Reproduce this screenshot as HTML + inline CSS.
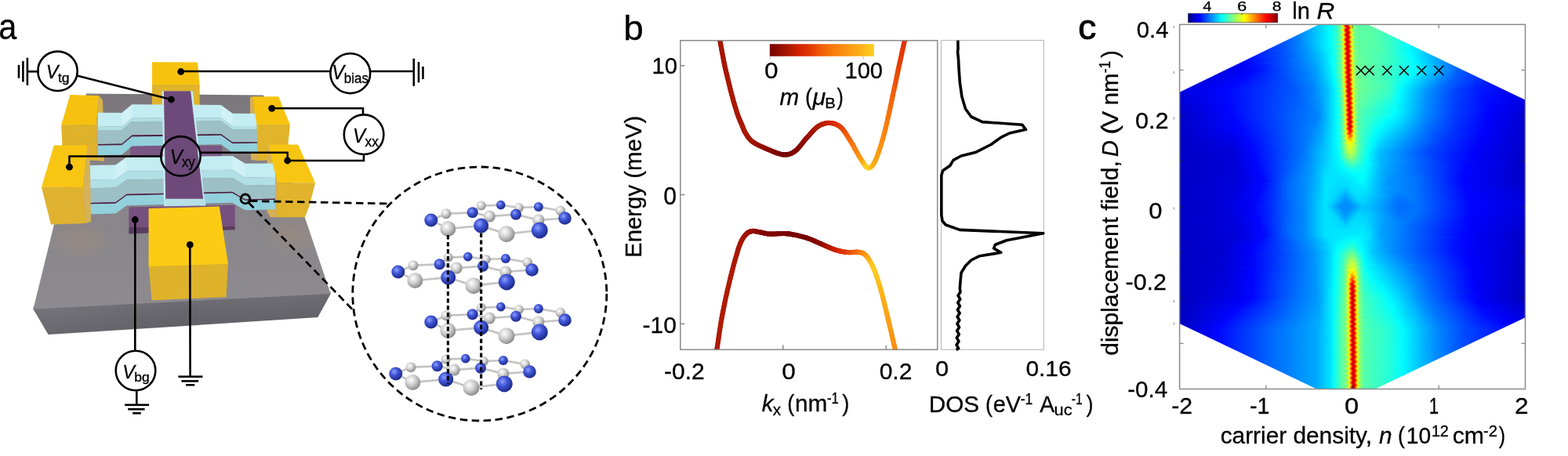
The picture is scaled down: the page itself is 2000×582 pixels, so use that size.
<!DOCTYPE html>
<html><head><meta charset="utf-8"><title>Figure</title>
<style>html,body{margin:0;padding:0;background:#fff;} svg{display:block;} text{stroke:#000;stroke-width:0.3px;}</style></head>
<body><svg width="2000" height="582" viewBox="0 0 2000 582">
<defs><linearGradient id="subTop" x1="0" y1="0" x2="0" y2="1">
<stop offset="0" stop-color="#7b767b"/><stop offset="0.45" stop-color="#87848a"/><stop offset="1" stop-color="#8d8b8f"/></linearGradient><linearGradient id="subFront" x1="0" y1="0" x2="0" y2="1">
<stop offset="0" stop-color="#717076"/><stop offset="1" stop-color="#5d5c62"/></linearGradient><linearGradient id="subFrontH" x1="0" y1="0" x2="1" y2="0">
<stop offset="0" stop-color="#ffffff" stop-opacity="0.08"/><stop offset="0.5" stop-color="#ffffff" stop-opacity="0"/><stop offset="1" stop-color="#000000" stop-opacity="0.03"/></linearGradient><filter id="tex" x="0" y="0" width="1" height="1"><feTurbulence type="fractalNoise" baseFrequency="0.9 1.1" numOctaves="2" seed="3" result="n"/>
<feColorMatrix in="n" type="matrix" values="0 0 0 0 0.66  0 0 0 0 0.47  0 0 0 0 0.05  0 0 0 4.2 -1.9" result="c"/>
<feComposite in="c" in2="SourceGraphic" operator="in" result="d"/>
<feMerge><feMergeNode in="SourceGraphic"/><feMergeNode in="d"/></feMerge></filter><radialGradient id="glowY" cx="0.5" cy="0.5" r="0.5"><stop offset="0" stop-color="#b09070" stop-opacity="0.35"/><stop offset="1" stop-color="#b09070" stop-opacity="0"/></radialGradient><clipPath id="clipSub"><polygon points="110.0,119.5 336.0,121.5 421.8,374.9 42.4,394.6"/></clipPath><radialGradient id="gB" cx="0.38" cy="0.35" r="0.65"><stop offset="0" stop-color="#8fa0ff"/><stop offset="0.45" stop-color="#3f55d6"/><stop offset="1" stop-color="#1f2a8a"/></radialGradient>
<radialGradient id="gG" cx="0.38" cy="0.35" r="0.65"><stop offset="0" stop-color="#ffffff"/><stop offset="0.5" stop-color="#cfcfcf"/><stop offset="1" stop-color="#8c8c8c"/></radialGradient><clipPath id="clipB"><rect x="867.8" y="51.7" width="327.9" height="394.5"/></clipPath><linearGradient id="cbB" x1="0" x2="1" y1="0" y2="0"><stop offset="0" stop-color="#780000"/><stop offset="0.1" stop-color="#940e00"/><stop offset="0.2" stop-color="#b21c02"/><stop offset="0.27" stop-color="#d02000"/><stop offset="0.4" stop-color="#e43c05"/><stop offset="0.5" stop-color="#f06008"/><stop offset="0.6" stop-color="#f87a0c"/><stop offset="0.72" stop-color="#fa9212"/><stop offset="0.85" stop-color="#fbac18"/><stop offset="1.0" stop-color="#fdd020"/></linearGradient><clipPath id="clipC"><polygon points="1505.0,117.5 1682.5,31.3 1745.0,31.3 1946.0,127.8 1946.0,405.0 1754.0,496.5 1679.3,496.5 1505.0,413.2"/></clipPath><linearGradient id="r0" x1="1504.6" x2="1945.5" y1="0" y2="0" gradientUnits="userSpaceOnUse"><stop offset="0.00%" stop-color="#0029ff"/><stop offset="25.86%" stop-color="#0034ff"/><stop offset="34.02%" stop-color="#007cff"/><stop offset="42.19%" stop-color="#00e9ff"/><stop offset="43.55%" stop-color="#01fffe"/><stop offset="45.29%" stop-color="#2effd1"/><stop offset="46.27%" stop-color="#6aff95"/><stop offset="46.65%" stop-color="#91ff6e"/><stop offset="46.95%" stop-color="#c1ff3e"/><stop offset="47.11%" stop-color="#e5ff1a"/><stop offset="47.33%" stop-color="#ffd700"/><stop offset="47.79%" stop-color="#ff3800"/><stop offset="48.02%" stop-color="#f30000"/><stop offset="48.31%" stop-color="#c80000"/><stop offset="48.47%" stop-color="#cc0000"/><stop offset="48.70%" stop-color="#f50000"/><stop offset="48.99%" stop-color="#ff5200"/><stop offset="49.38%" stop-color="#ffd700"/><stop offset="49.60%" stop-color="#e9ff16"/><stop offset="49.83%" stop-color="#bbff44"/><stop offset="50.28%" stop-color="#87ff78"/><stop offset="51.03%" stop-color="#64ff9b"/><stop offset="52.39%" stop-color="#58ffa7"/><stop offset="55.11%" stop-color="#5cffa3"/><stop offset="60.56%" stop-color="#3dffc2"/><stop offset="66.00%" stop-color="#00ffff"/><stop offset="74.17%" stop-color="#009aff"/><stop offset="85.73%" stop-color="#002bff"/><stop offset="97.30%" stop-color="#0000f9"/><stop offset="99.34%" stop-color="#0000f0"/></linearGradient><linearGradient id="r1" x1="1504.6" x2="1945.5" y1="0" y2="0" gradientUnits="userSpaceOnUse"><stop offset="0.00%" stop-color="#001eff"/><stop offset="25.18%" stop-color="#002fff"/><stop offset="33.34%" stop-color="#0074ff"/><stop offset="42.19%" stop-color="#00e9ff"/><stop offset="43.55%" stop-color="#01fffe"/><stop offset="45.59%" stop-color="#33ffcc"/><stop offset="46.68%" stop-color="#77ff88"/><stop offset="47.13%" stop-color="#b2ff4d"/><stop offset="47.36%" stop-color="#e2ff1d"/><stop offset="47.63%" stop-color="#ffce00"/><stop offset="48.04%" stop-color="#ff3e00"/><stop offset="48.26%" stop-color="#f70000"/><stop offset="48.49%" stop-color="#cd0000"/><stop offset="48.72%" stop-color="#cb0000"/><stop offset="48.99%" stop-color="#fc0000"/><stop offset="49.17%" stop-color="#ff3500"/><stop offset="49.67%" stop-color="#ffe000"/><stop offset="49.85%" stop-color="#edff12"/><stop offset="50.08%" stop-color="#bfff40"/><stop offset="50.53%" stop-color="#89ff76"/><stop offset="51.21%" stop-color="#67ff98"/><stop offset="52.39%" stop-color="#59ffa6"/><stop offset="55.79%" stop-color="#5affa5"/><stop offset="61.24%" stop-color="#37ffc8"/><stop offset="66.00%" stop-color="#00ffff"/><stop offset="74.17%" stop-color="#009aff"/><stop offset="85.73%" stop-color="#002bff"/><stop offset="97.30%" stop-color="#0000f9"/><stop offset="99.34%" stop-color="#0000f0"/></linearGradient><linearGradient id="r2" x1="1504.6" x2="1945.5" y1="0" y2="0" gradientUnits="userSpaceOnUse"><stop offset="0.00%" stop-color="#0012ff"/><stop offset="25.18%" stop-color="#002fff"/><stop offset="33.34%" stop-color="#0074ff"/><stop offset="42.19%" stop-color="#00e9ff"/><stop offset="43.55%" stop-color="#01fffe"/><stop offset="45.34%" stop-color="#2fffd0"/><stop offset="46.27%" stop-color="#67ff98"/><stop offset="46.70%" stop-color="#93ff6c"/><stop offset="46.95%" stop-color="#bbff44"/><stop offset="47.15%" stop-color="#e9ff16"/><stop offset="47.38%" stop-color="#ffd300"/><stop offset="47.83%" stop-color="#ff3400"/><stop offset="48.06%" stop-color="#f00000"/><stop offset="48.31%" stop-color="#c90000"/><stop offset="48.51%" stop-color="#ce0000"/><stop offset="48.74%" stop-color="#f80000"/><stop offset="48.99%" stop-color="#ff4700"/><stop offset="49.42%" stop-color="#ffdb00"/><stop offset="49.67%" stop-color="#e0ff1f"/><stop offset="49.88%" stop-color="#b9ff46"/><stop offset="50.35%" stop-color="#84ff7b"/><stop offset="51.24%" stop-color="#60ff9f"/><stop offset="53.07%" stop-color="#5bffa4"/><stop offset="56.48%" stop-color="#57ffa8"/><stop offset="61.24%" stop-color="#37ffc8"/><stop offset="66.00%" stop-color="#00ffff"/><stop offset="74.17%" stop-color="#009aff"/><stop offset="85.73%" stop-color="#002bff"/><stop offset="97.30%" stop-color="#0000f9"/><stop offset="99.34%" stop-color="#0000f0"/></linearGradient><linearGradient id="r3" x1="1504.6" x2="1945.5" y1="0" y2="0" gradientUnits="userSpaceOnUse"><stop offset="0.00%" stop-color="#0007ff"/><stop offset="23.81%" stop-color="#002bff"/><stop offset="32.66%" stop-color="#006cff"/><stop offset="40.83%" stop-color="#00d5ff"/><stop offset="43.55%" stop-color="#01fffe"/><stop offset="45.34%" stop-color="#29ffd6"/><stop offset="46.47%" stop-color="#64ff9b"/><stop offset="46.95%" stop-color="#92ff6d"/><stop offset="47.38%" stop-color="#e0ff1f"/><stop offset="47.63%" stop-color="#ffd800"/><stop offset="48.06%" stop-color="#ff4100"/><stop offset="48.31%" stop-color="#f40000"/><stop offset="48.51%" stop-color="#ce0000"/><stop offset="48.74%" stop-color="#ca0000"/><stop offset="48.99%" stop-color="#f40000"/><stop offset="49.19%" stop-color="#ff3200"/><stop offset="49.67%" stop-color="#ffd600"/><stop offset="49.88%" stop-color="#efff10"/><stop offset="50.10%" stop-color="#c0ff3f"/><stop offset="50.56%" stop-color="#8aff75"/><stop offset="51.24%" stop-color="#68ff97"/><stop offset="52.39%" stop-color="#5affa5"/><stop offset="55.79%" stop-color="#5affa5"/><stop offset="61.24%" stop-color="#37ffc8"/><stop offset="66.00%" stop-color="#00ffff"/><stop offset="74.17%" stop-color="#009aff"/><stop offset="85.73%" stop-color="#002bff"/><stop offset="97.30%" stop-color="#0000f9"/><stop offset="99.34%" stop-color="#0000f0"/></linearGradient><linearGradient id="r4" x1="1504.6" x2="1945.5" y1="0" y2="0" gradientUnits="userSpaceOnUse"><stop offset="0.00%" stop-color="#0000fa"/><stop offset="19.05%" stop-color="#001dff"/><stop offset="25.86%" stop-color="#0034ff"/><stop offset="34.02%" stop-color="#007cff"/><stop offset="42.19%" stop-color="#00e9ff"/><stop offset="43.55%" stop-color="#01fffe"/><stop offset="45.36%" stop-color="#2fffd0"/><stop offset="46.27%" stop-color="#65ff9a"/><stop offset="46.72%" stop-color="#92ff6d"/><stop offset="46.95%" stop-color="#b5ff4a"/><stop offset="47.18%" stop-color="#e6ff19"/><stop offset="47.40%" stop-color="#ffd600"/><stop offset="47.86%" stop-color="#ff3700"/><stop offset="48.08%" stop-color="#f20000"/><stop offset="48.31%" stop-color="#cc0000"/><stop offset="48.54%" stop-color="#cd0000"/><stop offset="48.76%" stop-color="#f50000"/><stop offset="48.99%" stop-color="#ff3b00"/><stop offset="49.44%" stop-color="#ffd800"/><stop offset="49.67%" stop-color="#e8ff17"/><stop offset="49.90%" stop-color="#bbff44"/><stop offset="50.35%" stop-color="#87ff78"/><stop offset="51.03%" stop-color="#66ff99"/><stop offset="52.39%" stop-color="#58ffa7"/><stop offset="55.11%" stop-color="#5cffa3"/><stop offset="60.56%" stop-color="#3dffc2"/><stop offset="66.00%" stop-color="#00ffff"/><stop offset="74.17%" stop-color="#009aff"/><stop offset="85.73%" stop-color="#002bff"/><stop offset="97.30%" stop-color="#0000f9"/><stop offset="99.34%" stop-color="#0000f0"/></linearGradient><linearGradient id="r5" x1="1504.6" x2="1945.5" y1="0" y2="0" gradientUnits="userSpaceOnUse"><stop offset="0.00%" stop-color="#0000ef"/><stop offset="14.97%" stop-color="#000aff"/><stop offset="26.54%" stop-color="#003aff"/><stop offset="34.02%" stop-color="#007cff"/><stop offset="42.19%" stop-color="#00e9ff"/><stop offset="43.55%" stop-color="#01fffe"/><stop offset="45.61%" stop-color="#33ffcc"/><stop offset="46.52%" stop-color="#65ff9a"/><stop offset="46.97%" stop-color="#91ff6e"/><stop offset="47.20%" stop-color="#b3ff4c"/><stop offset="47.43%" stop-color="#e3ff1c"/><stop offset="47.65%" stop-color="#ffdb00"/><stop offset="48.11%" stop-color="#ff3d00"/><stop offset="48.31%" stop-color="#fc0000"/><stop offset="48.56%" stop-color="#cd0000"/><stop offset="48.79%" stop-color="#cb0000"/><stop offset="49.01%" stop-color="#f10000"/><stop offset="49.24%" stop-color="#ff3600"/><stop offset="49.69%" stop-color="#ffd300"/><stop offset="49.92%" stop-color="#ecff13"/><stop offset="50.15%" stop-color="#beff41"/><stop offset="50.60%" stop-color="#89ff76"/><stop offset="51.28%" stop-color="#68ff97"/><stop offset="52.39%" stop-color="#5affa5"/><stop offset="55.79%" stop-color="#5affa5"/><stop offset="61.24%" stop-color="#37ffc8"/><stop offset="66.00%" stop-color="#00ffff"/><stop offset="74.17%" stop-color="#009aff"/><stop offset="85.73%" stop-color="#002bff"/><stop offset="97.30%" stop-color="#0000f9"/><stop offset="99.34%" stop-color="#0000f0"/></linearGradient><linearGradient id="r6" x1="1504.6" x2="1945.5" y1="0" y2="0" gradientUnits="userSpaceOnUse"><stop offset="0.00%" stop-color="#0000e3"/><stop offset="15.65%" stop-color="#0007ff"/><stop offset="26.54%" stop-color="#003aff"/><stop offset="34.02%" stop-color="#007cff"/><stop offset="42.19%" stop-color="#00e9ff"/><stop offset="43.55%" stop-color="#01fffe"/><stop offset="45.41%" stop-color="#30ffcf"/><stop offset="46.31%" stop-color="#66ff99"/><stop offset="46.77%" stop-color="#94ff6b"/><stop offset="46.99%" stop-color="#b8ff47"/><stop offset="47.22%" stop-color="#eaff15"/><stop offset="47.45%" stop-color="#ffd200"/><stop offset="47.90%" stop-color="#ff3300"/><stop offset="48.13%" stop-color="#ef0000"/><stop offset="48.36%" stop-color="#ca0000"/><stop offset="48.58%" stop-color="#ce0000"/><stop offset="48.81%" stop-color="#f90000"/><stop offset="49.04%" stop-color="#ff4000"/><stop offset="49.49%" stop-color="#ffdc00"/><stop offset="49.67%" stop-color="#f0ff0f"/><stop offset="49.94%" stop-color="#b9ff46"/><stop offset="50.40%" stop-color="#86ff79"/><stop offset="51.30%" stop-color="#60ff9f"/><stop offset="53.07%" stop-color="#5bffa4"/><stop offset="56.48%" stop-color="#57ffa8"/><stop offset="61.24%" stop-color="#37ffc8"/><stop offset="66.00%" stop-color="#00ffff"/><stop offset="74.17%" stop-color="#009aff"/><stop offset="85.73%" stop-color="#002bff"/><stop offset="97.30%" stop-color="#0000f9"/><stop offset="99.34%" stop-color="#0000f0"/></linearGradient><linearGradient id="r7" x1="1504.6" x2="1945.5" y1="0" y2="0" gradientUnits="userSpaceOnUse"><stop offset="0.00%" stop-color="#0000d8"/><stop offset="16.33%" stop-color="#0004ff"/><stop offset="27.90%" stop-color="#0044ff"/><stop offset="34.70%" stop-color="#0083ff"/><stop offset="43.55%" stop-color="#01fffe"/><stop offset="45.63%" stop-color="#33ffcc"/><stop offset="46.54%" stop-color="#64ff9b"/><stop offset="46.99%" stop-color="#8fff70"/><stop offset="47.22%" stop-color="#b1ff4e"/><stop offset="47.45%" stop-color="#e1ff1e"/><stop offset="47.63%" stop-color="#ffec00"/><stop offset="48.31%" stop-color="#ff0600"/><stop offset="48.58%" stop-color="#ce0000"/><stop offset="48.81%" stop-color="#cb0000"/><stop offset="49.04%" stop-color="#ef0000"/><stop offset="49.26%" stop-color="#ff3300"/><stop offset="49.72%" stop-color="#ffd000"/><stop offset="49.94%" stop-color="#efff10"/><stop offset="50.35%" stop-color="#a5ff5a"/><stop offset="50.85%" stop-color="#7bff84"/><stop offset="51.76%" stop-color="#5effa1"/><stop offset="57.16%" stop-color="#54ffab"/><stop offset="61.92%" stop-color="#30ffcf"/><stop offset="66.00%" stop-color="#00ffff"/><stop offset="74.17%" stop-color="#009aff"/><stop offset="85.73%" stop-color="#002bff"/><stop offset="97.30%" stop-color="#0000f9"/><stop offset="99.34%" stop-color="#0000f0"/></linearGradient><linearGradient id="r8" x1="1504.6" x2="1945.5" y1="0" y2="0" gradientUnits="userSpaceOnUse"><stop offset="0.00%" stop-color="#0000d3"/><stop offset="17.01%" stop-color="#0004ff"/><stop offset="28.58%" stop-color="#0049ff"/><stop offset="34.70%" stop-color="#0082ff"/><stop offset="42.87%" stop-color="#00f3ff"/><stop offset="43.55%" stop-color="#00ffff"/><stop offset="45.43%" stop-color="#30ffcf"/><stop offset="46.34%" stop-color="#65ff9a"/><stop offset="46.95%" stop-color="#aaff55"/><stop offset="47.24%" stop-color="#e8ff17"/><stop offset="47.47%" stop-color="#ffd500"/><stop offset="47.92%" stop-color="#ff3600"/><stop offset="48.15%" stop-color="#f10000"/><stop offset="48.38%" stop-color="#cb0000"/><stop offset="48.61%" stop-color="#cd0000"/><stop offset="48.83%" stop-color="#f60000"/><stop offset="49.06%" stop-color="#ff3d00"/><stop offset="49.51%" stop-color="#ffd900"/><stop offset="49.67%" stop-color="#f8ff07"/><stop offset="49.97%" stop-color="#bbff44"/><stop offset="50.42%" stop-color="#87ff78"/><stop offset="51.33%" stop-color="#61ff9e"/><stop offset="53.07%" stop-color="#5cffa3"/><stop offset="57.16%" stop-color="#54ffab"/><stop offset="62.60%" stop-color="#2affd5"/><stop offset="66.00%" stop-color="#01fffe"/><stop offset="78.25%" stop-color="#006fff"/><stop offset="86.41%" stop-color="#0029ff"/><stop offset="97.30%" stop-color="#0000f8"/><stop offset="99.34%" stop-color="#0000ef"/></linearGradient><linearGradient id="r9" x1="1504.6" x2="1945.5" y1="0" y2="0" gradientUnits="userSpaceOnUse"><stop offset="0.00%" stop-color="#0000d1"/><stop offset="17.69%" stop-color="#0006ff"/><stop offset="29.26%" stop-color="#004dff"/><stop offset="36.06%" stop-color="#0090ff"/><stop offset="43.55%" stop-color="#00fdff"/><stop offset="45.59%" stop-color="#2fffd0"/><stop offset="46.59%" stop-color="#66ff99"/><stop offset="47.04%" stop-color="#92ff6d"/><stop offset="47.27%" stop-color="#b5ff4a"/><stop offset="47.49%" stop-color="#e5ff1a"/><stop offset="47.63%" stop-color="#fff500"/><stop offset="48.31%" stop-color="#ff0f00"/><stop offset="48.40%" stop-color="#f50000"/><stop offset="48.63%" stop-color="#cd0000"/><stop offset="48.85%" stop-color="#cc0000"/><stop offset="49.08%" stop-color="#f20000"/><stop offset="49.31%" stop-color="#ff3700"/><stop offset="49.76%" stop-color="#ffd300"/><stop offset="49.99%" stop-color="#ecff13"/><stop offset="50.35%" stop-color="#aaff55"/><stop offset="50.90%" stop-color="#7cff83"/><stop offset="51.80%" stop-color="#60ff9f"/><stop offset="59.20%" stop-color="#4affb5"/><stop offset="66.00%" stop-color="#02fffd"/><stop offset="80.29%" stop-color="#005cff"/><stop offset="86.41%" stop-color="#002aff"/><stop offset="96.62%" stop-color="#0000fa"/><stop offset="99.34%" stop-color="#0000ee"/></linearGradient><linearGradient id="r10" x1="1504.6" x2="1945.5" y1="0" y2="0" gradientUnits="userSpaceOnUse"><stop offset="0.00%" stop-color="#0000cf"/><stop offset="17.69%" stop-color="#0005ff"/><stop offset="29.26%" stop-color="#004cff"/><stop offset="36.74%" stop-color="#0096ff"/><stop offset="43.55%" stop-color="#00fbff"/><stop offset="44.91%" stop-color="#1bffe4"/><stop offset="45.91%" stop-color="#46ffb9"/><stop offset="46.59%" stop-color="#79ff86"/><stop offset="47.04%" stop-color="#b6ff49"/><stop offset="47.27%" stop-color="#e6ff19"/><stop offset="47.49%" stop-color="#ffd700"/><stop offset="47.95%" stop-color="#ff3900"/><stop offset="48.17%" stop-color="#f40000"/><stop offset="48.40%" stop-color="#cc0000"/><stop offset="48.63%" stop-color="#cc0000"/><stop offset="48.85%" stop-color="#f40000"/><stop offset="48.99%" stop-color="#ff1b00"/><stop offset="49.67%" stop-color="#fffd00"/><stop offset="49.99%" stop-color="#beff41"/><stop offset="50.44%" stop-color="#8aff75"/><stop offset="51.35%" stop-color="#63ff9c"/><stop offset="53.07%" stop-color="#5cffa3"/><stop offset="58.52%" stop-color="#4effb1"/><stop offset="66.68%" stop-color="#00faff"/><stop offset="80.97%" stop-color="#0056ff"/><stop offset="87.78%" stop-color="#0024ff"/><stop offset="96.62%" stop-color="#0000fa"/><stop offset="99.34%" stop-color="#0000ed"/></linearGradient><linearGradient id="r11" x1="1504.6" x2="1945.5" y1="0" y2="0" gradientUnits="userSpaceOnUse"><stop offset="0.00%" stop-color="#0000ce"/><stop offset="18.37%" stop-color="#0006ff"/><stop offset="29.94%" stop-color="#0051ff"/><stop offset="38.78%" stop-color="#00adff"/><stop offset="43.55%" stop-color="#00faff"/><stop offset="44.91%" stop-color="#18ffe7"/><stop offset="46.16%" stop-color="#49ffb6"/><stop offset="46.95%" stop-color="#85ff7a"/><stop offset="47.29%" stop-color="#b5ff4a"/><stop offset="47.63%" stop-color="#fffd00"/><stop offset="48.31%" stop-color="#ff1900"/><stop offset="48.42%" stop-color="#f80000"/><stop offset="48.65%" stop-color="#ce0000"/><stop offset="48.88%" stop-color="#cb0000"/><stop offset="49.10%" stop-color="#f00000"/><stop offset="49.33%" stop-color="#ff3400"/><stop offset="49.78%" stop-color="#ffd000"/><stop offset="50.01%" stop-color="#efff10"/><stop offset="50.35%" stop-color="#b0ff4f"/><stop offset="50.92%" stop-color="#7eff81"/><stop offset="51.83%" stop-color="#62ff9d"/><stop offset="59.20%" stop-color="#49ffb6"/><stop offset="66.68%" stop-color="#00fcff"/><stop offset="80.97%" stop-color="#0057ff"/><stop offset="88.46%" stop-color="#0021ff"/><stop offset="96.62%" stop-color="#0000f9"/><stop offset="99.34%" stop-color="#0000ec"/></linearGradient><linearGradient id="r12" x1="1504.6" x2="1945.5" y1="0" y2="0" gradientUnits="userSpaceOnUse"><stop offset="0.00%" stop-color="#0000cc"/><stop offset="18.37%" stop-color="#0005ff"/><stop offset="28.58%" stop-color="#0046ff"/><stop offset="36.74%" stop-color="#0092ff"/><stop offset="41.51%" stop-color="#00d3ff"/><stop offset="44.23%" stop-color="#07fff8"/><stop offset="45.72%" stop-color="#3affc5"/><stop offset="46.63%" stop-color="#7bff84"/><stop offset="47.09%" stop-color="#b9ff46"/><stop offset="47.31%" stop-color="#ebff14"/><stop offset="47.54%" stop-color="#ffd200"/><stop offset="47.99%" stop-color="#ff3400"/><stop offset="48.22%" stop-color="#f00000"/><stop offset="48.45%" stop-color="#cb0000"/><stop offset="48.67%" stop-color="#cd0000"/><stop offset="48.90%" stop-color="#f70000"/><stop offset="48.99%" stop-color="#ff1200"/><stop offset="49.67%" stop-color="#fff300"/><stop offset="49.81%" stop-color="#e9ff16"/><stop offset="50.03%" stop-color="#bdff42"/><stop offset="50.49%" stop-color="#8bff74"/><stop offset="51.39%" stop-color="#65ff9a"/><stop offset="59.88%" stop-color="#42ffbd"/><stop offset="66.68%" stop-color="#00feff"/><stop offset="80.97%" stop-color="#0058ff"/><stop offset="89.14%" stop-color="#001eff"/><stop offset="96.62%" stop-color="#0000f8"/><stop offset="99.34%" stop-color="#0000eb"/></linearGradient><linearGradient id="r13" x1="1504.6" x2="1945.5" y1="0" y2="0" gradientUnits="userSpaceOnUse"><stop offset="0.00%" stop-color="#0000ca"/><stop offset="19.05%" stop-color="#0006ff"/><stop offset="31.98%" stop-color="#005fff"/><stop offset="40.15%" stop-color="#00b9ff"/><stop offset="44.23%" stop-color="#04fffb"/><stop offset="45.97%" stop-color="#3effc1"/><stop offset="46.88%" stop-color="#7cff83"/><stop offset="47.33%" stop-color="#b8ff47"/><stop offset="47.63%" stop-color="#f9ff06"/><stop offset="47.79%" stop-color="#ffd700"/><stop offset="48.31%" stop-color="#ff2300"/><stop offset="48.47%" stop-color="#f40000"/><stop offset="48.70%" stop-color="#cc0000"/><stop offset="48.92%" stop-color="#cc0000"/><stop offset="49.15%" stop-color="#f30000"/><stop offset="49.38%" stop-color="#ff3800"/><stop offset="49.83%" stop-color="#ffd300"/><stop offset="50.06%" stop-color="#edff12"/><stop offset="50.35%" stop-color="#b6ff49"/><stop offset="50.74%" stop-color="#8dff72"/><stop offset="51.71%" stop-color="#66ff99"/><stop offset="59.88%" stop-color="#42ffbd"/><stop offset="66.68%" stop-color="#01fffe"/><stop offset="81.65%" stop-color="#0053ff"/><stop offset="91.86%" stop-color="#0010ff"/><stop offset="97.30%" stop-color="#0000f4"/><stop offset="99.34%" stop-color="#0000ea"/></linearGradient><linearGradient id="r14" x1="1504.6" x2="1945.5" y1="0" y2="0" gradientUnits="userSpaceOnUse"><stop offset="0.00%" stop-color="#0000c9"/><stop offset="19.05%" stop-color="#0005ff"/><stop offset="28.58%" stop-color="#0044ff"/><stop offset="38.10%" stop-color="#009cff"/><stop offset="42.19%" stop-color="#00dbff"/><stop offset="44.23%" stop-color="#04fffb"/><stop offset="45.75%" stop-color="#39ffc6"/><stop offset="46.65%" stop-color="#7bff84"/><stop offset="47.11%" stop-color="#b9ff46"/><stop offset="47.33%" stop-color="#e9ff16"/><stop offset="47.56%" stop-color="#ffd500"/><stop offset="48.02%" stop-color="#ff3800"/><stop offset="48.24%" stop-color="#f30000"/><stop offset="48.47%" stop-color="#cc0000"/><stop offset="48.70%" stop-color="#cd0000"/><stop offset="48.92%" stop-color="#f50000"/><stop offset="48.99%" stop-color="#ff0800"/><stop offset="49.67%" stop-color="#ffe900"/><stop offset="49.83%" stop-color="#ecff13"/><stop offset="50.06%" stop-color="#bfff40"/><stop offset="50.51%" stop-color="#8dff72"/><stop offset="51.42%" stop-color="#67ff98"/><stop offset="59.88%" stop-color="#42ffbd"/><stop offset="67.36%" stop-color="#00fbff"/><stop offset="80.97%" stop-color="#005aff"/><stop offset="91.18%" stop-color="#0013ff"/><stop offset="96.62%" stop-color="#0000f7"/><stop offset="99.34%" stop-color="#0000e9"/></linearGradient><linearGradient id="r15" x1="1504.6" x2="1945.5" y1="0" y2="0" gradientUnits="userSpaceOnUse"><stop offset="0.00%" stop-color="#0000c7"/><stop offset="17.69%" stop-color="#0000fc"/><stop offset="23.81%" stop-color="#001fff"/><stop offset="36.06%" stop-color="#0085ff"/><stop offset="40.83%" stop-color="#00bfff"/><stop offset="44.23%" stop-color="#01fffe"/><stop offset="46.00%" stop-color="#3dffc2"/><stop offset="46.95%" stop-color="#81ff7e"/><stop offset="47.36%" stop-color="#b8ff47"/><stop offset="47.63%" stop-color="#f2ff0d"/><stop offset="47.81%" stop-color="#ffd900"/><stop offset="48.31%" stop-color="#ff2e00"/><stop offset="48.49%" stop-color="#f70000"/><stop offset="48.72%" stop-color="#cd0000"/><stop offset="48.99%" stop-color="#d00000"/><stop offset="49.17%" stop-color="#f10000"/><stop offset="49.40%" stop-color="#ff3500"/><stop offset="49.85%" stop-color="#ffd000"/><stop offset="50.08%" stop-color="#f0ff0f"/><stop offset="50.35%" stop-color="#bcff43"/><stop offset="50.76%" stop-color="#90ff6f"/><stop offset="51.67%" stop-color="#6aff95"/><stop offset="60.56%" stop-color="#3cffc3"/><stop offset="67.36%" stop-color="#00fdff"/><stop offset="81.65%" stop-color="#0055ff"/><stop offset="93.90%" stop-color="#0005ff"/><stop offset="99.34%" stop-color="#0000e8"/></linearGradient><linearGradient id="r16" x1="1504.6" x2="1945.5" y1="0" y2="0" gradientUnits="userSpaceOnUse"><stop offset="0.00%" stop-color="#0000c6"/><stop offset="19.73%" stop-color="#0004ff"/><stop offset="34.70%" stop-color="#0075ff"/><stop offset="40.15%" stop-color="#00b0ff"/><stop offset="44.23%" stop-color="#00ffff"/><stop offset="45.79%" stop-color="#3affc5"/><stop offset="46.70%" stop-color="#7dff82"/><stop offset="47.15%" stop-color="#bcff43"/><stop offset="47.38%" stop-color="#eeff11"/><stop offset="47.63%" stop-color="#ffc900"/><stop offset="48.06%" stop-color="#ff3300"/><stop offset="48.31%" stop-color="#ea0000"/><stop offset="48.51%" stop-color="#cb0000"/><stop offset="48.74%" stop-color="#ce0000"/><stop offset="48.99%" stop-color="#fe0000"/><stop offset="49.67%" stop-color="#ffe000"/><stop offset="49.88%" stop-color="#eaff15"/><stop offset="50.10%" stop-color="#bfff40"/><stop offset="50.56%" stop-color="#8eff71"/><stop offset="51.46%" stop-color="#69ff96"/><stop offset="60.56%" stop-color="#3cffc3"/><stop offset="68.04%" stop-color="#00f9ff"/><stop offset="80.97%" stop-color="#005bff"/><stop offset="93.22%" stop-color="#0008ff"/><stop offset="99.34%" stop-color="#0000e7"/></linearGradient><linearGradient id="r17" x1="1504.6" x2="1945.5" y1="0" y2="0" gradientUnits="userSpaceOnUse"><stop offset="0.00%" stop-color="#0000c4"/><stop offset="17.69%" stop-color="#0000f9"/><stop offset="23.13%" stop-color="#0017ff"/><stop offset="37.42%" stop-color="#008eff"/><stop offset="40.15%" stop-color="#00adff"/><stop offset="44.23%" stop-color="#00fdff"/><stop offset="45.79%" stop-color="#32ffcd"/><stop offset="46.70%" stop-color="#6aff95"/><stop offset="47.15%" stop-color="#97ff68"/><stop offset="47.38%" stop-color="#b8ff47"/><stop offset="47.63%" stop-color="#ebff14"/><stop offset="47.83%" stop-color="#ffdb00"/><stop offset="48.31%" stop-color="#ff3900"/><stop offset="48.51%" stop-color="#f90000"/><stop offset="48.74%" stop-color="#ce0000"/><stop offset="48.99%" stop-color="#cc0000"/><stop offset="49.19%" stop-color="#ee0000"/><stop offset="49.42%" stop-color="#ff3100"/><stop offset="49.88%" stop-color="#ffcd00"/><stop offset="50.10%" stop-color="#f3ff0c"/><stop offset="50.35%" stop-color="#c2ff3d"/><stop offset="50.78%" stop-color="#92ff6d"/><stop offset="51.69%" stop-color="#6cff93"/><stop offset="56.48%" stop-color="#53ffac"/><stop offset="64.64%" stop-color="#1bffe4"/><stop offset="68.04%" stop-color="#00fbff"/><stop offset="80.97%" stop-color="#005cff"/><stop offset="93.90%" stop-color="#0004ff"/><stop offset="99.34%" stop-color="#0000e6"/></linearGradient><linearGradient id="r18" x1="1504.6" x2="1945.5" y1="0" y2="0" gradientUnits="userSpaceOnUse"><stop offset="0.00%" stop-color="#0000c3"/><stop offset="17.69%" stop-color="#0000f7"/><stop offset="22.45%" stop-color="#0010ff"/><stop offset="38.78%" stop-color="#0098ff"/><stop offset="42.87%" stop-color="#00e0ff"/><stop offset="44.23%" stop-color="#00fcff"/><stop offset="45.59%" stop-color="#2effd1"/><stop offset="46.50%" stop-color="#69ff96"/><stop offset="46.95%" stop-color="#98ff67"/><stop offset="47.18%" stop-color="#bcff43"/><stop offset="47.40%" stop-color="#edff12"/><stop offset="47.63%" stop-color="#ffd200"/><stop offset="48.08%" stop-color="#ff3600"/><stop offset="48.31%" stop-color="#f20000"/><stop offset="48.54%" stop-color="#cb0000"/><stop offset="48.76%" stop-color="#cd0000"/><stop offset="48.99%" stop-color="#f60000"/><stop offset="49.22%" stop-color="#ff3b00"/><stop offset="49.67%" stop-color="#ffd500"/><stop offset="49.90%" stop-color="#edff12"/><stop offset="50.12%" stop-color="#c1ff3e"/><stop offset="50.58%" stop-color="#90ff6f"/><stop offset="51.49%" stop-color="#6bff94"/><stop offset="60.56%" stop-color="#3bffc4"/><stop offset="68.04%" stop-color="#00feff"/><stop offset="80.29%" stop-color="#0063ff"/><stop offset="93.22%" stop-color="#0008ff"/><stop offset="98.66%" stop-color="#0000e9"/><stop offset="99.34%" stop-color="#0000e5"/></linearGradient><linearGradient id="r19" x1="1504.6" x2="1945.5" y1="0" y2="0" gradientUnits="userSpaceOnUse"><stop offset="0.00%" stop-color="#0000c2"/><stop offset="17.69%" stop-color="#0000f6"/><stop offset="22.45%" stop-color="#000eff"/><stop offset="39.46%" stop-color="#009cff"/><stop offset="44.23%" stop-color="#00faff"/><stop offset="45.61%" stop-color="#28ffd7"/><stop offset="46.75%" stop-color="#6cff93"/><stop offset="47.20%" stop-color="#9aff65"/><stop offset="47.65%" stop-color="#eaff15"/><stop offset="47.88%" stop-color="#ffd700"/><stop offset="48.33%" stop-color="#ff3c00"/><stop offset="48.56%" stop-color="#f60000"/><stop offset="48.79%" stop-color="#cd0000"/><stop offset="49.01%" stop-color="#cb0000"/><stop offset="49.24%" stop-color="#f20000"/><stop offset="49.47%" stop-color="#ff3600"/><stop offset="49.92%" stop-color="#ffd000"/><stop offset="50.15%" stop-color="#f1ff0e"/><stop offset="50.37%" stop-color="#c5ff3a"/><stop offset="50.83%" stop-color="#93ff6c"/><stop offset="51.74%" stop-color="#6eff91"/><stop offset="55.79%" stop-color="#55ffaa"/><stop offset="62.60%" stop-color="#2cffd3"/><stop offset="68.04%" stop-color="#01fffe"/><stop offset="80.97%" stop-color="#005dff"/><stop offset="93.22%" stop-color="#0007ff"/><stop offset="99.34%" stop-color="#0000e4"/></linearGradient><linearGradient id="r20" x1="1504.6" x2="1945.5" y1="0" y2="0" gradientUnits="userSpaceOnUse"><stop offset="0.00%" stop-color="#0000c5"/><stop offset="18.37%" stop-color="#0000fc"/><stop offset="23.13%" stop-color="#0017ff"/><stop offset="38.78%" stop-color="#0093ff"/><stop offset="42.87%" stop-color="#00daff"/><stop offset="44.23%" stop-color="#00f8ff"/><stop offset="44.91%" stop-color="#0dfff2"/><stop offset="46.09%" stop-color="#46ffb9"/><stop offset="46.77%" stop-color="#7eff81"/><stop offset="47.22%" stop-color="#beff41"/><stop offset="47.45%" stop-color="#efff10"/><stop offset="47.68%" stop-color="#ffcf00"/><stop offset="48.13%" stop-color="#ff3300"/><stop offset="48.31%" stop-color="#fb0000"/><stop offset="48.58%" stop-color="#cb0000"/><stop offset="48.81%" stop-color="#ce0000"/><stop offset="49.04%" stop-color="#f80000"/><stop offset="49.26%" stop-color="#ff3f00"/><stop offset="49.72%" stop-color="#ffd800"/><stop offset="49.94%" stop-color="#ebff14"/><stop offset="50.35%" stop-color="#a8ff57"/><stop offset="51.03%" stop-color="#7bff84"/><stop offset="51.98%" stop-color="#66ff99"/><stop offset="60.56%" stop-color="#3bffc4"/><stop offset="68.04%" stop-color="#00f8ff"/><stop offset="80.29%" stop-color="#005fff"/><stop offset="93.90%" stop-color="#0003ff"/><stop offset="99.34%" stop-color="#0000e5"/></linearGradient><linearGradient id="r21" x1="1504.6" x2="1945.5" y1="0" y2="0" gradientUnits="userSpaceOnUse"><stop offset="0.00%" stop-color="#0000c8"/><stop offset="19.73%" stop-color="#0006ff"/><stop offset="36.74%" stop-color="#007eff"/><stop offset="40.15%" stop-color="#00a3ff"/><stop offset="44.23%" stop-color="#00f4ff"/><stop offset="44.91%" stop-color="#08fff7"/><stop offset="46.27%" stop-color="#43ffbc"/><stop offset="47.02%" stop-color="#7eff81"/><stop offset="47.47%" stop-color="#bcff43"/><stop offset="47.70%" stop-color="#ebff14"/><stop offset="47.92%" stop-color="#ffd500"/><stop offset="48.38%" stop-color="#ff3900"/><stop offset="48.61%" stop-color="#f40000"/><stop offset="48.83%" stop-color="#cc0000"/><stop offset="49.06%" stop-color="#cc0000"/><stop offset="49.29%" stop-color="#f30000"/><stop offset="49.51%" stop-color="#ff3800"/><stop offset="49.97%" stop-color="#ffd200"/><stop offset="50.19%" stop-color="#efff10"/><stop offset="50.42%" stop-color="#c4ff3b"/><stop offset="50.87%" stop-color="#92ff6d"/><stop offset="51.78%" stop-color="#6eff91"/><stop offset="56.48%" stop-color="#54ffab"/><stop offset="61.92%" stop-color="#2dffd2"/><stop offset="66.68%" stop-color="#00feff"/><stop offset="80.97%" stop-color="#0055ff"/><stop offset="93.90%" stop-color="#0003ff"/><stop offset="99.34%" stop-color="#0000e7"/></linearGradient><linearGradient id="r22" x1="1504.6" x2="1945.5" y1="0" y2="0" gradientUnits="userSpaceOnUse"><stop offset="0.00%" stop-color="#0000cc"/><stop offset="18.37%" stop-color="#0004ff"/><stop offset="29.26%" stop-color="#0044ff"/><stop offset="39.46%" stop-color="#0097ff"/><stop offset="44.91%" stop-color="#06fff9"/><stop offset="46.11%" stop-color="#40ffbf"/><stop offset="46.79%" stop-color="#79ff86"/><stop offset="47.24%" stop-color="#b9ff46"/><stop offset="47.47%" stop-color="#eaff15"/><stop offset="47.63%" stop-color="#ffe900"/><stop offset="48.31%" stop-color="#ff0600"/><stop offset="48.61%" stop-color="#cc0000"/><stop offset="48.83%" stop-color="#cc0000"/><stop offset="49.06%" stop-color="#f40000"/><stop offset="49.29%" stop-color="#ff3900"/><stop offset="49.74%" stop-color="#ffd400"/><stop offset="49.97%" stop-color="#eeff11"/><stop offset="50.35%" stop-color="#adff52"/><stop offset="50.87%" stop-color="#84ff7b"/><stop offset="52.01%" stop-color="#67ff98"/><stop offset="60.56%" stop-color="#3bffc4"/><stop offset="66.00%" stop-color="#00feff"/><stop offset="80.29%" stop-color="#0057ff"/><stop offset="93.22%" stop-color="#0006ff"/><stop offset="99.34%" stop-color="#0000e8"/></linearGradient><linearGradient id="r23" x1="1504.6" x2="1945.5" y1="0" y2="0" gradientUnits="userSpaceOnUse"><stop offset="0.00%" stop-color="#0000d0"/><stop offset="17.69%" stop-color="#0005ff"/><stop offset="31.30%" stop-color="#0051ff"/><stop offset="39.46%" stop-color="#0095ff"/><stop offset="44.23%" stop-color="#00eeff"/><stop offset="44.91%" stop-color="#01fffe"/><stop offset="46.27%" stop-color="#3cffc3"/><stop offset="47.04%" stop-color="#7aff85"/><stop offset="47.49%" stop-color="#b7ff48"/><stop offset="47.72%" stop-color="#e6ff19"/><stop offset="47.95%" stop-color="#ffda00"/><stop offset="48.40%" stop-color="#ff3f00"/><stop offset="48.63%" stop-color="#f80000"/><stop offset="48.85%" stop-color="#ce0000"/><stop offset="49.08%" stop-color="#cb0000"/><stop offset="49.31%" stop-color="#ef0000"/><stop offset="49.54%" stop-color="#ff3300"/><stop offset="49.99%" stop-color="#ffce00"/><stop offset="50.22%" stop-color="#f3ff0c"/><stop offset="50.44%" stop-color="#c6ff39"/><stop offset="50.90%" stop-color="#94ff6b"/><stop offset="51.80%" stop-color="#6fff90"/><stop offset="54.43%" stop-color="#5dffa2"/><stop offset="60.56%" stop-color="#3cffc3"/><stop offset="65.32%" stop-color="#01fffe"/><stop offset="78.93%" stop-color="#005fff"/><stop offset="91.86%" stop-color="#000bff"/><stop offset="97.30%" stop-color="#0000f2"/><stop offset="99.34%" stop-color="#0000e9"/></linearGradient><linearGradient id="r24" x1="1504.6" x2="1945.5" y1="0" y2="0" gradientUnits="userSpaceOnUse"><stop offset="0.00%" stop-color="#0000d3"/><stop offset="17.01%" stop-color="#0006ff"/><stop offset="31.30%" stop-color="#0050ff"/><stop offset="38.78%" stop-color="#008cff"/><stop offset="42.87%" stop-color="#00cdff"/><stop offset="44.91%" stop-color="#00feff"/><stop offset="46.16%" stop-color="#3cffc3"/><stop offset="46.95%" stop-color="#84ff7b"/><stop offset="47.29%" stop-color="#b8ff47"/><stop offset="47.52%" stop-color="#eaff15"/><stop offset="47.63%" stop-color="#fff500"/><stop offset="48.31%" stop-color="#ff1200"/><stop offset="48.42%" stop-color="#f10000"/><stop offset="48.65%" stop-color="#cb0000"/><stop offset="48.88%" stop-color="#cd0000"/><stop offset="49.10%" stop-color="#f60000"/><stop offset="49.33%" stop-color="#ff3c00"/><stop offset="49.78%" stop-color="#ffd600"/><stop offset="50.01%" stop-color="#ecff13"/><stop offset="50.35%" stop-color="#b1ff4e"/><stop offset="50.92%" stop-color="#84ff7b"/><stop offset="52.05%" stop-color="#67ff98"/><stop offset="60.56%" stop-color="#3cffc3"/><stop offset="65.32%" stop-color="#00faff"/><stop offset="78.25%" stop-color="#0060ff"/><stop offset="89.82%" stop-color="#0013ff"/><stop offset="96.62%" stop-color="#0000f6"/><stop offset="99.34%" stop-color="#0000eb"/></linearGradient><linearGradient id="r25" x1="1504.6" x2="1945.5" y1="0" y2="0" gradientUnits="userSpaceOnUse"><stop offset="0.00%" stop-color="#0000d7"/><stop offset="15.65%" stop-color="#0005ff"/><stop offset="31.30%" stop-color="#004fff"/><stop offset="38.10%" stop-color="#0081ff"/><stop offset="42.87%" stop-color="#00c9ff"/><stop offset="44.91%" stop-color="#00f9ff"/><stop offset="45.95%" stop-color="#23ffdc"/><stop offset="46.95%" stop-color="#6aff95"/><stop offset="47.54%" stop-color="#b6ff49"/><stop offset="47.77%" stop-color="#e6ff19"/><stop offset="47.99%" stop-color="#ffd900"/><stop offset="48.45%" stop-color="#ff3c00"/><stop offset="48.67%" stop-color="#f60000"/><stop offset="48.90%" stop-color="#cd0000"/><stop offset="49.13%" stop-color="#cb0000"/><stop offset="49.35%" stop-color="#f10000"/><stop offset="49.58%" stop-color="#ff3500"/><stop offset="50.03%" stop-color="#ffd000"/><stop offset="50.26%" stop-color="#f1ff0e"/><stop offset="50.49%" stop-color="#c5ff3a"/><stop offset="50.94%" stop-color="#94ff6b"/><stop offset="51.85%" stop-color="#70ff8f"/><stop offset="54.43%" stop-color="#5fffa0"/><stop offset="60.56%" stop-color="#3cffc3"/><stop offset="64.64%" stop-color="#00fdff"/><stop offset="76.21%" stop-color="#0070ff"/><stop offset="85.73%" stop-color="#0025ff"/><stop offset="95.94%" stop-color="#0000f9"/><stop offset="99.34%" stop-color="#0000ec"/></linearGradient><linearGradient id="r26" x1="1504.6" x2="1945.5" y1="0" y2="0" gradientUnits="userSpaceOnUse"><stop offset="0.00%" stop-color="#0000db"/><stop offset="14.97%" stop-color="#0006ff"/><stop offset="32.66%" stop-color="#0057ff"/><stop offset="38.10%" stop-color="#007fff"/><stop offset="42.87%" stop-color="#00c6ff"/><stop offset="44.91%" stop-color="#00f7ff"/><stop offset="45.75%" stop-color="#1cffe3"/><stop offset="46.65%" stop-color="#5dffa2"/><stop offset="47.11%" stop-color="#92ff6d"/><stop offset="47.33%" stop-color="#b8ff47"/><stop offset="47.63%" stop-color="#fdff02"/><stop offset="48.02%" stop-color="#ff8400"/><stop offset="48.31%" stop-color="#ff1d00"/><stop offset="48.47%" stop-color="#f00000"/><stop offset="48.70%" stop-color="#cb0000"/><stop offset="48.99%" stop-color="#d60000"/><stop offset="49.15%" stop-color="#f80000"/><stop offset="49.38%" stop-color="#ff3e00"/><stop offset="49.83%" stop-color="#ffd800"/><stop offset="50.06%" stop-color="#ebff14"/><stop offset="50.35%" stop-color="#b6ff49"/><stop offset="50.96%" stop-color="#84ff7b"/><stop offset="52.10%" stop-color="#68ff97"/><stop offset="59.88%" stop-color="#44ffbb"/><stop offset="63.96%" stop-color="#03fffc"/><stop offset="75.53%" stop-color="#0070ff"/><stop offset="85.73%" stop-color="#0021ff"/><stop offset="95.94%" stop-color="#0000f9"/><stop offset="99.34%" stop-color="#0000ed"/></linearGradient><linearGradient id="r27" x1="1504.6" x2="1945.5" y1="0" y2="0" gradientUnits="userSpaceOnUse"><stop offset="0.00%" stop-color="#0000df"/><stop offset="14.29%" stop-color="#0007ff"/><stop offset="32.66%" stop-color="#0056ff"/><stop offset="38.10%" stop-color="#007dff"/><stop offset="42.87%" stop-color="#00c2ff"/><stop offset="44.91%" stop-color="#00f2ff"/><stop offset="45.77%" stop-color="#14ffeb"/><stop offset="46.90%" stop-color="#5fffa0"/><stop offset="47.36%" stop-color="#91ff6e"/><stop offset="47.63%" stop-color="#beff41"/><stop offset="47.81%" stop-color="#e7ff18"/><stop offset="48.04%" stop-color="#ffd700"/><stop offset="48.49%" stop-color="#ff3a00"/><stop offset="48.72%" stop-color="#f50000"/><stop offset="48.99%" stop-color="#c90000"/><stop offset="49.17%" stop-color="#cc0000"/><stop offset="49.40%" stop-color="#f30000"/><stop offset="49.67%" stop-color="#ff4700"/><stop offset="50.08%" stop-color="#ffd200"/><stop offset="50.31%" stop-color="#f0ff0f"/><stop offset="50.53%" stop-color="#c4ff3b"/><stop offset="51.03%" stop-color="#91ff6e"/><stop offset="52.12%" stop-color="#6cff93"/><stop offset="60.56%" stop-color="#3cffc3"/><stop offset="63.96%" stop-color="#00feff"/><stop offset="72.13%" stop-color="#008eff"/><stop offset="80.29%" stop-color="#0042ff"/><stop offset="87.78%" stop-color="#0015ff"/><stop offset="96.62%" stop-color="#0000f7"/><stop offset="99.34%" stop-color="#0000ef"/></linearGradient><linearGradient id="r28" x1="1504.6" x2="1945.5" y1="0" y2="0" gradientUnits="userSpaceOnUse"><stop offset="0.00%" stop-color="#0000df"/><stop offset="13.61%" stop-color="#0007ff"/><stop offset="32.66%" stop-color="#0055ff"/><stop offset="38.10%" stop-color="#007bff"/><stop offset="42.87%" stop-color="#00c1ff"/><stop offset="44.91%" stop-color="#00f2ff"/><stop offset="45.79%" stop-color="#19ffe6"/><stop offset="46.70%" stop-color="#5bffa4"/><stop offset="47.15%" stop-color="#91ff6e"/><stop offset="47.38%" stop-color="#b7ff48"/><stop offset="47.63%" stop-color="#f1ff0e"/><stop offset="47.83%" stop-color="#ffd000"/><stop offset="48.31%" stop-color="#ff2a00"/><stop offset="48.51%" stop-color="#ee0000"/><stop offset="48.74%" stop-color="#ca0000"/><stop offset="48.99%" stop-color="#d10000"/><stop offset="49.19%" stop-color="#f90000"/><stop offset="49.42%" stop-color="#ff4100"/><stop offset="49.88%" stop-color="#ffda00"/><stop offset="50.10%" stop-color="#e9ff16"/><stop offset="50.35%" stop-color="#bbff44"/><stop offset="50.78%" stop-color="#90ff6f"/><stop offset="51.71%" stop-color="#6eff91"/><stop offset="53.75%" stop-color="#60ff9f"/><stop offset="60.56%" stop-color="#3affc5"/><stop offset="63.96%" stop-color="#00fbff"/><stop offset="70.76%" stop-color="#009aff"/><stop offset="79.61%" stop-color="#0043ff"/><stop offset="87.78%" stop-color="#0013ff"/><stop offset="96.62%" stop-color="#0000f7"/><stop offset="99.34%" stop-color="#0000ee"/></linearGradient><linearGradient id="r29" x1="1504.6" x2="1945.5" y1="0" y2="0" gradientUnits="userSpaceOnUse"><stop offset="0.00%" stop-color="#0000dd"/><stop offset="13.61%" stop-color="#0006ff"/><stop offset="33.34%" stop-color="#005aff"/><stop offset="38.78%" stop-color="#0083ff"/><stop offset="42.87%" stop-color="#00c1ff"/><stop offset="44.91%" stop-color="#00f0ff"/><stop offset="45.79%" stop-color="#12ffed"/><stop offset="46.70%" stop-color="#48ffb7"/><stop offset="47.38%" stop-color="#8eff71"/><stop offset="47.63%" stop-color="#b6ff49"/><stop offset="47.83%" stop-color="#e2ff1d"/><stop offset="48.06%" stop-color="#ffdd00"/><stop offset="48.51%" stop-color="#ff4000"/><stop offset="48.74%" stop-color="#f90000"/><stop offset="48.99%" stop-color="#cc0000"/><stop offset="49.19%" stop-color="#ca0000"/><stop offset="49.42%" stop-color="#ef0000"/><stop offset="49.67%" stop-color="#ff3a00"/><stop offset="50.10%" stop-color="#ffce00"/><stop offset="50.35%" stop-color="#edff12"/><stop offset="50.56%" stop-color="#c5ff3a"/><stop offset="51.03%" stop-color="#90ff6f"/><stop offset="52.14%" stop-color="#67ff98"/><stop offset="60.56%" stop-color="#35ffca"/><stop offset="63.96%" stop-color="#00f9ff"/><stop offset="70.76%" stop-color="#0099ff"/><stop offset="79.61%" stop-color="#0043ff"/><stop offset="87.78%" stop-color="#0012ff"/><stop offset="95.94%" stop-color="#0000f7"/><stop offset="99.34%" stop-color="#0000ec"/></linearGradient><linearGradient id="r30" x1="1504.6" x2="1945.5" y1="0" y2="0" gradientUnits="userSpaceOnUse"><stop offset="0.00%" stop-color="#0000db"/><stop offset="13.61%" stop-color="#0005ff"/><stop offset="33.34%" stop-color="#005aff"/><stop offset="38.78%" stop-color="#0082ff"/><stop offset="42.87%" stop-color="#00c1ff"/><stop offset="44.91%" stop-color="#00f2ff"/><stop offset="45.82%" stop-color="#18ffe7"/><stop offset="46.72%" stop-color="#59ffa6"/><stop offset="47.18%" stop-color="#8dff72"/><stop offset="47.63%" stop-color="#e7ff18"/><stop offset="47.86%" stop-color="#ffd600"/><stop offset="48.31%" stop-color="#ff3700"/><stop offset="48.54%" stop-color="#f20000"/><stop offset="48.76%" stop-color="#cc0000"/><stop offset="48.99%" stop-color="#cd0000"/><stop offset="49.22%" stop-color="#f50000"/><stop offset="49.44%" stop-color="#ff3b00"/><stop offset="49.90%" stop-color="#ffd700"/><stop offset="50.12%" stop-color="#ebff14"/><stop offset="50.35%" stop-color="#bfff40"/><stop offset="50.81%" stop-color="#8dff72"/><stop offset="51.71%" stop-color="#68ff97"/><stop offset="54.43%" stop-color="#58ffa7"/><stop offset="60.56%" stop-color="#30ffcf"/><stop offset="63.28%" stop-color="#03fffc"/><stop offset="72.13%" stop-color="#0088ff"/><stop offset="79.61%" stop-color="#0042ff"/><stop offset="88.46%" stop-color="#000eff"/><stop offset="95.94%" stop-color="#0000f5"/><stop offset="99.34%" stop-color="#0000e9"/></linearGradient><linearGradient id="r31" x1="1504.6" x2="1945.5" y1="0" y2="0" gradientUnits="userSpaceOnUse"><stop offset="0.00%" stop-color="#0000d8"/><stop offset="14.29%" stop-color="#0007ff"/><stop offset="34.70%" stop-color="#0062ff"/><stop offset="40.15%" stop-color="#0090ff"/><stop offset="44.23%" stop-color="#00dfff"/><stop offset="45.59%" stop-color="#07fff8"/><stop offset="46.75%" stop-color="#48ffb7"/><stop offset="47.43%" stop-color="#8dff72"/><stop offset="47.88%" stop-color="#e3ff1c"/><stop offset="48.11%" stop-color="#ffdb00"/><stop offset="48.56%" stop-color="#ff3e00"/><stop offset="48.79%" stop-color="#f70000"/><stop offset="49.01%" stop-color="#cd0000"/><stop offset="49.24%" stop-color="#cb0000"/><stop offset="49.47%" stop-color="#f10000"/><stop offset="49.69%" stop-color="#ff3500"/><stop offset="50.15%" stop-color="#ffd100"/><stop offset="50.37%" stop-color="#efff10"/><stop offset="50.60%" stop-color="#c1ff3e"/><stop offset="51.05%" stop-color="#8eff71"/><stop offset="51.96%" stop-color="#66ff99"/><stop offset="60.56%" stop-color="#2cffd3"/><stop offset="63.28%" stop-color="#01fffe"/><stop offset="71.44%" stop-color="#008fff"/><stop offset="79.61%" stop-color="#0041ff"/><stop offset="88.46%" stop-color="#000dff"/><stop offset="95.94%" stop-color="#0000f3"/><stop offset="99.34%" stop-color="#0000e7"/></linearGradient><linearGradient id="r32" x1="1504.6" x2="1945.5" y1="0" y2="0" gradientUnits="userSpaceOnUse"><stop offset="0.00%" stop-color="#0000d6"/><stop offset="14.29%" stop-color="#0006ff"/><stop offset="36.06%" stop-color="#006aff"/><stop offset="40.83%" stop-color="#009aff"/><stop offset="44.91%" stop-color="#00f1ff"/><stop offset="45.59%" stop-color="#0bfff4"/><stop offset="46.54%" stop-color="#45ffba"/><stop offset="47.22%" stop-color="#8dff72"/><stop offset="47.63%" stop-color="#dcff23"/><stop offset="47.68%" stop-color="#e8ff17"/><stop offset="47.90%" stop-color="#ffd400"/><stop offset="48.36%" stop-color="#ff3500"/><stop offset="48.58%" stop-color="#f00000"/><stop offset="48.81%" stop-color="#cb0000"/><stop offset="49.04%" stop-color="#cd0000"/><stop offset="49.26%" stop-color="#f70000"/><stop offset="49.49%" stop-color="#ff3e00"/><stop offset="49.94%" stop-color="#ffda00"/><stop offset="50.17%" stop-color="#e8ff17"/><stop offset="50.40%" stop-color="#bbff44"/><stop offset="50.85%" stop-color="#89ff76"/><stop offset="51.76%" stop-color="#62ff9d"/><stop offset="54.43%" stop-color="#51ffae"/><stop offset="61.24%" stop-color="#1dffe2"/><stop offset="63.28%" stop-color="#00feff"/><stop offset="70.76%" stop-color="#0096ff"/><stop offset="79.61%" stop-color="#0040ff"/><stop offset="88.46%" stop-color="#000cff"/><stop offset="95.26%" stop-color="#0000f3"/><stop offset="99.34%" stop-color="#0000e5"/></linearGradient><linearGradient id="r33" x1="1504.6" x2="1945.5" y1="0" y2="0" gradientUnits="userSpaceOnUse"><stop offset="0.00%" stop-color="#0000d4"/><stop offset="14.29%" stop-color="#0006ff"/><stop offset="36.06%" stop-color="#006aff"/><stop offset="40.15%" stop-color="#008dff"/><stop offset="45.59%" stop-color="#06fff9"/><stop offset="46.56%" stop-color="#37ffc8"/><stop offset="47.24%" stop-color="#71ff8e"/><stop offset="47.70%" stop-color="#b2ff4d"/><stop offset="47.92%" stop-color="#e4ff1b"/><stop offset="48.15%" stop-color="#ffda00"/><stop offset="48.61%" stop-color="#ff3b00"/><stop offset="48.83%" stop-color="#f50000"/><stop offset="49.06%" stop-color="#cd0000"/><stop offset="49.29%" stop-color="#cc0000"/><stop offset="49.51%" stop-color="#f20000"/><stop offset="49.74%" stop-color="#ff3700"/><stop offset="50.19%" stop-color="#ffd400"/><stop offset="50.35%" stop-color="#fdff02"/><stop offset="50.65%" stop-color="#beff41"/><stop offset="51.10%" stop-color="#89ff76"/><stop offset="52.01%" stop-color="#60ff9f"/><stop offset="61.24%" stop-color="#19ffe6"/><stop offset="63.28%" stop-color="#00fbff"/><stop offset="71.44%" stop-color="#008dff"/><stop offset="79.61%" stop-color="#003fff"/><stop offset="89.82%" stop-color="#0006ff"/><stop offset="99.34%" stop-color="#0000e3"/></linearGradient><linearGradient id="r34" x1="1504.6" x2="1945.5" y1="0" y2="0" gradientUnits="userSpaceOnUse"><stop offset="0.00%" stop-color="#0000d1"/><stop offset="14.29%" stop-color="#0005ff"/><stop offset="36.74%" stop-color="#006eff"/><stop offset="40.83%" stop-color="#0098ff"/><stop offset="44.91%" stop-color="#00f1ff"/><stop offset="45.59%" stop-color="#0afff5"/><stop offset="46.59%" stop-color="#45ffba"/><stop offset="47.27%" stop-color="#8dff72"/><stop offset="47.63%" stop-color="#d2ff2d"/><stop offset="47.72%" stop-color="#e9ff16"/><stop offset="47.95%" stop-color="#ffd200"/><stop offset="48.40%" stop-color="#ff3200"/><stop offset="48.63%" stop-color="#ef0000"/><stop offset="48.85%" stop-color="#ca0000"/><stop offset="49.08%" stop-color="#ce0000"/><stop offset="49.31%" stop-color="#f90000"/><stop offset="49.54%" stop-color="#ff4000"/><stop offset="49.99%" stop-color="#ffdd00"/><stop offset="50.22%" stop-color="#e4ff1b"/><stop offset="50.44%" stop-color="#b8ff47"/><stop offset="50.90%" stop-color="#84ff7b"/><stop offset="51.80%" stop-color="#5cffa3"/><stop offset="54.43%" stop-color="#4affb5"/><stop offset="61.92%" stop-color="#0dfff2"/><stop offset="63.96%" stop-color="#00efff"/><stop offset="72.13%" stop-color="#0084ff"/><stop offset="79.61%" stop-color="#003eff"/><stop offset="89.82%" stop-color="#0004ff"/><stop offset="99.34%" stop-color="#0000e0"/></linearGradient><linearGradient id="r35" x1="1504.6" x2="1945.5" y1="0" y2="0" gradientUnits="userSpaceOnUse"><stop offset="0.00%" stop-color="#0000cf"/><stop offset="14.29%" stop-color="#0005ff"/><stop offset="37.42%" stop-color="#0073ff"/><stop offset="40.15%" stop-color="#0089ff"/><stop offset="45.59%" stop-color="#05fffa"/><stop offset="46.59%" stop-color="#35ffca"/><stop offset="47.27%" stop-color="#6eff91"/><stop offset="47.72%" stop-color="#aeff51"/><stop offset="47.95%" stop-color="#dfff20"/><stop offset="48.17%" stop-color="#ffdf00"/><stop offset="48.63%" stop-color="#ff4100"/><stop offset="48.85%" stop-color="#f90000"/><stop offset="49.08%" stop-color="#ce0000"/><stop offset="49.31%" stop-color="#ca0000"/><stop offset="49.54%" stop-color="#ee0000"/><stop offset="49.67%" stop-color="#ff1500"/><stop offset="50.35%" stop-color="#fff800"/><stop offset="50.67%" stop-color="#beff41"/><stop offset="51.12%" stop-color="#87ff78"/><stop offset="52.03%" stop-color="#5bffa4"/><stop offset="62.60%" stop-color="#02fffd"/><stop offset="71.44%" stop-color="#008bff"/><stop offset="79.61%" stop-color="#003eff"/><stop offset="90.50%" stop-color="#0000ff"/><stop offset="99.34%" stop-color="#0000de"/></linearGradient><linearGradient id="r36" x1="1504.6" x2="1945.5" y1="0" y2="0" gradientUnits="userSpaceOnUse"><stop offset="0.00%" stop-color="#0000cd"/><stop offset="14.29%" stop-color="#0004ff"/><stop offset="38.78%" stop-color="#007cff"/><stop offset="40.83%" stop-color="#0095ff"/><stop offset="44.91%" stop-color="#00f1ff"/><stop offset="45.59%" stop-color="#08fff7"/><stop offset="46.61%" stop-color="#42ffbd"/><stop offset="47.29%" stop-color="#8aff75"/><stop offset="47.63%" stop-color="#c8ff37"/><stop offset="47.74%" stop-color="#e4ff1b"/><stop offset="47.97%" stop-color="#ffd800"/><stop offset="48.42%" stop-color="#ff3800"/><stop offset="48.65%" stop-color="#f30000"/><stop offset="48.88%" stop-color="#cc0000"/><stop offset="49.10%" stop-color="#cd0000"/><stop offset="49.33%" stop-color="#f50000"/><stop offset="49.56%" stop-color="#ff3b00"/><stop offset="50.01%" stop-color="#ffd900"/><stop offset="50.24%" stop-color="#e6ff19"/><stop offset="50.46%" stop-color="#b8ff47"/><stop offset="50.92%" stop-color="#82ff7d"/><stop offset="51.71%" stop-color="#5affa5"/><stop offset="53.07%" stop-color="#4affb5"/><stop offset="62.60%" stop-color="#00ffff"/><stop offset="71.44%" stop-color="#008aff"/><stop offset="79.61%" stop-color="#003dff"/><stop offset="89.82%" stop-color="#0002ff"/><stop offset="99.34%" stop-color="#0000dc"/></linearGradient><linearGradient id="r37" x1="1504.6" x2="1945.5" y1="0" y2="0" gradientUnits="userSpaceOnUse"><stop offset="0.00%" stop-color="#0000ca"/><stop offset="14.97%" stop-color="#0006ff"/><stop offset="39.46%" stop-color="#007fff"/><stop offset="42.19%" stop-color="#00b1ff"/><stop offset="45.59%" stop-color="#04fffb"/><stop offset="46.63%" stop-color="#35ffca"/><stop offset="47.31%" stop-color="#6eff91"/><stop offset="47.77%" stop-color="#aeff51"/><stop offset="47.99%" stop-color="#e0ff1f"/><stop offset="48.22%" stop-color="#ffde00"/><stop offset="48.67%" stop-color="#ff3f00"/><stop offset="48.90%" stop-color="#f80000"/><stop offset="49.13%" stop-color="#ce0000"/><stop offset="49.35%" stop-color="#cb0000"/><stop offset="49.58%" stop-color="#f00000"/><stop offset="49.67%" stop-color="#ff0900"/><stop offset="50.35%" stop-color="#ffef00"/><stop offset="50.49%" stop-color="#ebff14"/><stop offset="50.71%" stop-color="#bbff44"/><stop offset="51.17%" stop-color="#82ff7d"/><stop offset="51.85%" stop-color="#5cffa3"/><stop offset="53.07%" stop-color="#48ffb7"/><stop offset="62.60%" stop-color="#00fcff"/><stop offset="71.44%" stop-color="#0089ff"/><stop offset="79.61%" stop-color="#003cff"/><stop offset="89.82%" stop-color="#0000ff"/><stop offset="99.34%" stop-color="#0000d9"/></linearGradient><linearGradient id="r38" x1="1504.6" x2="1945.5" y1="0" y2="0" gradientUnits="userSpaceOnUse"><stop offset="0.00%" stop-color="#0000c8"/><stop offset="14.97%" stop-color="#0006ff"/><stop offset="40.15%" stop-color="#0084ff"/><stop offset="44.91%" stop-color="#00f1ff"/><stop offset="45.59%" stop-color="#07fff8"/><stop offset="46.65%" stop-color="#42ffbd"/><stop offset="47.33%" stop-color="#8aff75"/><stop offset="47.63%" stop-color="#bfff40"/><stop offset="47.79%" stop-color="#e5ff1a"/><stop offset="48.02%" stop-color="#ffd600"/><stop offset="48.47%" stop-color="#ff3600"/><stop offset="48.70%" stop-color="#f10000"/><stop offset="48.99%" stop-color="#c70000"/><stop offset="49.15%" stop-color="#cd0000"/><stop offset="49.38%" stop-color="#f70000"/><stop offset="49.67%" stop-color="#ff5500"/><stop offset="50.06%" stop-color="#ffdc00"/><stop offset="50.28%" stop-color="#e3ff1c"/><stop offset="50.51%" stop-color="#b4ff4b"/><stop offset="51.03%" stop-color="#78ff87"/><stop offset="51.87%" stop-color="#51ffae"/><stop offset="61.92%" stop-color="#00ffff"/><stop offset="72.13%" stop-color="#0081ff"/><stop offset="79.61%" stop-color="#003bff"/><stop offset="89.82%" stop-color="#0000fe"/><stop offset="99.34%" stop-color="#0000d7"/></linearGradient><linearGradient id="r39" x1="1504.6" x2="1945.5" y1="0" y2="0" gradientUnits="userSpaceOnUse"><stop offset="0.00%" stop-color="#0000c7"/><stop offset="14.97%" stop-color="#0004ff"/><stop offset="40.15%" stop-color="#0085ff"/><stop offset="45.59%" stop-color="#03fffc"/><stop offset="46.68%" stop-color="#34ffcb"/><stop offset="47.36%" stop-color="#6dff92"/><stop offset="47.81%" stop-color="#afff50"/><stop offset="48.04%" stop-color="#e1ff1e"/><stop offset="48.26%" stop-color="#ffdc00"/><stop offset="48.72%" stop-color="#ff3c00"/><stop offset="48.95%" stop-color="#f60000"/><stop offset="49.17%" stop-color="#cd0000"/><stop offset="49.40%" stop-color="#cb0000"/><stop offset="49.67%" stop-color="#fd0000"/><stop offset="50.08%" stop-color="#ff8800"/><stop offset="50.35%" stop-color="#ffe400"/><stop offset="50.53%" stop-color="#e8ff17"/><stop offset="50.76%" stop-color="#b8ff47"/><stop offset="51.21%" stop-color="#7fff80"/><stop offset="51.89%" stop-color="#58ffa7"/><stop offset="53.07%" stop-color="#43ffbc"/><stop offset="61.24%" stop-color="#00ffff"/><stop offset="72.81%" stop-color="#0077ff"/><stop offset="79.61%" stop-color="#003aff"/><stop offset="89.82%" stop-color="#0000fc"/><stop offset="99.34%" stop-color="#0000d6"/></linearGradient><linearGradient id="r40" x1="1504.6" x2="1945.5" y1="0" y2="0" gradientUnits="userSpaceOnUse"><stop offset="0.00%" stop-color="#0000c7"/><stop offset="15.65%" stop-color="#0004ff"/><stop offset="40.15%" stop-color="#0087ff"/><stop offset="45.59%" stop-color="#06fff9"/><stop offset="46.68%" stop-color="#41ffbe"/><stop offset="47.36%" stop-color="#88ff77"/><stop offset="47.63%" stop-color="#b7ff48"/><stop offset="47.81%" stop-color="#e2ff1d"/><stop offset="48.04%" stop-color="#ffda00"/><stop offset="48.49%" stop-color="#ff3a00"/><stop offset="48.72%" stop-color="#f40000"/><stop offset="48.99%" stop-color="#c90000"/><stop offset="49.17%" stop-color="#cc0000"/><stop offset="49.40%" stop-color="#f40000"/><stop offset="49.67%" stop-color="#ff4900"/><stop offset="50.08%" stop-color="#ffd800"/><stop offset="50.31%" stop-color="#e6ff19"/><stop offset="50.53%" stop-color="#b7ff48"/><stop offset="50.99%" stop-color="#7eff81"/><stop offset="51.71%" stop-color="#55ffaa"/><stop offset="53.07%" stop-color="#40ffbf"/><stop offset="59.88%" stop-color="#03fffc"/><stop offset="63.28%" stop-color="#00e5ff"/><stop offset="71.44%" stop-color="#0081ff"/><stop offset="79.61%" stop-color="#0038ff"/><stop offset="89.14%" stop-color="#0000fe"/><stop offset="99.34%" stop-color="#0000d5"/></linearGradient><linearGradient id="r41" x1="1504.6" x2="1945.5" y1="0" y2="0" gradientUnits="userSpaceOnUse"><stop offset="0.00%" stop-color="#0000c7"/><stop offset="16.33%" stop-color="#0005ff"/><stop offset="39.46%" stop-color="#0083ff"/><stop offset="42.87%" stop-color="#00c3ff"/><stop offset="45.59%" stop-color="#02fffd"/><stop offset="46.70%" stop-color="#33ffcc"/><stop offset="47.38%" stop-color="#6cff93"/><stop offset="47.83%" stop-color="#aeff51"/><stop offset="48.06%" stop-color="#dfff20"/><stop offset="48.31%" stop-color="#ffd700"/><stop offset="48.74%" stop-color="#ff3e00"/><stop offset="48.99%" stop-color="#f20000"/><stop offset="49.19%" stop-color="#cd0000"/><stop offset="49.42%" stop-color="#cb0000"/><stop offset="49.67%" stop-color="#f60000"/><stop offset="49.88%" stop-color="#ff3500"/><stop offset="50.35%" stop-color="#ffdb00"/><stop offset="50.56%" stop-color="#eaff15"/><stop offset="50.78%" stop-color="#b9ff46"/><stop offset="51.24%" stop-color="#7fff80"/><stop offset="52.14%" stop-color="#4fffb0"/><stop offset="59.20%" stop-color="#01fffe"/><stop offset="63.28%" stop-color="#00dfff"/><stop offset="72.13%" stop-color="#0077ff"/><stop offset="79.61%" stop-color="#0036ff"/><stop offset="89.14%" stop-color="#0000fd"/><stop offset="99.34%" stop-color="#0000d4"/></linearGradient><linearGradient id="r42" x1="1504.6" x2="1945.5" y1="0" y2="0" gradientUnits="userSpaceOnUse"><stop offset="0.00%" stop-color="#0000c7"/><stop offset="17.01%" stop-color="#0005ff"/><stop offset="39.46%" stop-color="#0085ff"/><stop offset="43.55%" stop-color="#00d2ff"/><stop offset="45.59%" stop-color="#05fffa"/><stop offset="46.50%" stop-color="#31ffce"/><stop offset="47.18%" stop-color="#6cff93"/><stop offset="47.63%" stop-color="#b1ff4e"/><stop offset="47.86%" stop-color="#e6ff19"/><stop offset="48.08%" stop-color="#ffd400"/><stop offset="48.54%" stop-color="#ff3300"/><stop offset="48.76%" stop-color="#ef0000"/><stop offset="48.99%" stop-color="#cb0000"/><stop offset="49.22%" stop-color="#ce0000"/><stop offset="49.44%" stop-color="#f80000"/><stop offset="49.67%" stop-color="#ff4000"/><stop offset="50.12%" stop-color="#ffdd00"/><stop offset="50.35%" stop-color="#e2ff1d"/><stop offset="50.58%" stop-color="#b4ff4b"/><stop offset="51.03%" stop-color="#7dff82"/><stop offset="51.71%" stop-color="#56ffa9"/><stop offset="53.07%" stop-color="#3cffc3"/><stop offset="58.52%" stop-color="#00ffff"/><stop offset="63.28%" stop-color="#00d9ff"/><stop offset="71.44%" stop-color="#0079ff"/><stop offset="79.61%" stop-color="#0034ff"/><stop offset="89.14%" stop-color="#0000fc"/><stop offset="99.34%" stop-color="#0000d3"/></linearGradient><linearGradient id="r43" x1="1504.6" x2="1945.5" y1="0" y2="0" gradientUnits="userSpaceOnUse"><stop offset="0.00%" stop-color="#0000c7"/><stop offset="17.69%" stop-color="#0006ff"/><stop offset="39.46%" stop-color="#0088ff"/><stop offset="44.91%" stop-color="#00efff"/><stop offset="45.59%" stop-color="#01fffe"/><stop offset="46.72%" stop-color="#33ffcc"/><stop offset="47.40%" stop-color="#6bff94"/><stop offset="47.86%" stop-color="#acff53"/><stop offset="48.08%" stop-color="#deff21"/><stop offset="48.31%" stop-color="#ffe000"/><stop offset="48.76%" stop-color="#ff4100"/><stop offset="48.99%" stop-color="#fa0000"/><stop offset="49.22%" stop-color="#cf0000"/><stop offset="49.44%" stop-color="#cc0000"/><stop offset="49.67%" stop-color="#f10000"/><stop offset="49.90%" stop-color="#ff3400"/><stop offset="50.35%" stop-color="#ffd200"/><stop offset="50.58%" stop-color="#ebff14"/><stop offset="50.81%" stop-color="#bbff44"/><stop offset="51.26%" stop-color="#80ff7f"/><stop offset="52.17%" stop-color="#4effb1"/><stop offset="57.84%" stop-color="#00ffff"/><stop offset="63.96%" stop-color="#00cbff"/><stop offset="72.13%" stop-color="#006fff"/><stop offset="80.29%" stop-color="#002fff"/><stop offset="88.46%" stop-color="#0000fd"/><stop offset="99.34%" stop-color="#0000d3"/></linearGradient><linearGradient id="r44" x1="1504.6" x2="1945.5" y1="0" y2="0" gradientUnits="userSpaceOnUse"><stop offset="0.00%" stop-color="#0000c7"/><stop offset="17.69%" stop-color="#0004ff"/><stop offset="38.10%" stop-color="#0080ff"/><stop offset="40.83%" stop-color="#009eff"/><stop offset="45.59%" stop-color="#04fffb"/><stop offset="46.52%" stop-color="#31ffce"/><stop offset="47.20%" stop-color="#6bff94"/><stop offset="47.65%" stop-color="#aeff51"/><stop offset="47.88%" stop-color="#e1ff1e"/><stop offset="48.11%" stop-color="#ffdc00"/><stop offset="48.56%" stop-color="#ff4300"/><stop offset="48.79%" stop-color="#ff0300"/><stop offset="49.01%" stop-color="#de0000"/><stop offset="49.24%" stop-color="#e10000"/><stop offset="49.47%" stop-color="#ff0900"/><stop offset="50.15%" stop-color="#ffe100"/><stop offset="50.37%" stop-color="#e1ff1e"/><stop offset="50.60%" stop-color="#b4ff4b"/><stop offset="51.05%" stop-color="#7dff82"/><stop offset="51.96%" stop-color="#4dffb2"/><stop offset="57.16%" stop-color="#02fffd"/><stop offset="63.96%" stop-color="#00c5ff"/><stop offset="72.13%" stop-color="#006bff"/><stop offset="80.29%" stop-color="#002dff"/><stop offset="88.46%" stop-color="#0000fc"/><stop offset="99.34%" stop-color="#0000d2"/></linearGradient><linearGradient id="r45" x1="1504.6" x2="1945.5" y1="0" y2="0" gradientUnits="userSpaceOnUse"><stop offset="0.00%" stop-color="#0000c7"/><stop offset="17.01%" stop-color="#0000fc"/><stop offset="37.42%" stop-color="#007cff"/><stop offset="40.83%" stop-color="#00a0ff"/><stop offset="45.59%" stop-color="#00ffff"/><stop offset="46.77%" stop-color="#33ffcc"/><stop offset="47.45%" stop-color="#6cff93"/><stop offset="47.90%" stop-color="#abff54"/><stop offset="48.31%" stop-color="#fff800"/><stop offset="48.99%" stop-color="#ff2f00"/><stop offset="49.26%" stop-color="#ff0300"/><stop offset="49.49%" stop-color="#ff0300"/><stop offset="49.72%" stop-color="#ff2500"/><stop offset="50.17%" stop-color="#ffa500"/><stop offset="50.40%" stop-color="#ffe800"/><stop offset="50.62%" stop-color="#deff21"/><stop offset="51.08%" stop-color="#94ff6b"/><stop offset="51.76%" stop-color="#60ff9f"/><stop offset="52.44%" stop-color="#46ffb9"/><stop offset="57.16%" stop-color="#00fcff"/><stop offset="64.64%" stop-color="#00b7ff"/><stop offset="73.49%" stop-color="#005cff"/><stop offset="83.01%" stop-color="#001aff"/><stop offset="88.46%" stop-color="#0000fb"/><stop offset="99.34%" stop-color="#0000d1"/></linearGradient><linearGradient id="r46" x1="1504.6" x2="1945.5" y1="0" y2="0" gradientUnits="userSpaceOnUse"><stop offset="0.00%" stop-color="#0000c7"/><stop offset="16.33%" stop-color="#0000f5"/><stop offset="20.41%" stop-color="#0010ff"/><stop offset="37.42%" stop-color="#007dff"/><stop offset="40.83%" stop-color="#00a2ff"/><stop offset="45.59%" stop-color="#03fffc"/><stop offset="46.54%" stop-color="#30ffcf"/><stop offset="47.22%" stop-color="#69ff96"/><stop offset="47.68%" stop-color="#a6ff59"/><stop offset="48.13%" stop-color="#fff800"/><stop offset="48.58%" stop-color="#ff7e00"/><stop offset="48.81%" stop-color="#ff4c00"/><stop offset="49.04%" stop-color="#ff3000"/><stop offset="49.26%" stop-color="#ff3100"/><stop offset="49.49%" stop-color="#ff4f00"/><stop offset="50.17%" stop-color="#fff900"/><stop offset="50.62%" stop-color="#afff50"/><stop offset="51.08%" stop-color="#7dff82"/><stop offset="51.98%" stop-color="#4cffb3"/><stop offset="56.48%" stop-color="#02fffd"/><stop offset="65.32%" stop-color="#00a9ff"/><stop offset="74.17%" stop-color="#0052ff"/><stop offset="87.09%" stop-color="#0001ff"/><stop offset="99.34%" stop-color="#0000d0"/></linearGradient><linearGradient id="r47" x1="1504.6" x2="1945.5" y1="0" y2="0" gradientUnits="userSpaceOnUse"><stop offset="0.00%" stop-color="#0000c7"/><stop offset="16.33%" stop-color="#0000f3"/><stop offset="19.73%" stop-color="#0009ff"/><stop offset="36.74%" stop-color="#0079ff"/><stop offset="40.83%" stop-color="#00a5ff"/><stop offset="45.59%" stop-color="#00feff"/><stop offset="46.79%" stop-color="#32ffcd"/><stop offset="47.63%" stop-color="#7bff84"/><stop offset="48.15%" stop-color="#c6ff39"/><stop offset="48.38%" stop-color="#f2ff0d"/><stop offset="48.61%" stop-color="#ffd900"/><stop offset="49.06%" stop-color="#ff7c00"/><stop offset="49.29%" stop-color="#ff6400"/><stop offset="49.51%" stop-color="#ff6400"/><stop offset="49.74%" stop-color="#ff7b00"/><stop offset="50.35%" stop-color="#fff800"/><stop offset="50.65%" stop-color="#ceff31"/><stop offset="51.10%" stop-color="#91ff6e"/><stop offset="51.78%" stop-color="#5fffa0"/><stop offset="53.07%" stop-color="#35ffca"/><stop offset="56.48%" stop-color="#00fcff"/><stop offset="59.20%" stop-color="#00dcff"/><stop offset="65.32%" stop-color="#00a3ff"/><stop offset="74.85%" stop-color="#0049ff"/><stop offset="87.78%" stop-color="#0000fb"/><stop offset="99.34%" stop-color="#0000cf"/></linearGradient><linearGradient id="r48" x1="1504.6" x2="1945.5" y1="0" y2="0" gradientUnits="userSpaceOnUse"><stop offset="0.00%" stop-color="#0000c7"/><stop offset="16.33%" stop-color="#0000f0"/><stop offset="20.41%" stop-color="#000bff"/><stop offset="36.74%" stop-color="#007aff"/><stop offset="40.83%" stop-color="#00a7ff"/><stop offset="45.59%" stop-color="#02fffd"/><stop offset="46.56%" stop-color="#2fffd0"/><stop offset="47.47%" stop-color="#7fff80"/><stop offset="48.15%" stop-color="#e2ff1d"/><stop offset="48.31%" stop-color="#ffff00"/><stop offset="48.83%" stop-color="#ffab00"/><stop offset="49.06%" stop-color="#ff9900"/><stop offset="49.29%" stop-color="#ff9900"/><stop offset="49.67%" stop-color="#ffc100"/><stop offset="49.97%" stop-color="#fff200"/><stop offset="50.35%" stop-color="#cdff32"/><stop offset="51.03%" stop-color="#82ff7d"/><stop offset="52.01%" stop-color="#4bffb4"/><stop offset="55.11%" stop-color="#10ffef"/><stop offset="56.48%" stop-color="#00f7ff"/><stop offset="59.20%" stop-color="#00d6ff"/><stop offset="66.00%" stop-color="#0096ff"/><stop offset="76.89%" stop-color="#0038ff"/><stop offset="87.78%" stop-color="#0000fa"/><stop offset="99.34%" stop-color="#0000ce"/></linearGradient><linearGradient id="r49" x1="1504.6" x2="1945.5" y1="0" y2="0" gradientUnits="userSpaceOnUse"><stop offset="0.00%" stop-color="#0000c7"/><stop offset="15.65%" stop-color="#0000e8"/><stop offset="19.73%" stop-color="#0005ff"/><stop offset="36.06%" stop-color="#0075ff"/><stop offset="40.83%" stop-color="#00a9ff"/><stop offset="45.59%" stop-color="#00fdff"/><stop offset="46.59%" stop-color="#24ffdb"/><stop offset="47.63%" stop-color="#74ff8b"/><stop offset="48.63%" stop-color="#f0ff0f"/><stop offset="48.99%" stop-color="#ffe100"/><stop offset="49.31%" stop-color="#ffcb00"/><stop offset="49.76%" stop-color="#ffd700"/><stop offset="50.22%" stop-color="#f5ff0a"/><stop offset="51.12%" stop-color="#8eff71"/><stop offset="52.03%" stop-color="#53ffac"/><stop offset="53.75%" stop-color="#24ffdb"/><stop offset="55.79%" stop-color="#00ffff"/><stop offset="58.52%" stop-color="#00d6ff"/><stop offset="66.00%" stop-color="#0091ff"/><stop offset="76.21%" stop-color="#003aff"/><stop offset="87.09%" stop-color="#0000fc"/><stop offset="99.34%" stop-color="#0000ce"/></linearGradient><linearGradient id="r50" x1="1504.6" x2="1945.5" y1="0" y2="0" gradientUnits="userSpaceOnUse"><stop offset="0.00%" stop-color="#0000c7"/><stop offset="15.65%" stop-color="#0000e5"/><stop offset="20.41%" stop-color="#0007ff"/><stop offset="36.06%" stop-color="#0075ff"/><stop offset="41.51%" stop-color="#00b6ff"/><stop offset="45.59%" stop-color="#01fffe"/><stop offset="46.59%" stop-color="#2effd1"/><stop offset="47.72%" stop-color="#92ff6d"/><stop offset="48.63%" stop-color="#f1ff0e"/><stop offset="48.99%" stop-color="#fff600"/><stop offset="49.54%" stop-color="#fffc00"/><stop offset="51.35%" stop-color="#6cff93"/><stop offset="52.48%" stop-color="#3cffc3"/><stop offset="55.79%" stop-color="#00faff"/><stop offset="58.52%" stop-color="#00d0ff"/><stop offset="66.68%" stop-color="#0084ff"/><stop offset="78.25%" stop-color="#002bff"/><stop offset="87.09%" stop-color="#0000fb"/><stop offset="99.34%" stop-color="#0000cd"/></linearGradient><linearGradient id="r51" x1="1504.6" x2="1945.5" y1="0" y2="0" gradientUnits="userSpaceOnUse"><stop offset="0.00%" stop-color="#0000c7"/><stop offset="15.65%" stop-color="#0000e2"/><stop offset="20.41%" stop-color="#0005ff"/><stop offset="36.06%" stop-color="#0076ff"/><stop offset="41.51%" stop-color="#00b7ff"/><stop offset="45.59%" stop-color="#00fdff"/><stop offset="46.61%" stop-color="#23ffdc"/><stop offset="47.63%" stop-color="#6eff91"/><stop offset="48.88%" stop-color="#daff25"/><stop offset="49.56%" stop-color="#ecff13"/><stop offset="50.35%" stop-color="#c8ff37"/><stop offset="51.83%" stop-color="#5dffa2"/><stop offset="53.07%" stop-color="#2effd1"/><stop offset="55.11%" stop-color="#04fffb"/><stop offset="58.52%" stop-color="#00caff"/><stop offset="73.49%" stop-color="#0047ff"/><stop offset="86.41%" stop-color="#0000fc"/><stop offset="99.34%" stop-color="#0000cc"/></linearGradient><linearGradient id="r52" x1="1504.6" x2="1945.5" y1="0" y2="0" gradientUnits="userSpaceOnUse"><stop offset="0.00%" stop-color="#0000c7"/><stop offset="15.65%" stop-color="#0000df"/><stop offset="21.09%" stop-color="#0008ff"/><stop offset="36.06%" stop-color="#0077ff"/><stop offset="42.87%" stop-color="#00cdff"/><stop offset="45.59%" stop-color="#00feff"/><stop offset="46.63%" stop-color="#2cffd3"/><stop offset="48.45%" stop-color="#bfff40"/><stop offset="49.13%" stop-color="#d9ff26"/><stop offset="49.81%" stop-color="#ceff31"/><stop offset="51.85%" stop-color="#50ffaf"/><stop offset="53.75%" stop-color="#1bffe4"/><stop offset="55.11%" stop-color="#01fffe"/><stop offset="57.84%" stop-color="#00c9ff"/><stop offset="73.49%" stop-color="#0043ff"/><stop offset="86.41%" stop-color="#0000fb"/><stop offset="99.34%" stop-color="#0000cb"/></linearGradient><linearGradient id="r53" x1="1504.6" x2="1945.5" y1="0" y2="0" gradientUnits="userSpaceOnUse"><stop offset="0.00%" stop-color="#0000c7"/><stop offset="15.65%" stop-color="#0000dc"/><stop offset="21.09%" stop-color="#0006ff"/><stop offset="36.06%" stop-color="#0078ff"/><stop offset="44.23%" stop-color="#00e2ff"/><stop offset="45.59%" stop-color="#00fbff"/><stop offset="46.63%" stop-color="#1fffe0"/><stop offset="47.77%" stop-color="#6cff93"/><stop offset="48.90%" stop-color="#bfff40"/><stop offset="49.67%" stop-color="#cdff32"/><stop offset="50.49%" stop-color="#aeff51"/><stop offset="52.08%" stop-color="#4dffb2"/><stop offset="53.75%" stop-color="#19ffe6"/><stop offset="55.11%" stop-color="#00fcff"/><stop offset="57.84%" stop-color="#00c3ff"/><stop offset="72.13%" stop-color="#004aff"/><stop offset="85.73%" stop-color="#0000fc"/><stop offset="99.34%" stop-color="#0000ca"/></linearGradient><linearGradient id="r54" x1="1504.6" x2="1945.5" y1="0" y2="0" gradientUnits="userSpaceOnUse"><stop offset="0.00%" stop-color="#0000c7"/><stop offset="15.65%" stop-color="#0000da"/><stop offset="21.09%" stop-color="#0004ff"/><stop offset="35.38%" stop-color="#0071ff"/><stop offset="44.91%" stop-color="#00eeff"/><stop offset="45.59%" stop-color="#00fcff"/><stop offset="46.65%" stop-color="#25ffda"/><stop offset="48.70%" stop-color="#b0ff4f"/><stop offset="49.38%" stop-color="#bdff42"/><stop offset="50.06%" stop-color="#aeff51"/><stop offset="52.10%" stop-color="#42ffbd"/><stop offset="54.43%" stop-color="#07fff8"/><stop offset="57.16%" stop-color="#00cbff"/><stop offset="59.20%" stop-color="#00b2ff"/><stop offset="71.44%" stop-color="#004aff"/><stop offset="85.05%" stop-color="#0000fe"/><stop offset="99.34%" stop-color="#0000c9"/></linearGradient><linearGradient id="r55" x1="1504.6" x2="1945.5" y1="0" y2="0" gradientUnits="userSpaceOnUse"><stop offset="0.00%" stop-color="#0000c7"/><stop offset="15.65%" stop-color="#0000d9"/><stop offset="21.09%" stop-color="#0003ff"/><stop offset="36.06%" stop-color="#007aff"/><stop offset="45.59%" stop-color="#00f8ff"/><stop offset="46.68%" stop-color="#18ffe7"/><stop offset="48.04%" stop-color="#68ff97"/><stop offset="48.99%" stop-color="#9fff60"/><stop offset="49.85%" stop-color="#aaff55"/><stop offset="51.03%" stop-color="#77ff88"/><stop offset="52.39%" stop-color="#39ffc6"/><stop offset="54.43%" stop-color="#05fffa"/><stop offset="57.84%" stop-color="#00bbff"/><stop offset="72.81%" stop-color="#0041ff"/><stop offset="85.05%" stop-color="#0000fd"/><stop offset="99.34%" stop-color="#0000c9"/></linearGradient><linearGradient id="r56" x1="1504.6" x2="1945.5" y1="0" y2="0" gradientUnits="userSpaceOnUse"><stop offset="0.00%" stop-color="#0000c7"/><stop offset="15.65%" stop-color="#0000d9"/><stop offset="21.77%" stop-color="#0006ff"/><stop offset="36.06%" stop-color="#007bff"/><stop offset="45.59%" stop-color="#00f7ff"/><stop offset="46.68%" stop-color="#17ffe8"/><stop offset="48.72%" stop-color="#85ff7a"/><stop offset="49.67%" stop-color="#91ff6e"/><stop offset="50.53%" stop-color="#75ff8a"/><stop offset="52.12%" stop-color="#35ffca"/><stop offset="54.43%" stop-color="#02fffd"/><stop offset="57.84%" stop-color="#00bbff"/><stop offset="74.85%" stop-color="#0034ff"/><stop offset="85.05%" stop-color="#0000fc"/><stop offset="99.34%" stop-color="#0000c9"/></linearGradient><linearGradient id="r57" x1="1504.6" x2="1945.5" y1="0" y2="0" gradientUnits="userSpaceOnUse"><stop offset="0.00%" stop-color="#0000c7"/><stop offset="15.65%" stop-color="#0000d8"/><stop offset="21.77%" stop-color="#0005ff"/><stop offset="36.06%" stop-color="#007dff"/><stop offset="46.47%" stop-color="#05fffa"/><stop offset="48.06%" stop-color="#45ffba"/><stop offset="49.19%" stop-color="#75ff8a"/><stop offset="50.10%" stop-color="#78ff87"/><stop offset="52.60%" stop-color="#27ffd8"/><stop offset="54.43%" stop-color="#00ffff"/><stop offset="57.84%" stop-color="#00baff"/><stop offset="76.21%" stop-color="#002dff"/><stop offset="85.05%" stop-color="#0000fc"/><stop offset="99.34%" stop-color="#0000c9"/></linearGradient><linearGradient id="r58" x1="1504.6" x2="1945.5" y1="0" y2="0" gradientUnits="userSpaceOnUse"><stop offset="0.00%" stop-color="#0000c7"/><stop offset="15.65%" stop-color="#0000d8"/><stop offset="21.77%" stop-color="#0004ff"/><stop offset="36.74%" stop-color="#0086ff"/><stop offset="43.55%" stop-color="#00dbff"/><stop offset="46.47%" stop-color="#02fffd"/><stop offset="49.19%" stop-color="#5cffa3"/><stop offset="50.10%" stop-color="#5cffa3"/><stop offset="52.39%" stop-color="#22ffdd"/><stop offset="54.43%" stop-color="#00fdff"/><stop offset="57.84%" stop-color="#00b9ff"/><stop offset="80.97%" stop-color="#000fff"/><stop offset="86.41%" stop-color="#0000f5"/><stop offset="99.34%" stop-color="#0000c9"/></linearGradient><linearGradient id="r59" x1="1504.6" x2="1945.5" y1="0" y2="0" gradientUnits="userSpaceOnUse"><stop offset="0.00%" stop-color="#0000c7"/><stop offset="15.65%" stop-color="#0000d8"/><stop offset="22.45%" stop-color="#0007ff"/><stop offset="36.74%" stop-color="#0087ff"/><stop offset="42.87%" stop-color="#00d7ff"/><stop offset="46.95%" stop-color="#03fffc"/><stop offset="49.44%" stop-color="#45ffba"/><stop offset="50.35%" stop-color="#44ffbb"/><stop offset="54.43%" stop-color="#00faff"/><stop offset="58.52%" stop-color="#00b2ff"/><stop offset="81.65%" stop-color="#000bff"/><stop offset="87.09%" stop-color="#0000f2"/><stop offset="99.34%" stop-color="#0000c9"/></linearGradient><linearGradient id="r60" x1="1504.6" x2="1945.5" y1="0" y2="0" gradientUnits="userSpaceOnUse"><stop offset="0.00%" stop-color="#0000c7"/><stop offset="15.65%" stop-color="#0000d8"/><stop offset="22.45%" stop-color="#0005ff"/><stop offset="28.58%" stop-color="#0041ff"/><stop offset="36.74%" stop-color="#0089ff"/><stop offset="40.83%" stop-color="#00bfff"/><stop offset="42.87%" stop-color="#00d9ff"/><stop offset="46.72%" stop-color="#00f9ff"/><stop offset="48.08%" stop-color="#14ffeb"/><stop offset="49.90%" stop-color="#30ffcf"/><stop offset="54.43%" stop-color="#00f8ff"/><stop offset="58.52%" stop-color="#00b1ff"/><stop offset="64.64%" stop-color="#0084ff"/><stop offset="83.01%" stop-color="#0004ff"/><stop offset="99.34%" stop-color="#0000c9"/></linearGradient><linearGradient id="r61" x1="1504.6" x2="1945.5" y1="0" y2="0" gradientUnits="userSpaceOnUse"><stop offset="0.00%" stop-color="#0000c7"/><stop offset="15.65%" stop-color="#0000d8"/><stop offset="22.45%" stop-color="#0004ff"/><stop offset="25.86%" stop-color="#0023ff"/><stop offset="32.66%" stop-color="#0065ff"/><stop offset="38.10%" stop-color="#009aff"/><stop offset="42.19%" stop-color="#00d8ff"/><stop offset="47.20%" stop-color="#00f7ff"/><stop offset="49.24%" stop-color="#15ffea"/><stop offset="50.83%" stop-color="#18ffe7"/><stop offset="53.75%" stop-color="#04fffb"/><stop offset="58.52%" stop-color="#00b0ff"/><stop offset="63.96%" stop-color="#0088ff"/><stop offset="83.01%" stop-color="#0003ff"/><stop offset="99.34%" stop-color="#0000c9"/></linearGradient><linearGradient id="r62" x1="1504.6" x2="1945.5" y1="0" y2="0" gradientUnits="userSpaceOnUse"><stop offset="0.00%" stop-color="#0000c7"/><stop offset="15.65%" stop-color="#0000d8"/><stop offset="23.13%" stop-color="#0007ff"/><stop offset="25.86%" stop-color="#0022ff"/><stop offset="31.98%" stop-color="#0062ff"/><stop offset="37.42%" stop-color="#0093ff"/><stop offset="40.83%" stop-color="#00c2ff"/><stop offset="42.19%" stop-color="#00dbff"/><stop offset="47.22%" stop-color="#00f1ff"/><stop offset="49.72%" stop-color="#0afff5"/><stop offset="53.07%" stop-color="#0afff5"/><stop offset="54.43%" stop-color="#00f3ff"/><stop offset="58.52%" stop-color="#00aeff"/><stop offset="62.60%" stop-color="#008fff"/><stop offset="70.76%" stop-color="#005aff"/><stop offset="82.33%" stop-color="#0005ff"/><stop offset="99.34%" stop-color="#0000c9"/></linearGradient><linearGradient id="r63" x1="1504.6" x2="1945.5" y1="0" y2="0" gradientUnits="userSpaceOnUse"><stop offset="0.00%" stop-color="#0000c7"/><stop offset="15.65%" stop-color="#0000d8"/><stop offset="23.13%" stop-color="#0005ff"/><stop offset="25.86%" stop-color="#0021ff"/><stop offset="31.98%" stop-color="#0064ff"/><stop offset="37.42%" stop-color="#0094ff"/><stop offset="40.83%" stop-color="#00c4ff"/><stop offset="42.19%" stop-color="#00ddff"/><stop offset="47.68%" stop-color="#00efff"/><stop offset="50.85%" stop-color="#04fffb"/><stop offset="53.07%" stop-color="#07fff8"/><stop offset="54.43%" stop-color="#00f1ff"/><stop offset="58.52%" stop-color="#00adff"/><stop offset="62.60%" stop-color="#008fff"/><stop offset="69.40%" stop-color="#0066ff"/><stop offset="82.33%" stop-color="#0004ff"/><stop offset="99.34%" stop-color="#0000c9"/></linearGradient><linearGradient id="r64" x1="1504.6" x2="1945.5" y1="0" y2="0" gradientUnits="userSpaceOnUse"><stop offset="0.00%" stop-color="#0000c7"/><stop offset="16.33%" stop-color="#0000db"/><stop offset="23.13%" stop-color="#0003ff"/><stop offset="25.18%" stop-color="#0016ff"/><stop offset="31.98%" stop-color="#0066ff"/><stop offset="37.42%" stop-color="#0096ff"/><stop offset="40.83%" stop-color="#00c6ff"/><stop offset="42.19%" stop-color="#00e0ff"/><stop offset="47.02%" stop-color="#00e7ff"/><stop offset="52.46%" stop-color="#02fffd"/><stop offset="53.75%" stop-color="#00fcff"/><stop offset="57.84%" stop-color="#00b5ff"/><stop offset="61.24%" stop-color="#0093ff"/><stop offset="68.72%" stop-color="#006dff"/><stop offset="82.33%" stop-color="#0003ff"/><stop offset="99.34%" stop-color="#0000c9"/></linearGradient><linearGradient id="r65" x1="1504.6" x2="1945.5" y1="0" y2="0" gradientUnits="userSpaceOnUse"><stop offset="0.00%" stop-color="#0000c7"/><stop offset="16.33%" stop-color="#0000db"/><stop offset="23.81%" stop-color="#0006ff"/><stop offset="31.30%" stop-color="#0063ff"/><stop offset="37.42%" stop-color="#0097ff"/><stop offset="40.15%" stop-color="#00b9ff"/><stop offset="42.19%" stop-color="#00e3ff"/><stop offset="47.27%" stop-color="#00e3ff"/><stop offset="53.07%" stop-color="#01fffe"/><stop offset="55.11%" stop-color="#00deff"/><stop offset="60.56%" stop-color="#0094ff"/><stop offset="68.04%" stop-color="#0075ff"/><stop offset="82.33%" stop-color="#0002ff"/><stop offset="99.34%" stop-color="#0000c9"/></linearGradient><linearGradient id="r66" x1="1504.6" x2="1945.5" y1="0" y2="0" gradientUnits="userSpaceOnUse"><stop offset="0.00%" stop-color="#0000c7"/><stop offset="16.33%" stop-color="#0000db"/><stop offset="24.50%" stop-color="#0008ff"/><stop offset="31.30%" stop-color="#0065ff"/><stop offset="37.42%" stop-color="#0098ff"/><stop offset="40.15%" stop-color="#00bbff"/><stop offset="42.19%" stop-color="#00e5ff"/><stop offset="47.27%" stop-color="#00dfff"/><stop offset="53.07%" stop-color="#00fcff"/><stop offset="55.11%" stop-color="#00dcff"/><stop offset="60.56%" stop-color="#0093ff"/><stop offset="68.04%" stop-color="#0077ff"/><stop offset="81.65%" stop-color="#0004ff"/><stop offset="99.34%" stop-color="#0000c9"/></linearGradient><linearGradient id="r67" x1="1504.6" x2="1945.5" y1="0" y2="0" gradientUnits="userSpaceOnUse"><stop offset="0.00%" stop-color="#0000c7"/><stop offset="16.33%" stop-color="#0000dc"/><stop offset="23.81%" stop-color="#0006ff"/><stop offset="31.30%" stop-color="#0065ff"/><stop offset="36.74%" stop-color="#0091ff"/><stop offset="40.15%" stop-color="#00bbff"/><stop offset="42.19%" stop-color="#00e5ff"/><stop offset="47.63%" stop-color="#00dfff"/><stop offset="53.07%" stop-color="#00f8ff"/><stop offset="59.88%" stop-color="#0098ff"/><stop offset="68.72%" stop-color="#0071ff"/><stop offset="82.33%" stop-color="#0003ff"/><stop offset="99.34%" stop-color="#0000cb"/></linearGradient><linearGradient id="r68" x1="1504.6" x2="1945.5" y1="0" y2="0" gradientUnits="userSpaceOnUse"><stop offset="0.00%" stop-color="#0000c7"/><stop offset="16.33%" stop-color="#0000dd"/><stop offset="23.81%" stop-color="#0007ff"/><stop offset="31.30%" stop-color="#0065ff"/><stop offset="36.74%" stop-color="#0091ff"/><stop offset="40.15%" stop-color="#00bcff"/><stop offset="42.19%" stop-color="#00e5ff"/><stop offset="48.31%" stop-color="#00ddff"/><stop offset="53.07%" stop-color="#00f4ff"/><stop offset="59.88%" stop-color="#0098ff"/><stop offset="68.72%" stop-color="#0071ff"/><stop offset="82.33%" stop-color="#0004ff"/><stop offset="99.34%" stop-color="#0000cd"/></linearGradient><linearGradient id="r69" x1="1504.6" x2="1945.5" y1="0" y2="0" gradientUnits="userSpaceOnUse"><stop offset="0.00%" stop-color="#0000c7"/><stop offset="16.33%" stop-color="#0000dd"/><stop offset="23.13%" stop-color="#0004ff"/><stop offset="25.86%" stop-color="#0020ff"/><stop offset="31.30%" stop-color="#0065ff"/><stop offset="36.74%" stop-color="#0091ff"/><stop offset="40.83%" stop-color="#00cbff"/><stop offset="42.19%" stop-color="#00e5ff"/><stop offset="47.31%" stop-color="#00d7ff"/><stop offset="48.22%" stop-color="#00d3ff"/><stop offset="50.26%" stop-color="#00e6ff"/><stop offset="53.75%" stop-color="#00eaff"/><stop offset="58.52%" stop-color="#00a8ff"/><stop offset="62.60%" stop-color="#008cff"/><stop offset="68.72%" stop-color="#0072ff"/><stop offset="82.33%" stop-color="#0005ff"/><stop offset="99.34%" stop-color="#0000d0"/></linearGradient><linearGradient id="r70" x1="1504.6" x2="1945.5" y1="0" y2="0" gradientUnits="userSpaceOnUse"><stop offset="0.00%" stop-color="#0000c7"/><stop offset="16.33%" stop-color="#0000de"/><stop offset="23.13%" stop-color="#0005ff"/><stop offset="27.22%" stop-color="#0032ff"/><stop offset="31.30%" stop-color="#0065ff"/><stop offset="36.74%" stop-color="#0092ff"/><stop offset="40.15%" stop-color="#00beff"/><stop offset="42.19%" stop-color="#00e5ff"/><stop offset="47.09%" stop-color="#00d2ff"/><stop offset="47.99%" stop-color="#00c3ff"/><stop offset="50.03%" stop-color="#00e4ff"/><stop offset="53.75%" stop-color="#00e6ff"/><stop offset="59.20%" stop-color="#00a0ff"/><stop offset="63.96%" stop-color="#0086ff"/><stop offset="68.04%" stop-color="#0077ff"/><stop offset="83.01%" stop-color="#0002ff"/><stop offset="99.34%" stop-color="#0000d2"/></linearGradient><linearGradient id="r71" x1="1504.6" x2="1945.5" y1="0" y2="0" gradientUnits="userSpaceOnUse"><stop offset="0.00%" stop-color="#0000c7"/><stop offset="16.33%" stop-color="#0000df"/><stop offset="23.13%" stop-color="#0007ff"/><stop offset="27.90%" stop-color="#003bff"/><stop offset="31.30%" stop-color="#0065ff"/><stop offset="36.74%" stop-color="#0092ff"/><stop offset="40.83%" stop-color="#00ccff"/><stop offset="42.19%" stop-color="#00e5ff"/><stop offset="46.43%" stop-color="#00d3ff"/><stop offset="48.02%" stop-color="#00b6ff"/><stop offset="50.35%" stop-color="#00e2ff"/><stop offset="53.75%" stop-color="#00e1ff"/><stop offset="59.88%" stop-color="#0099ff"/><stop offset="63.96%" stop-color="#0083ff"/><stop offset="68.04%" stop-color="#0077ff"/><stop offset="83.01%" stop-color="#0003ff"/><stop offset="99.34%" stop-color="#0000d4"/></linearGradient><linearGradient id="r72" x1="1504.6" x2="1945.5" y1="0" y2="0" gradientUnits="userSpaceOnUse"><stop offset="0.00%" stop-color="#0000c7"/><stop offset="15.65%" stop-color="#0000dd"/><stop offset="22.45%" stop-color="#0003ff"/><stop offset="26.54%" stop-color="#002aff"/><stop offset="31.30%" stop-color="#0065ff"/><stop offset="36.74%" stop-color="#0092ff"/><stop offset="40.83%" stop-color="#00cdff"/><stop offset="42.19%" stop-color="#00e5ff"/><stop offset="45.59%" stop-color="#00d6ff"/><stop offset="48.04%" stop-color="#00aaff"/><stop offset="50.76%" stop-color="#00e0ff"/><stop offset="53.75%" stop-color="#00ddff"/><stop offset="62.60%" stop-color="#0082ff"/><stop offset="67.36%" stop-color="#007dff"/><stop offset="83.69%" stop-color="#0001ff"/><stop offset="99.34%" stop-color="#0000d6"/></linearGradient><linearGradient id="r73" x1="1504.6" x2="1945.5" y1="0" y2="0" gradientUnits="userSpaceOnUse"><stop offset="0.00%" stop-color="#0000c7"/><stop offset="15.65%" stop-color="#0000de"/><stop offset="22.45%" stop-color="#0004ff"/><stop offset="27.90%" stop-color="#003bff"/><stop offset="31.30%" stop-color="#0065ff"/><stop offset="36.06%" stop-color="#008aff"/><stop offset="40.83%" stop-color="#00cdff"/><stop offset="42.19%" stop-color="#00e5ff"/><stop offset="44.91%" stop-color="#00d7ff"/><stop offset="48.04%" stop-color="#009eff"/><stop offset="51.21%" stop-color="#00deff"/><stop offset="53.75%" stop-color="#00d9ff"/><stop offset="63.28%" stop-color="#0078ff"/><stop offset="67.36%" stop-color="#007dff"/><stop offset="83.69%" stop-color="#0002ff"/><stop offset="99.34%" stop-color="#0000d8"/></linearGradient><linearGradient id="r74" x1="1504.6" x2="1945.5" y1="0" y2="0" gradientUnits="userSpaceOnUse"><stop offset="0.00%" stop-color="#0000c7"/><stop offset="13.61%" stop-color="#0000d9"/><stop offset="21.09%" stop-color="#0000fa"/><stop offset="26.54%" stop-color="#002aff"/><stop offset="31.30%" stop-color="#0065ff"/><stop offset="36.06%" stop-color="#008aff"/><stop offset="40.83%" stop-color="#00ceff"/><stop offset="42.19%" stop-color="#00e5ff"/><stop offset="44.23%" stop-color="#00dbff"/><stop offset="48.06%" stop-color="#0094ff"/><stop offset="51.71%" stop-color="#00daff"/><stop offset="54.43%" stop-color="#00cdff"/><stop offset="63.28%" stop-color="#0074ff"/><stop offset="67.36%" stop-color="#007cff"/><stop offset="83.69%" stop-color="#0003ff"/><stop offset="99.34%" stop-color="#0000da"/></linearGradient><linearGradient id="r75" x1="1504.6" x2="1945.5" y1="0" y2="0" gradientUnits="userSpaceOnUse"><stop offset="0.00%" stop-color="#0000c7"/><stop offset="12.93%" stop-color="#0000d8"/><stop offset="20.41%" stop-color="#0000f6"/><stop offset="23.81%" stop-color="#0011ff"/><stop offset="29.26%" stop-color="#004dff"/><stop offset="32.66%" stop-color="#006eff"/><stop offset="36.74%" stop-color="#0093ff"/><stop offset="42.19%" stop-color="#00e5ff"/><stop offset="44.23%" stop-color="#00d3ff"/><stop offset="47.63%" stop-color="#008fff"/><stop offset="49.22%" stop-color="#009dff"/><stop offset="51.94%" stop-color="#00d2ff"/><stop offset="53.75%" stop-color="#00d0ff"/><stop offset="63.28%" stop-color="#0071ff"/><stop offset="68.04%" stop-color="#0077ff"/><stop offset="84.37%" stop-color="#0001ff"/><stop offset="99.34%" stop-color="#0000dd"/></linearGradient><linearGradient id="r76" x1="1504.6" x2="1945.5" y1="0" y2="0" gradientUnits="userSpaceOnUse"><stop offset="0.00%" stop-color="#0000c7"/><stop offset="12.93%" stop-color="#0000d8"/><stop offset="20.41%" stop-color="#0000f6"/><stop offset="24.50%" stop-color="#0018ff"/><stop offset="29.94%" stop-color="#0056ff"/><stop offset="36.74%" stop-color="#0093ff"/><stop offset="42.19%" stop-color="#00e5ff"/><stop offset="44.23%" stop-color="#00c9ff"/><stop offset="47.18%" stop-color="#008dff"/><stop offset="49.22%" stop-color="#0092ff"/><stop offset="52.62%" stop-color="#00cdff"/><stop offset="55.11%" stop-color="#00bfff"/><stop offset="63.28%" stop-color="#006fff"/><stop offset="68.72%" stop-color="#0073ff"/><stop offset="84.37%" stop-color="#0002ff"/><stop offset="99.34%" stop-color="#0000df"/></linearGradient><linearGradient id="r77" x1="1504.6" x2="1945.5" y1="0" y2="0" gradientUnits="userSpaceOnUse"><stop offset="0.00%" stop-color="#0000c7"/><stop offset="12.25%" stop-color="#0000d7"/><stop offset="20.41%" stop-color="#0000f7"/><stop offset="25.18%" stop-color="#001fff"/><stop offset="29.94%" stop-color="#0056ff"/><stop offset="36.06%" stop-color="#008bff"/><stop offset="42.19%" stop-color="#00e4ff"/><stop offset="44.23%" stop-color="#00bdff"/><stop offset="46.52%" stop-color="#008eff"/><stop offset="49.69%" stop-color="#008fff"/><stop offset="53.07%" stop-color="#00c5ff"/><stop offset="56.48%" stop-color="#00b1ff"/><stop offset="62.60%" stop-color="#0072ff"/><stop offset="69.40%" stop-color="#006fff"/><stop offset="84.37%" stop-color="#0003ff"/><stop offset="99.34%" stop-color="#0000e1"/></linearGradient><linearGradient id="r78" x1="1504.6" x2="1945.5" y1="0" y2="0" gradientUnits="userSpaceOnUse"><stop offset="0.00%" stop-color="#0000c7"/><stop offset="12.25%" stop-color="#0000d6"/><stop offset="20.41%" stop-color="#0000f6"/><stop offset="24.50%" stop-color="#0018ff"/><stop offset="29.94%" stop-color="#0056ff"/><stop offset="36.06%" stop-color="#008bff"/><stop offset="42.19%" stop-color="#00e5ff"/><stop offset="44.23%" stop-color="#00c6ff"/><stop offset="46.97%" stop-color="#008dff"/><stop offset="49.24%" stop-color="#0090ff"/><stop offset="52.64%" stop-color="#00c9ff"/><stop offset="55.79%" stop-color="#00b8ff"/><stop offset="63.28%" stop-color="#006fff"/><stop offset="68.72%" stop-color="#0072ff"/><stop offset="84.37%" stop-color="#0002ff"/><stop offset="99.34%" stop-color="#0000df"/></linearGradient><linearGradient id="r79" x1="1504.6" x2="1945.5" y1="0" y2="0" gradientUnits="userSpaceOnUse"><stop offset="0.00%" stop-color="#0000c7"/><stop offset="12.93%" stop-color="#0000d8"/><stop offset="20.41%" stop-color="#0000f6"/><stop offset="23.81%" stop-color="#0011ff"/><stop offset="29.26%" stop-color="#004dff"/><stop offset="32.66%" stop-color="#006eff"/><stop offset="36.06%" stop-color="#008bff"/><stop offset="42.19%" stop-color="#00e5ff"/><stop offset="44.23%" stop-color="#00d1ff"/><stop offset="47.63%" stop-color="#008dff"/><stop offset="49.26%" stop-color="#009aff"/><stop offset="52.21%" stop-color="#00d0ff"/><stop offset="55.79%" stop-color="#00b9ff"/><stop offset="63.28%" stop-color="#0071ff"/><stop offset="68.04%" stop-color="#0075ff"/><stop offset="84.37%" stop-color="#0002ff"/><stop offset="99.34%" stop-color="#0000dd"/></linearGradient><linearGradient id="r80" x1="1504.6" x2="1945.5" y1="0" y2="0" gradientUnits="userSpaceOnUse"><stop offset="0.00%" stop-color="#0000c7"/><stop offset="13.61%" stop-color="#0000d9"/><stop offset="21.09%" stop-color="#0000fa"/><stop offset="26.54%" stop-color="#002aff"/><stop offset="31.30%" stop-color="#0065ff"/><stop offset="36.06%" stop-color="#008bff"/><stop offset="42.19%" stop-color="#00e5ff"/><stop offset="44.23%" stop-color="#00dbff"/><stop offset="47.90%" stop-color="#0090ff"/><stop offset="51.76%" stop-color="#00d5ff"/><stop offset="55.11%" stop-color="#00c3ff"/><stop offset="63.28%" stop-color="#0073ff"/><stop offset="68.04%" stop-color="#0073ff"/><stop offset="84.37%" stop-color="#0001ff"/><stop offset="99.34%" stop-color="#0000db"/></linearGradient><linearGradient id="r81" x1="1504.6" x2="1945.5" y1="0" y2="0" gradientUnits="userSpaceOnUse"><stop offset="0.00%" stop-color="#0000c7"/><stop offset="14.29%" stop-color="#0000da"/><stop offset="22.45%" stop-color="#0005ff"/><stop offset="28.58%" stop-color="#0044ff"/><stop offset="31.98%" stop-color="#0069ff"/><stop offset="36.06%" stop-color="#008bff"/><stop offset="42.19%" stop-color="#00e5ff"/><stop offset="44.91%" stop-color="#00d8ff"/><stop offset="47.92%" stop-color="#0099ff"/><stop offset="51.33%" stop-color="#00daff"/><stop offset="54.43%" stop-color="#00cdff"/><stop offset="63.28%" stop-color="#0076ff"/><stop offset="67.36%" stop-color="#0076ff"/><stop offset="84.37%" stop-color="#0000ff"/><stop offset="99.34%" stop-color="#0000d9"/></linearGradient><linearGradient id="r82" x1="1504.6" x2="1945.5" y1="0" y2="0" gradientUnits="userSpaceOnUse"><stop offset="0.00%" stop-color="#0000c7"/><stop offset="15.65%" stop-color="#0000dd"/><stop offset="22.45%" stop-color="#0004ff"/><stop offset="27.22%" stop-color="#0032ff"/><stop offset="31.30%" stop-color="#0065ff"/><stop offset="36.06%" stop-color="#008bff"/><stop offset="42.19%" stop-color="#00e5ff"/><stop offset="45.59%" stop-color="#00d7ff"/><stop offset="47.95%" stop-color="#00a3ff"/><stop offset="50.67%" stop-color="#00dbff"/><stop offset="53.75%" stop-color="#00d5ff"/><stop offset="59.20%" stop-color="#009dff"/><stop offset="63.96%" stop-color="#007bff"/><stop offset="68.04%" stop-color="#006fff"/><stop offset="83.69%" stop-color="#0002ff"/><stop offset="99.34%" stop-color="#0000d7"/></linearGradient><linearGradient id="r83" x1="1504.6" x2="1945.5" y1="0" y2="0" gradientUnits="userSpaceOnUse"><stop offset="0.00%" stop-color="#0000c7"/><stop offset="16.33%" stop-color="#0000df"/><stop offset="23.13%" stop-color="#0007ff"/><stop offset="29.94%" stop-color="#0057ff"/><stop offset="36.06%" stop-color="#008bff"/><stop offset="42.19%" stop-color="#00e5ff"/><stop offset="45.59%" stop-color="#00deff"/><stop offset="47.95%" stop-color="#00b0ff"/><stop offset="50.44%" stop-color="#00dfff"/><stop offset="53.75%" stop-color="#00d8ff"/><stop offset="59.88%" stop-color="#0097ff"/><stop offset="63.96%" stop-color="#007eff"/><stop offset="70.08%" stop-color="#0060ff"/><stop offset="83.69%" stop-color="#0001ff"/><stop offset="99.34%" stop-color="#0000d5"/></linearGradient><linearGradient id="r84" x1="1504.6" x2="1945.5" y1="0" y2="0" gradientUnits="userSpaceOnUse"><stop offset="0.00%" stop-color="#0000c7"/><stop offset="16.33%" stop-color="#0000df"/><stop offset="23.13%" stop-color="#0006ff"/><stop offset="27.22%" stop-color="#0032ff"/><stop offset="31.30%" stop-color="#0065ff"/><stop offset="36.06%" stop-color="#008bff"/><stop offset="42.19%" stop-color="#00e5ff"/><stop offset="46.61%" stop-color="#00d8ff"/><stop offset="47.97%" stop-color="#00beff"/><stop offset="50.01%" stop-color="#00e1ff"/><stop offset="53.75%" stop-color="#00dbff"/><stop offset="59.20%" stop-color="#009cff"/><stop offset="64.64%" stop-color="#007eff"/><stop offset="79.61%" stop-color="#0018ff"/><stop offset="85.05%" stop-color="#0000fa"/><stop offset="99.34%" stop-color="#0000d3"/></linearGradient><linearGradient id="r85" x1="1504.6" x2="1945.5" y1="0" y2="0" gradientUnits="userSpaceOnUse"><stop offset="0.00%" stop-color="#0000c7"/><stop offset="16.33%" stop-color="#0000de"/><stop offset="23.13%" stop-color="#0005ff"/><stop offset="27.22%" stop-color="#0032ff"/><stop offset="31.30%" stop-color="#0065ff"/><stop offset="36.06%" stop-color="#008bff"/><stop offset="42.19%" stop-color="#00e5ff"/><stop offset="47.09%" stop-color="#00daff"/><stop offset="47.99%" stop-color="#00cbff"/><stop offset="49.81%" stop-color="#00e2ff"/><stop offset="53.75%" stop-color="#00deff"/><stop offset="58.52%" stop-color="#00a1ff"/><stop offset="76.89%" stop-color="#002dff"/><stop offset="83.69%" stop-color="#0000fe"/><stop offset="99.34%" stop-color="#0000d1"/></linearGradient><linearGradient id="r86" x1="1504.6" x2="1945.5" y1="0" y2="0" gradientUnits="userSpaceOnUse"><stop offset="0.00%" stop-color="#0000c7"/><stop offset="16.33%" stop-color="#0000dd"/><stop offset="23.13%" stop-color="#0004ff"/><stop offset="25.86%" stop-color="#0020ff"/><stop offset="31.30%" stop-color="#0065ff"/><stop offset="36.06%" stop-color="#008bff"/><stop offset="42.19%" stop-color="#00e5ff"/><stop offset="47.63%" stop-color="#00daff"/><stop offset="48.45%" stop-color="#00dcff"/><stop offset="52.98%" stop-color="#00e5ff"/><stop offset="55.11%" stop-color="#00d2ff"/><stop offset="57.84%" stop-color="#00a6ff"/><stop offset="78.93%" stop-color="#001aff"/><stop offset="84.37%" stop-color="#0000fb"/><stop offset="99.34%" stop-color="#0000cf"/></linearGradient><linearGradient id="r87" x1="1504.6" x2="1945.5" y1="0" y2="0" gradientUnits="userSpaceOnUse"><stop offset="0.00%" stop-color="#0000c7"/><stop offset="16.33%" stop-color="#0000dc"/><stop offset="23.81%" stop-color="#0006ff"/><stop offset="31.30%" stop-color="#0065ff"/><stop offset="36.06%" stop-color="#008bff"/><stop offset="42.19%" stop-color="#00e5ff"/><stop offset="48.99%" stop-color="#00e2ff"/><stop offset="53.07%" stop-color="#00e7ff"/><stop offset="55.11%" stop-color="#00d4ff"/><stop offset="58.52%" stop-color="#00a0ff"/><stop offset="79.61%" stop-color="#0014ff"/><stop offset="84.37%" stop-color="#0000fa"/><stop offset="99.34%" stop-color="#0000cc"/></linearGradient><linearGradient id="r88" x1="1504.6" x2="1945.5" y1="0" y2="0" gradientUnits="userSpaceOnUse"><stop offset="0.00%" stop-color="#0000c7"/><stop offset="16.33%" stop-color="#0000db"/><stop offset="23.81%" stop-color="#0005ff"/><stop offset="31.30%" stop-color="#0065ff"/><stop offset="36.06%" stop-color="#008bff"/><stop offset="42.19%" stop-color="#00e5ff"/><stop offset="49.83%" stop-color="#00e6ff"/><stop offset="53.07%" stop-color="#00eaff"/><stop offset="55.11%" stop-color="#00d7ff"/><stop offset="57.84%" stop-color="#00a6ff"/><stop offset="64.64%" stop-color="#0079ff"/><stop offset="83.01%" stop-color="#0000ff"/><stop offset="99.34%" stop-color="#0000ca"/></linearGradient><linearGradient id="r89" x1="1504.6" x2="1945.5" y1="0" y2="0" gradientUnits="userSpaceOnUse"><stop offset="0.00%" stop-color="#0000c7"/><stop offset="16.33%" stop-color="#0000db"/><stop offset="24.50%" stop-color="#0008ff"/><stop offset="30.62%" stop-color="#005fff"/><stop offset="36.06%" stop-color="#008aff"/><stop offset="42.19%" stop-color="#00e4ff"/><stop offset="49.85%" stop-color="#00eaff"/><stop offset="53.07%" stop-color="#00ecff"/><stop offset="54.43%" stop-color="#00e5ff"/><stop offset="57.84%" stop-color="#00a6ff"/><stop offset="79.61%" stop-color="#0011ff"/><stop offset="84.37%" stop-color="#0000f9"/><stop offset="99.34%" stop-color="#0000c9"/></linearGradient><linearGradient id="r90" x1="1504.6" x2="1945.5" y1="0" y2="0" gradientUnits="userSpaceOnUse"><stop offset="0.00%" stop-color="#0000c7"/><stop offset="15.65%" stop-color="#0000d8"/><stop offset="23.81%" stop-color="#0007ff"/><stop offset="31.98%" stop-color="#0066ff"/><stop offset="36.74%" stop-color="#0090ff"/><stop offset="42.19%" stop-color="#00dfff"/><stop offset="51.44%" stop-color="#00f5ff"/><stop offset="54.43%" stop-color="#00e4ff"/><stop offset="57.84%" stop-color="#00a7ff"/><stop offset="65.32%" stop-color="#0074ff"/><stop offset="82.33%" stop-color="#0002ff"/><stop offset="99.34%" stop-color="#0000c9"/></linearGradient><linearGradient id="r91" x1="1504.6" x2="1945.5" y1="0" y2="0" gradientUnits="userSpaceOnUse"><stop offset="0.00%" stop-color="#0000c7"/><stop offset="15.65%" stop-color="#0000d9"/><stop offset="23.13%" stop-color="#0005ff"/><stop offset="25.86%" stop-color="#0021ff"/><stop offset="31.98%" stop-color="#0064ff"/><stop offset="37.42%" stop-color="#0095ff"/><stop offset="42.87%" stop-color="#00deff"/><stop offset="50.56%" stop-color="#02fffd"/><stop offset="54.43%" stop-color="#00e3ff"/><stop offset="58.52%" stop-color="#00a2ff"/><stop offset="82.33%" stop-color="#0001ff"/><stop offset="99.34%" stop-color="#0000c9"/></linearGradient><linearGradient id="r92" x1="1504.6" x2="1945.5" y1="0" y2="0" gradientUnits="userSpaceOnUse"><stop offset="0.00%" stop-color="#0000c7"/><stop offset="14.97%" stop-color="#0000d7"/><stop offset="23.13%" stop-color="#0007ff"/><stop offset="32.66%" stop-color="#0066ff"/><stop offset="38.10%" stop-color="#009aff"/><stop offset="43.55%" stop-color="#00e1ff"/><stop offset="48.74%" stop-color="#07fff8"/><stop offset="50.35%" stop-color="#0efff1"/><stop offset="52.39%" stop-color="#00f7ff"/><stop offset="55.79%" stop-color="#00caff"/><stop offset="59.88%" stop-color="#0096ff"/><stop offset="79.61%" stop-color="#0011ff"/><stop offset="83.69%" stop-color="#0000fb"/><stop offset="99.34%" stop-color="#0000c9"/></linearGradient><linearGradient id="r93" x1="1504.6" x2="1945.5" y1="0" y2="0" gradientUnits="userSpaceOnUse"><stop offset="0.00%" stop-color="#0000c7"/><stop offset="13.61%" stop-color="#0000d4"/><stop offset="22.45%" stop-color="#0004ff"/><stop offset="33.34%" stop-color="#0069ff"/><stop offset="39.46%" stop-color="#00a8ff"/><stop offset="46.27%" stop-color="#00fbff"/><stop offset="50.10%" stop-color="#1dffe2"/><stop offset="52.39%" stop-color="#00f9ff"/><stop offset="59.20%" stop-color="#009dff"/><stop offset="79.61%" stop-color="#0011ff"/><stop offset="83.69%" stop-color="#0000fb"/><stop offset="99.34%" stop-color="#0000c9"/></linearGradient><linearGradient id="r94" x1="1504.6" x2="1945.5" y1="0" y2="0" gradientUnits="userSpaceOnUse"><stop offset="0.00%" stop-color="#0000c7"/><stop offset="12.25%" stop-color="#0000d1"/><stop offset="21.09%" stop-color="#0000fa"/><stop offset="25.86%" stop-color="#0025ff"/><stop offset="38.10%" stop-color="#0093ff"/><stop offset="46.27%" stop-color="#02fffd"/><stop offset="50.12%" stop-color="#2affd5"/><stop offset="52.62%" stop-color="#00f8ff"/><stop offset="59.20%" stop-color="#009eff"/><stop offset="82.33%" stop-color="#0001ff"/><stop offset="99.34%" stop-color="#0000c9"/></linearGradient><linearGradient id="r95" x1="1504.6" x2="1945.5" y1="0" y2="0" gradientUnits="userSpaceOnUse"><stop offset="0.00%" stop-color="#0000c7"/><stop offset="12.25%" stop-color="#0000d0"/><stop offset="21.77%" stop-color="#0002ff"/><stop offset="38.78%" stop-color="#0098ff"/><stop offset="44.23%" stop-color="#00e8ff"/><stop offset="45.59%" stop-color="#00feff"/><stop offset="50.12%" stop-color="#3effc1"/><stop offset="52.62%" stop-color="#00fcff"/><stop offset="57.84%" stop-color="#00aeff"/><stop offset="63.96%" stop-color="#007aff"/><stop offset="79.61%" stop-color="#0011ff"/><stop offset="83.69%" stop-color="#0000fb"/><stop offset="99.34%" stop-color="#0000c9"/></linearGradient><linearGradient id="r96" x1="1504.6" x2="1945.5" y1="0" y2="0" gradientUnits="userSpaceOnUse"><stop offset="0.00%" stop-color="#0000c7"/><stop offset="11.57%" stop-color="#0000ce"/><stop offset="20.41%" stop-color="#0000f7"/><stop offset="25.86%" stop-color="#0027ff"/><stop offset="38.78%" stop-color="#0094ff"/><stop offset="42.87%" stop-color="#00cdff"/><stop offset="45.59%" stop-color="#03fffc"/><stop offset="49.90%" stop-color="#59ffa6"/><stop offset="52.17%" stop-color="#0efff1"/><stop offset="52.85%" stop-color="#00faff"/><stop offset="56.48%" stop-color="#00c0ff"/><stop offset="61.92%" stop-color="#0088ff"/><stop offset="79.61%" stop-color="#0011ff"/><stop offset="83.69%" stop-color="#0000fb"/><stop offset="98.66%" stop-color="#0000ca"/><stop offset="99.34%" stop-color="#0000c9"/></linearGradient><linearGradient id="r97" x1="1504.6" x2="1945.5" y1="0" y2="0" gradientUnits="userSpaceOnUse"><stop offset="0.00%" stop-color="#0000c7"/><stop offset="11.57%" stop-color="#0000ce"/><stop offset="20.41%" stop-color="#0000f8"/><stop offset="29.94%" stop-color="#0046ff"/><stop offset="38.78%" stop-color="#0092ff"/><stop offset="42.87%" stop-color="#00cbff"/><stop offset="45.59%" stop-color="#05fffa"/><stop offset="48.31%" stop-color="#45ffba"/><stop offset="49.92%" stop-color="#70ff8f"/><stop offset="51.28%" stop-color="#44ffbb"/><stop offset="52.87%" stop-color="#01fffe"/><stop offset="55.79%" stop-color="#00caff"/><stop offset="62.60%" stop-color="#0085ff"/><stop offset="79.61%" stop-color="#0012ff"/><stop offset="84.37%" stop-color="#0000f8"/><stop offset="99.34%" stop-color="#0000c8"/></linearGradient><linearGradient id="r98" x1="1504.6" x2="1945.5" y1="0" y2="0" gradientUnits="userSpaceOnUse"><stop offset="0.00%" stop-color="#0000c6"/><stop offset="11.57%" stop-color="#0000ce"/><stop offset="20.41%" stop-color="#0000f8"/><stop offset="29.94%" stop-color="#0047ff"/><stop offset="38.78%" stop-color="#0092ff"/><stop offset="42.87%" stop-color="#00cbff"/><stop offset="44.91%" stop-color="#00f9ff"/><stop offset="46.97%" stop-color="#27ffd8"/><stop offset="49.47%" stop-color="#7eff81"/><stop offset="50.15%" stop-color="#80ff7f"/><stop offset="52.87%" stop-color="#05fffa"/><stop offset="56.48%" stop-color="#00c7ff"/><stop offset="63.28%" stop-color="#0085ff"/><stop offset="83.01%" stop-color="#0000ff"/><stop offset="96.62%" stop-color="#0000cf"/><stop offset="99.34%" stop-color="#0000c8"/></linearGradient><linearGradient id="r99" x1="1504.6" x2="1945.5" y1="0" y2="0" gradientUnits="userSpaceOnUse"><stop offset="0.00%" stop-color="#0000c6"/><stop offset="11.57%" stop-color="#0000cf"/><stop offset="21.77%" stop-color="#0005ff"/><stop offset="38.78%" stop-color="#0092ff"/><stop offset="42.87%" stop-color="#00ccff"/><stop offset="44.91%" stop-color="#00faff"/><stop offset="46.97%" stop-color="#28ffd7"/><stop offset="49.69%" stop-color="#95ff6a"/><stop offset="50.37%" stop-color="#93ff6c"/><stop offset="51.51%" stop-color="#5bffa4"/><stop offset="52.87%" stop-color="#10ffef"/><stop offset="53.75%" stop-color="#00f5ff"/><stop offset="57.16%" stop-color="#00c5ff"/><stop offset="63.96%" stop-color="#0084ff"/><stop offset="83.01%" stop-color="#0001ff"/><stop offset="97.98%" stop-color="#0000cb"/><stop offset="99.34%" stop-color="#0000c8"/></linearGradient><linearGradient id="r100" x1="1504.6" x2="1945.5" y1="0" y2="0" gradientUnits="userSpaceOnUse"><stop offset="0.00%" stop-color="#0000c5"/><stop offset="11.57%" stop-color="#0000d0"/><stop offset="20.41%" stop-color="#0000f9"/><stop offset="38.78%" stop-color="#0091ff"/><stop offset="42.87%" stop-color="#00ccff"/><stop offset="44.91%" stop-color="#00faff"/><stop offset="46.77%" stop-color="#28ffd7"/><stop offset="48.58%" stop-color="#84ff7b"/><stop offset="49.49%" stop-color="#aaff55"/><stop offset="50.17%" stop-color="#aaff55"/><stop offset="51.08%" stop-color="#7cff83"/><stop offset="52.67%" stop-color="#19ffe6"/><stop offset="53.75%" stop-color="#00f8ff"/><stop offset="57.16%" stop-color="#00caff"/><stop offset="65.32%" stop-color="#007dff"/><stop offset="83.69%" stop-color="#0000fe"/><stop offset="97.30%" stop-color="#0000cc"/><stop offset="99.34%" stop-color="#0000c7"/></linearGradient><linearGradient id="r101" x1="1504.6" x2="1945.5" y1="0" y2="0" gradientUnits="userSpaceOnUse"><stop offset="0.00%" stop-color="#0000c5"/><stop offset="11.57%" stop-color="#0000d0"/><stop offset="21.77%" stop-color="#0006ff"/><stop offset="38.78%" stop-color="#0091ff"/><stop offset="42.87%" stop-color="#00ccff"/><stop offset="44.91%" stop-color="#00fbff"/><stop offset="46.95%" stop-color="#2effd1"/><stop offset="48.36%" stop-color="#75ff8a"/><stop offset="49.49%" stop-color="#b7ff48"/><stop offset="50.17%" stop-color="#c2ff3d"/><stop offset="51.03%" stop-color="#9fff60"/><stop offset="52.67%" stop-color="#28ffd7"/><stop offset="53.75%" stop-color="#00ffff"/><stop offset="56.48%" stop-color="#00d7ff"/><stop offset="66.00%" stop-color="#007cff"/><stop offset="83.69%" stop-color="#0000ff"/><stop offset="96.62%" stop-color="#0000cd"/><stop offset="99.34%" stop-color="#0000c7"/></linearGradient><linearGradient id="r102" x1="1504.6" x2="1945.5" y1="0" y2="0" gradientUnits="userSpaceOnUse"><stop offset="0.00%" stop-color="#0000c4"/><stop offset="11.57%" stop-color="#0000d1"/><stop offset="20.41%" stop-color="#0000f9"/><stop offset="38.78%" stop-color="#0091ff"/><stop offset="42.87%" stop-color="#00cdff"/><stop offset="44.91%" stop-color="#00fbff"/><stop offset="46.27%" stop-color="#1dffe2"/><stop offset="47.63%" stop-color="#5cffa3"/><stop offset="49.26%" stop-color="#c7ff38"/><stop offset="49.94%" stop-color="#d3ff2c"/><stop offset="50.62%" stop-color="#baff45"/><stop offset="52.44%" stop-color="#31ffce"/><stop offset="53.75%" stop-color="#03fffc"/><stop offset="61.92%" stop-color="#00a5ff"/><stop offset="75.53%" stop-color="#003cff"/><stop offset="83.69%" stop-color="#0001ff"/><stop offset="97.30%" stop-color="#0000cb"/><stop offset="99.34%" stop-color="#0000c7"/></linearGradient><linearGradient id="r103" x1="1504.6" x2="1945.5" y1="0" y2="0" gradientUnits="userSpaceOnUse"><stop offset="0.00%" stop-color="#0000c4"/><stop offset="12.25%" stop-color="#0000d4"/><stop offset="21.77%" stop-color="#0007ff"/><stop offset="31.30%" stop-color="#0054ff"/><stop offset="39.46%" stop-color="#0098ff"/><stop offset="42.87%" stop-color="#00cdff"/><stop offset="44.91%" stop-color="#00fcff"/><stop offset="47.02%" stop-color="#36ffc9"/><stop offset="48.38%" stop-color="#86ff79"/><stop offset="49.51%" stop-color="#d6ff29"/><stop offset="50.19%" stop-color="#e3ff1c"/><stop offset="50.87%" stop-color="#c7ff38"/><stop offset="52.69%" stop-color="#34ffcb"/><stop offset="53.75%" stop-color="#09fff6"/><stop offset="55.79%" stop-color="#00e8ff"/><stop offset="68.04%" stop-color="#0074ff"/><stop offset="84.37%" stop-color="#0000fd"/><stop offset="97.30%" stop-color="#0000cb"/><stop offset="99.34%" stop-color="#0000c6"/></linearGradient><linearGradient id="r104" x1="1504.6" x2="1945.5" y1="0" y2="0" gradientUnits="userSpaceOnUse"><stop offset="0.00%" stop-color="#0000c3"/><stop offset="12.25%" stop-color="#0000d5"/><stop offset="21.09%" stop-color="#0002ff"/><stop offset="32.66%" stop-color="#005fff"/><stop offset="39.46%" stop-color="#0097ff"/><stop offset="43.55%" stop-color="#00dcff"/><stop offset="44.91%" stop-color="#00fdff"/><stop offset="46.27%" stop-color="#21ffde"/><stop offset="47.47%" stop-color="#5affa5"/><stop offset="48.83%" stop-color="#c6ff39"/><stop offset="49.51%" stop-color="#f8ff07"/><stop offset="49.97%" stop-color="#ffff00"/><stop offset="50.65%" stop-color="#d7ff28"/><stop offset="52.23%" stop-color="#49ffb6"/><stop offset="53.14%" stop-color="#1cffe3"/><stop offset="54.43%" stop-color="#00feff"/><stop offset="66.68%" stop-color="#0082ff"/><stop offset="84.37%" stop-color="#0000fe"/><stop offset="97.30%" stop-color="#0000ca"/><stop offset="99.34%" stop-color="#0000c6"/></linearGradient><linearGradient id="r105" x1="1504.6" x2="1945.5" y1="0" y2="0" gradientUnits="userSpaceOnUse"><stop offset="0.00%" stop-color="#0000c2"/><stop offset="12.25%" stop-color="#0000d6"/><stop offset="21.09%" stop-color="#0002ff"/><stop offset="30.62%" stop-color="#0050ff"/><stop offset="39.46%" stop-color="#0097ff"/><stop offset="43.55%" stop-color="#00dcff"/><stop offset="44.91%" stop-color="#00fdff"/><stop offset="46.95%" stop-color="#37ffc8"/><stop offset="48.15%" stop-color="#79ff86"/><stop offset="49.06%" stop-color="#cfff30"/><stop offset="49.51%" stop-color="#fffc00"/><stop offset="49.97%" stop-color="#ffdc00"/><stop offset="50.42%" stop-color="#ffe500"/><stop offset="50.65%" stop-color="#fff800"/><stop offset="52.23%" stop-color="#5bffa4"/><stop offset="53.14%" stop-color="#25ffda"/><stop offset="54.43%" stop-color="#04fffb"/><stop offset="70.08%" stop-color="#0069ff"/><stop offset="85.05%" stop-color="#0000fa"/><stop offset="98.66%" stop-color="#0000c7"/><stop offset="99.34%" stop-color="#0000c6"/></linearGradient><linearGradient id="r106" x1="1504.6" x2="1945.5" y1="0" y2="0" gradientUnits="userSpaceOnUse"><stop offset="0.00%" stop-color="#0000c2"/><stop offset="12.25%" stop-color="#0000d6"/><stop offset="21.09%" stop-color="#0002ff"/><stop offset="29.26%" stop-color="#0048ff"/><stop offset="39.46%" stop-color="#0096ff"/><stop offset="43.55%" stop-color="#00ddff"/><stop offset="44.91%" stop-color="#00feff"/><stop offset="46.81%" stop-color="#38ffc7"/><stop offset="47.95%" stop-color="#7dff82"/><stop offset="48.63%" stop-color="#c2ff3d"/><stop offset="49.08%" stop-color="#fff900"/><stop offset="49.54%" stop-color="#ffbc00"/><stop offset="49.76%" stop-color="#ffae00"/><stop offset="49.99%" stop-color="#ffaf00"/><stop offset="50.44%" stop-color="#ffdd00"/><stop offset="50.67%" stop-color="#ffff00"/><stop offset="51.35%" stop-color="#9eff61"/><stop offset="52.26%" stop-color="#4dffb2"/><stop offset="53.16%" stop-color="#22ffdd"/><stop offset="55.11%" stop-color="#00fdff"/><stop offset="70.76%" stop-color="#0066ff"/><stop offset="85.05%" stop-color="#0000fb"/><stop offset="97.98%" stop-color="#0000c8"/><stop offset="99.34%" stop-color="#0000c5"/></linearGradient><linearGradient id="r107" x1="1504.6" x2="1945.5" y1="0" y2="0" gradientUnits="userSpaceOnUse"><stop offset="0.00%" stop-color="#0000c1"/><stop offset="12.93%" stop-color="#0000d9"/><stop offset="21.09%" stop-color="#0003ff"/><stop offset="30.62%" stop-color="#0052ff"/><stop offset="39.46%" stop-color="#0096ff"/><stop offset="43.55%" stop-color="#00ddff"/><stop offset="44.91%" stop-color="#00feff"/><stop offset="47.04%" stop-color="#3effc1"/><stop offset="48.31%" stop-color="#88ff77"/><stop offset="48.85%" stop-color="#c8ff37"/><stop offset="49.08%" stop-color="#eeff11"/><stop offset="49.31%" stop-color="#ffe400"/><stop offset="49.76%" stop-color="#ff9300"/><stop offset="49.99%" stop-color="#ff7d00"/><stop offset="50.22%" stop-color="#ff7c00"/><stop offset="50.44%" stop-color="#ff9000"/><stop offset="51.03%" stop-color="#fffc00"/><stop offset="51.58%" stop-color="#a5ff5a"/><stop offset="52.39%" stop-color="#55ffaa"/><stop offset="53.16%" stop-color="#2cffd3"/><stop offset="55.11%" stop-color="#03fffc"/><stop offset="72.13%" stop-color="#005fff"/><stop offset="85.05%" stop-color="#0000fb"/><stop offset="98.66%" stop-color="#0000c6"/><stop offset="99.34%" stop-color="#0000c5"/></linearGradient><linearGradient id="r108" x1="1504.6" x2="1945.5" y1="0" y2="0" gradientUnits="userSpaceOnUse"><stop offset="0.00%" stop-color="#0000c1"/><stop offset="12.93%" stop-color="#0000da"/><stop offset="21.09%" stop-color="#0003ff"/><stop offset="29.94%" stop-color="#004eff"/><stop offset="39.46%" stop-color="#0096ff"/><stop offset="43.55%" stop-color="#00ddff"/><stop offset="44.91%" stop-color="#00ffff"/><stop offset="46.81%" stop-color="#3bffc4"/><stop offset="47.95%" stop-color="#7fff80"/><stop offset="48.40%" stop-color="#afff50"/><stop offset="48.85%" stop-color="#fffd00"/><stop offset="49.54%" stop-color="#ff6300"/><stop offset="49.76%" stop-color="#ff4900"/><stop offset="49.99%" stop-color="#ff4900"/><stop offset="50.22%" stop-color="#ff6400"/><stop offset="50.90%" stop-color="#feff01"/><stop offset="51.35%" stop-color="#aaff55"/><stop offset="52.03%" stop-color="#63ff9c"/><stop offset="53.07%" stop-color="#2dffd2"/><stop offset="55.11%" stop-color="#08fff7"/><stop offset="59.20%" stop-color="#00dfff"/><stop offset="71.44%" stop-color="#0066ff"/><stop offset="85.05%" stop-color="#0000fc"/><stop offset="97.98%" stop-color="#0000c7"/><stop offset="99.34%" stop-color="#0000c5"/></linearGradient><linearGradient id="r109" x1="1504.6" x2="1945.5" y1="0" y2="0" gradientUnits="userSpaceOnUse"><stop offset="0.00%" stop-color="#0000c0"/><stop offset="12.93%" stop-color="#0000db"/><stop offset="21.09%" stop-color="#0004ff"/><stop offset="29.26%" stop-color="#004aff"/><stop offset="39.46%" stop-color="#0095ff"/><stop offset="43.55%" stop-color="#00ddff"/><stop offset="44.91%" stop-color="#00ffff"/><stop offset="47.06%" stop-color="#42ffbd"/><stop offset="48.20%" stop-color="#81ff7e"/><stop offset="48.65%" stop-color="#b3ff4c"/><stop offset="48.99%" stop-color="#f3ff0c"/><stop offset="49.10%" stop-color="#ffef00"/><stop offset="49.78%" stop-color="#ff3a00"/><stop offset="50.01%" stop-color="#ff1a00"/><stop offset="50.24%" stop-color="#ff1a00"/><stop offset="50.46%" stop-color="#ff3800"/><stop offset="51.15%" stop-color="#ffef00"/><stop offset="51.37%" stop-color="#d9ff26"/><stop offset="51.83%" stop-color="#8fff70"/><stop offset="52.51%" stop-color="#54ffab"/><stop offset="53.19%" stop-color="#32ffcd"/><stop offset="55.11%" stop-color="#0dfff2"/><stop offset="57.16%" stop-color="#00f9ff"/><stop offset="71.44%" stop-color="#0068ff"/><stop offset="85.05%" stop-color="#0000fd"/><stop offset="97.98%" stop-color="#0000c7"/><stop offset="99.34%" stop-color="#0000c5"/></linearGradient><linearGradient id="r110" x1="1504.6" x2="1945.5" y1="0" y2="0" gradientUnits="userSpaceOnUse"><stop offset="0.00%" stop-color="#0000c0"/><stop offset="13.61%" stop-color="#0000de"/><stop offset="21.09%" stop-color="#0004ff"/><stop offset="28.58%" stop-color="#0046ff"/><stop offset="39.46%" stop-color="#0095ff"/><stop offset="44.23%" stop-color="#00eeff"/><stop offset="44.91%" stop-color="#01fffe"/><stop offset="46.95%" stop-color="#44ffbb"/><stop offset="47.97%" stop-color="#83ff7c"/><stop offset="48.42%" stop-color="#b9ff46"/><stop offset="48.65%" stop-color="#e5ff1a"/><stop offset="48.88%" stop-color="#ffdf00"/><stop offset="49.33%" stop-color="#ff5000"/><stop offset="49.56%" stop-color="#ff1400"/><stop offset="49.67%" stop-color="#fe0000"/><stop offset="49.78%" stop-color="#f10000"/><stop offset="50.01%" stop-color="#f20000"/><stop offset="50.24%" stop-color="#ff1900"/><stop offset="50.69%" stop-color="#ffa000"/><stop offset="50.92%" stop-color="#ffe600"/><stop offset="51.03%" stop-color="#f9ff06"/><stop offset="51.37%" stop-color="#b2ff4d"/><stop offset="51.83%" stop-color="#7aff85"/><stop offset="52.73%" stop-color="#41ffbe"/><stop offset="54.43%" stop-color="#1affe5"/><stop offset="57.84%" stop-color="#00f8ff"/><stop offset="72.13%" stop-color="#0065ff"/><stop offset="85.05%" stop-color="#0000fd"/><stop offset="97.98%" stop-color="#0000c6"/><stop offset="99.34%" stop-color="#0000c4"/></linearGradient><linearGradient id="r111" x1="1504.6" x2="1945.5" y1="0" y2="0" gradientUnits="userSpaceOnUse"><stop offset="0.00%" stop-color="#0000bf"/><stop offset="13.61%" stop-color="#0000df"/><stop offset="21.09%" stop-color="#0005ff"/><stop offset="29.26%" stop-color="#004bff"/><stop offset="39.46%" stop-color="#0094ff"/><stop offset="44.23%" stop-color="#00eeff"/><stop offset="44.91%" stop-color="#01fffe"/><stop offset="47.06%" stop-color="#45ffba"/><stop offset="48.20%" stop-color="#82ff7d"/><stop offset="48.65%" stop-color="#b7ff48"/><stop offset="48.99%" stop-color="#ffff00"/><stop offset="49.78%" stop-color="#ff0300"/><stop offset="50.01%" stop-color="#d80000"/><stop offset="50.24%" stop-color="#d50000"/><stop offset="50.46%" stop-color="#f80000"/><stop offset="50.69%" stop-color="#ff3a00"/><stop offset="51.15%" stop-color="#ffd400"/><stop offset="51.37%" stop-color="#eaff15"/><stop offset="51.71%" stop-color="#a6ff59"/><stop offset="52.28%" stop-color="#69ff96"/><stop offset="53.19%" stop-color="#3affc5"/><stop offset="55.11%" stop-color="#17ffe8"/><stop offset="58.52%" stop-color="#00f6ff"/><stop offset="72.13%" stop-color="#0068ff"/><stop offset="85.05%" stop-color="#0000fe"/><stop offset="97.98%" stop-color="#0000c6"/><stop offset="99.34%" stop-color="#0000c4"/></linearGradient><linearGradient id="r112" x1="1504.6" x2="1945.5" y1="0" y2="0" gradientUnits="userSpaceOnUse"><stop offset="0.00%" stop-color="#0000bf"/><stop offset="13.61%" stop-color="#0000df"/><stop offset="21.09%" stop-color="#0005ff"/><stop offset="29.26%" stop-color="#004cff"/><stop offset="40.15%" stop-color="#009dff"/><stop offset="44.91%" stop-color="#02fffd"/><stop offset="46.95%" stop-color="#47ffb8"/><stop offset="47.99%" stop-color="#86ff79"/><stop offset="48.45%" stop-color="#bfff40"/><stop offset="48.67%" stop-color="#eeff11"/><stop offset="48.90%" stop-color="#ffd000"/><stop offset="49.35%" stop-color="#ff3300"/><stop offset="49.58%" stop-color="#ef0000"/><stop offset="49.81%" stop-color="#cb0000"/><stop offset="50.03%" stop-color="#ce0000"/><stop offset="50.26%" stop-color="#f80000"/><stop offset="50.35%" stop-color="#ff1300"/><stop offset="51.03%" stop-color="#fff700"/><stop offset="51.39%" stop-color="#b5ff4a"/><stop offset="51.85%" stop-color="#7cff83"/><stop offset="52.76%" stop-color="#46ffb9"/><stop offset="54.43%" stop-color="#22ffdd"/><stop offset="58.52%" stop-color="#00fcff"/><stop offset="71.44%" stop-color="#006fff"/><stop offset="85.05%" stop-color="#0000ff"/><stop offset="97.30%" stop-color="#0000c7"/><stop offset="99.34%" stop-color="#0000c4"/></linearGradient><linearGradient id="r113" x1="1504.6" x2="1945.5" y1="0" y2="0" gradientUnits="userSpaceOnUse"><stop offset="0.00%" stop-color="#0000be"/><stop offset="14.29%" stop-color="#0000e2"/><stop offset="21.09%" stop-color="#0005ff"/><stop offset="29.26%" stop-color="#004dff"/><stop offset="40.15%" stop-color="#009dff"/><stop offset="44.91%" stop-color="#02fffd"/><stop offset="47.09%" stop-color="#49ffb6"/><stop offset="48.22%" stop-color="#85ff7a"/><stop offset="48.67%" stop-color="#baff45"/><stop offset="48.99%" stop-color="#feff01"/><stop offset="49.35%" stop-color="#ff8d00"/><stop offset="49.67%" stop-color="#ff1f00"/><stop offset="49.81%" stop-color="#f70000"/><stop offset="50.03%" stop-color="#cd0000"/><stop offset="50.26%" stop-color="#cb0000"/><stop offset="50.49%" stop-color="#f10000"/><stop offset="50.71%" stop-color="#ff3500"/><stop offset="51.17%" stop-color="#ffd300"/><stop offset="51.39%" stop-color="#ebff14"/><stop offset="51.71%" stop-color="#acff53"/><stop offset="52.30%" stop-color="#6dff92"/><stop offset="53.21%" stop-color="#40ffbf"/><stop offset="55.11%" stop-color="#20ffdf"/><stop offset="59.20%" stop-color="#00faff"/><stop offset="71.44%" stop-color="#0071ff"/><stop offset="85.73%" stop-color="#0000f9"/><stop offset="97.98%" stop-color="#0000c5"/><stop offset="99.34%" stop-color="#0000c3"/></linearGradient><linearGradient id="r114" x1="1504.6" x2="1945.5" y1="0" y2="0" gradientUnits="userSpaceOnUse"><stop offset="0.00%" stop-color="#0000be"/><stop offset="14.29%" stop-color="#0000e3"/><stop offset="21.09%" stop-color="#0006ff"/><stop offset="28.58%" stop-color="#0049ff"/><stop offset="39.46%" stop-color="#0093ff"/><stop offset="44.91%" stop-color="#03fffc"/><stop offset="46.95%" stop-color="#4affb5"/><stop offset="47.99%" stop-color="#87ff78"/><stop offset="48.45%" stop-color="#bdff42"/><stop offset="48.67%" stop-color="#ebff14"/><stop offset="48.90%" stop-color="#ffd400"/><stop offset="49.35%" stop-color="#ff3800"/><stop offset="49.58%" stop-color="#f30000"/><stop offset="49.81%" stop-color="#cc0000"/><stop offset="50.03%" stop-color="#cc0000"/><stop offset="50.26%" stop-color="#f40000"/><stop offset="50.35%" stop-color="#ff0e00"/><stop offset="51.03%" stop-color="#fff200"/><stop offset="51.17%" stop-color="#e8ff17"/><stop offset="51.39%" stop-color="#b9ff46"/><stop offset="51.85%" stop-color="#81ff7e"/><stop offset="52.76%" stop-color="#4dffb2"/><stop offset="54.43%" stop-color="#2bffd4"/><stop offset="59.20%" stop-color="#00ffff"/><stop offset="71.44%" stop-color="#0074ff"/><stop offset="85.73%" stop-color="#0000f9"/><stop offset="97.30%" stop-color="#0000c6"/><stop offset="99.34%" stop-color="#0000c3"/></linearGradient><linearGradient id="r115" x1="1504.6" x2="1945.5" y1="0" y2="0" gradientUnits="userSpaceOnUse"><stop offset="0.00%" stop-color="#0000bd"/><stop offset="16.33%" stop-color="#0000eb"/><stop offset="21.09%" stop-color="#0006ff"/><stop offset="29.26%" stop-color="#004eff"/><stop offset="40.15%" stop-color="#009cff"/><stop offset="44.91%" stop-color="#04fffb"/><stop offset="47.11%" stop-color="#4dffb2"/><stop offset="48.31%" stop-color="#8dff72"/><stop offset="48.70%" stop-color="#bcff43"/><stop offset="48.99%" stop-color="#faff05"/><stop offset="49.15%" stop-color="#ffd700"/><stop offset="49.67%" stop-color="#ff2400"/><stop offset="49.83%" stop-color="#f50000"/><stop offset="50.06%" stop-color="#cd0000"/><stop offset="50.35%" stop-color="#d30000"/><stop offset="50.51%" stop-color="#f20000"/><stop offset="50.74%" stop-color="#ff3700"/><stop offset="51.19%" stop-color="#ffd400"/><stop offset="51.42%" stop-color="#eaff15"/><stop offset="51.71%" stop-color="#b0ff4f"/><stop offset="52.10%" stop-color="#82ff7d"/><stop offset="53.07%" stop-color="#4cffb3"/><stop offset="54.43%" stop-color="#31ffce"/><stop offset="59.88%" stop-color="#00feff"/><stop offset="71.44%" stop-color="#0076ff"/><stop offset="84.37%" stop-color="#0008ff"/><stop offset="89.82%" stop-color="#0000e5"/><stop offset="97.98%" stop-color="#0000c5"/><stop offset="99.34%" stop-color="#0000c3"/></linearGradient><linearGradient id="r116" x1="1504.6" x2="1945.5" y1="0" y2="0" gradientUnits="userSpaceOnUse"><stop offset="0.00%" stop-color="#0000bd"/><stop offset="17.01%" stop-color="#0000ef"/><stop offset="21.09%" stop-color="#0007ff"/><stop offset="29.26%" stop-color="#004fff"/><stop offset="40.15%" stop-color="#009cff"/><stop offset="44.91%" stop-color="#04fffb"/><stop offset="46.95%" stop-color="#4dffb2"/><stop offset="48.02%" stop-color="#8aff75"/><stop offset="48.47%" stop-color="#bfff40"/><stop offset="48.70%" stop-color="#eeff11"/><stop offset="48.92%" stop-color="#ffd200"/><stop offset="49.38%" stop-color="#ff3600"/><stop offset="49.60%" stop-color="#f10000"/><stop offset="49.83%" stop-color="#cb0000"/><stop offset="50.06%" stop-color="#cd0000"/><stop offset="50.28%" stop-color="#f60000"/><stop offset="50.35%" stop-color="#ff0a00"/><stop offset="51.03%" stop-color="#ffed00"/><stop offset="51.19%" stop-color="#e7ff18"/><stop offset="51.42%" stop-color="#baff45"/><stop offset="51.87%" stop-color="#83ff7c"/><stop offset="52.78%" stop-color="#53ffac"/><stop offset="54.43%" stop-color="#34ffcb"/><stop offset="60.56%" stop-color="#00fcff"/><stop offset="70.76%" stop-color="#007eff"/><stop offset="84.37%" stop-color="#0009ff"/><stop offset="88.46%" stop-color="#0000ed"/><stop offset="97.30%" stop-color="#0000c5"/><stop offset="99.34%" stop-color="#0000c3"/></linearGradient><linearGradient id="r117" x1="1504.6" x2="1945.5" y1="0" y2="0" gradientUnits="userSpaceOnUse"><stop offset="0.00%" stop-color="#0000bd"/><stop offset="17.69%" stop-color="#0000f6"/><stop offset="20.41%" stop-color="#0006ff"/><stop offset="28.58%" stop-color="#004eff"/><stop offset="40.15%" stop-color="#009dff"/><stop offset="44.91%" stop-color="#05fffa"/><stop offset="47.11%" stop-color="#50ffaf"/><stop offset="48.31%" stop-color="#8dff72"/><stop offset="48.70%" stop-color="#bbff44"/><stop offset="48.99%" stop-color="#f7ff08"/><stop offset="49.15%" stop-color="#ffdb00"/><stop offset="49.67%" stop-color="#ff2900"/><stop offset="49.83%" stop-color="#f90000"/><stop offset="50.06%" stop-color="#ce0000"/><stop offset="50.28%" stop-color="#ca0000"/><stop offset="50.51%" stop-color="#ef0000"/><stop offset="50.74%" stop-color="#ff3200"/><stop offset="51.19%" stop-color="#ffcf00"/><stop offset="51.42%" stop-color="#efff10"/><stop offset="51.71%" stop-color="#b4ff4b"/><stop offset="52.10%" stop-color="#86ff79"/><stop offset="53.07%" stop-color="#51ffae"/><stop offset="54.43%" stop-color="#36ffc9"/><stop offset="60.56%" stop-color="#00ffff"/><stop offset="71.44%" stop-color="#007cff"/><stop offset="86.41%" stop-color="#0000fb"/><stop offset="97.98%" stop-color="#0000c8"/><stop offset="99.34%" stop-color="#0000c6"/></linearGradient><linearGradient id="r118" x1="1504.6" x2="1945.5" y1="0" y2="0" gradientUnits="userSpaceOnUse"><stop offset="0.00%" stop-color="#0000be"/><stop offset="17.01%" stop-color="#0000f8"/><stop offset="21.09%" stop-color="#0012ff"/><stop offset="28.58%" stop-color="#0050ff"/><stop offset="40.15%" stop-color="#009fff"/><stop offset="44.91%" stop-color="#06fff9"/><stop offset="47.13%" stop-color="#58ffa7"/><stop offset="48.04%" stop-color="#8bff74"/><stop offset="48.49%" stop-color="#c1ff3e"/><stop offset="48.72%" stop-color="#f0ff0f"/><stop offset="48.99%" stop-color="#ffc100"/><stop offset="49.40%" stop-color="#ff3300"/><stop offset="49.63%" stop-color="#ef0000"/><stop offset="49.85%" stop-color="#cb0000"/><stop offset="50.08%" stop-color="#ce0000"/><stop offset="50.35%" stop-color="#ff0500"/><stop offset="51.03%" stop-color="#ffe800"/><stop offset="51.21%" stop-color="#e6ff19"/><stop offset="51.44%" stop-color="#b9ff46"/><stop offset="51.89%" stop-color="#84ff7b"/><stop offset="52.80%" stop-color="#54ffab"/><stop offset="54.43%" stop-color="#37ffc8"/><stop offset="61.24%" stop-color="#00fcff"/><stop offset="71.44%" stop-color="#007fff"/><stop offset="86.41%" stop-color="#0001ff"/><stop offset="97.98%" stop-color="#0000cc"/><stop offset="99.34%" stop-color="#0000ca"/></linearGradient><linearGradient id="r119" x1="1504.6" x2="1945.5" y1="0" y2="0" gradientUnits="userSpaceOnUse"><stop offset="0.00%" stop-color="#0000be"/><stop offset="18.37%" stop-color="#0005ff"/><stop offset="30.62%" stop-color="#005fff"/><stop offset="40.15%" stop-color="#00a0ff"/><stop offset="44.91%" stop-color="#07fff8"/><stop offset="48.04%" stop-color="#7aff85"/><stop offset="48.49%" stop-color="#9eff61"/><stop offset="48.72%" stop-color="#bcff43"/><stop offset="48.99%" stop-color="#f4ff0b"/><stop offset="49.17%" stop-color="#ffd800"/><stop offset="49.67%" stop-color="#ff2e00"/><stop offset="49.85%" stop-color="#f70000"/><stop offset="50.08%" stop-color="#cd0000"/><stop offset="50.35%" stop-color="#d00000"/><stop offset="50.53%" stop-color="#f10000"/><stop offset="50.76%" stop-color="#ff3500"/><stop offset="51.21%" stop-color="#ffd100"/><stop offset="51.44%" stop-color="#edff12"/><stop offset="51.71%" stop-color="#b7ff48"/><stop offset="52.12%" stop-color="#86ff79"/><stop offset="53.07%" stop-color="#53ffac"/><stop offset="54.43%" stop-color="#39ffc6"/><stop offset="61.24%" stop-color="#00ffff"/><stop offset="71.44%" stop-color="#0083ff"/><stop offset="87.09%" stop-color="#0002ff"/><stop offset="98.66%" stop-color="#0000cf"/><stop offset="99.34%" stop-color="#0000ce"/></linearGradient><linearGradient id="r120" x1="1504.6" x2="1945.5" y1="0" y2="0" gradientUnits="userSpaceOnUse"><stop offset="0.00%" stop-color="#0000be"/><stop offset="17.69%" stop-color="#0006ff"/><stop offset="30.62%" stop-color="#0061ff"/><stop offset="40.15%" stop-color="#00a2ff"/><stop offset="44.23%" stop-color="#00f1ff"/><stop offset="44.91%" stop-color="#08fff7"/><stop offset="47.63%" stop-color="#72ff8d"/><stop offset="48.31%" stop-color="#a5ff5a"/><stop offset="48.49%" stop-color="#bfff40"/><stop offset="48.72%" stop-color="#edff12"/><stop offset="48.99%" stop-color="#ffc500"/><stop offset="49.40%" stop-color="#ff3800"/><stop offset="49.63%" stop-color="#f30000"/><stop offset="49.85%" stop-color="#cc0000"/><stop offset="50.08%" stop-color="#cc0000"/><stop offset="50.35%" stop-color="#ff0100"/><stop offset="51.03%" stop-color="#ffe400"/><stop offset="51.21%" stop-color="#eaff15"/><stop offset="51.44%" stop-color="#bcff43"/><stop offset="51.89%" stop-color="#86ff79"/><stop offset="52.80%" stop-color="#56ffa9"/><stop offset="54.43%" stop-color="#3affc5"/><stop offset="61.92%" stop-color="#00fbff"/><stop offset="72.13%" stop-color="#0080ff"/><stop offset="87.78%" stop-color="#0002ff"/><stop offset="98.66%" stop-color="#0000d3"/><stop offset="99.34%" stop-color="#0000d3"/></linearGradient><linearGradient id="r121" x1="1504.6" x2="1945.5" y1="0" y2="0" gradientUnits="userSpaceOnUse"><stop offset="0.00%" stop-color="#0000bf"/><stop offset="16.33%" stop-color="#0004ff"/><stop offset="22.45%" stop-color="#002fff"/><stop offset="40.15%" stop-color="#00a3ff"/><stop offset="44.23%" stop-color="#00f1ff"/><stop offset="44.91%" stop-color="#08fff7"/><stop offset="48.06%" stop-color="#7bff84"/><stop offset="48.51%" stop-color="#9fff60"/><stop offset="48.74%" stop-color="#beff41"/><stop offset="48.99%" stop-color="#f0ff0f"/><stop offset="49.19%" stop-color="#ffd600"/><stop offset="49.67%" stop-color="#ff3300"/><stop offset="49.88%" stop-color="#f50000"/><stop offset="50.10%" stop-color="#cd0000"/><stop offset="50.35%" stop-color="#ce0000"/><stop offset="50.56%" stop-color="#f20000"/><stop offset="50.78%" stop-color="#ff3700"/><stop offset="51.24%" stop-color="#ffd300"/><stop offset="51.46%" stop-color="#ecff13"/><stop offset="51.71%" stop-color="#baff45"/><stop offset="52.14%" stop-color="#87ff78"/><stop offset="53.07%" stop-color="#55ffaa"/><stop offset="55.11%" stop-color="#36ffc9"/><stop offset="61.92%" stop-color="#00feff"/><stop offset="72.81%" stop-color="#007dff"/><stop offset="87.78%" stop-color="#0007ff"/><stop offset="97.30%" stop-color="#0000da"/><stop offset="99.34%" stop-color="#0000d7"/></linearGradient><linearGradient id="r122" x1="1504.6" x2="1945.5" y1="0" y2="0" gradientUnits="userSpaceOnUse"><stop offset="0.00%" stop-color="#0000bf"/><stop offset="15.65%" stop-color="#0005ff"/><stop offset="31.30%" stop-color="#006aff"/><stop offset="40.15%" stop-color="#00a4ff"/><stop offset="44.23%" stop-color="#00f2ff"/><stop offset="44.91%" stop-color="#09fff6"/><stop offset="47.83%" stop-color="#7dff82"/><stop offset="48.31%" stop-color="#a4ff5b"/><stop offset="48.51%" stop-color="#c1ff3e"/><stop offset="48.74%" stop-color="#efff10"/><stop offset="48.99%" stop-color="#ffca00"/><stop offset="49.42%" stop-color="#ff3500"/><stop offset="49.67%" stop-color="#ec0000"/><stop offset="49.88%" stop-color="#cb0000"/><stop offset="50.10%" stop-color="#cd0000"/><stop offset="50.35%" stop-color="#fc0000"/><stop offset="50.56%" stop-color="#ff3c00"/><stop offset="51.03%" stop-color="#ffdf00"/><stop offset="51.24%" stop-color="#e9ff16"/><stop offset="51.46%" stop-color="#bcff43"/><stop offset="51.92%" stop-color="#86ff79"/><stop offset="52.82%" stop-color="#58ffa7"/><stop offset="54.43%" stop-color="#3dffc2"/><stop offset="61.92%" stop-color="#02fffd"/><stop offset="72.81%" stop-color="#0080ff"/><stop offset="87.78%" stop-color="#000bff"/><stop offset="91.86%" stop-color="#0000f5"/><stop offset="99.34%" stop-color="#0000db"/></linearGradient><linearGradient id="r123" x1="1504.6" x2="1945.5" y1="0" y2="0" gradientUnits="userSpaceOnUse"><stop offset="0.00%" stop-color="#0000bf"/><stop offset="14.97%" stop-color="#0006ff"/><stop offset="31.30%" stop-color="#006cff"/><stop offset="40.15%" stop-color="#00a6ff"/><stop offset="44.23%" stop-color="#00f2ff"/><stop offset="44.91%" stop-color="#0afff5"/><stop offset="48.06%" stop-color="#7bff84"/><stop offset="48.51%" stop-color="#9eff61"/><stop offset="48.74%" stop-color="#bcff43"/><stop offset="48.99%" stop-color="#edff12"/><stop offset="49.19%" stop-color="#ffda00"/><stop offset="49.67%" stop-color="#ff3800"/><stop offset="49.88%" stop-color="#f90000"/><stop offset="50.10%" stop-color="#ce0000"/><stop offset="50.35%" stop-color="#cc0000"/><stop offset="50.56%" stop-color="#ef0000"/><stop offset="50.78%" stop-color="#ff3200"/><stop offset="51.24%" stop-color="#ffcf00"/><stop offset="51.46%" stop-color="#f0ff0f"/><stop offset="51.71%" stop-color="#bdff42"/><stop offset="52.14%" stop-color="#89ff76"/><stop offset="53.05%" stop-color="#58ffa7"/><stop offset="54.43%" stop-color="#3fffc0"/><stop offset="61.24%" stop-color="#0dfff2"/><stop offset="63.28%" stop-color="#00f3ff"/><stop offset="73.49%" stop-color="#007dff"/><stop offset="88.46%" stop-color="#000cff"/><stop offset="93.22%" stop-color="#0000f3"/><stop offset="99.34%" stop-color="#0000df"/></linearGradient><linearGradient id="r124" x1="1504.6" x2="1945.5" y1="0" y2="0" gradientUnits="userSpaceOnUse"><stop offset="0.00%" stop-color="#0000c0"/><stop offset="14.29%" stop-color="#0006ff"/><stop offset="31.30%" stop-color="#006fff"/><stop offset="40.15%" stop-color="#00a7ff"/><stop offset="44.23%" stop-color="#00f2ff"/><stop offset="44.91%" stop-color="#0bfff4"/><stop offset="47.86%" stop-color="#7eff81"/><stop offset="48.31%" stop-color="#a3ff5c"/><stop offset="48.54%" stop-color="#c3ff3c"/><stop offset="48.76%" stop-color="#f1ff0e"/><stop offset="48.99%" stop-color="#ffce00"/><stop offset="49.44%" stop-color="#ff3300"/><stop offset="49.67%" stop-color="#ef0000"/><stop offset="49.90%" stop-color="#cb0000"/><stop offset="50.12%" stop-color="#ce0000"/><stop offset="50.35%" stop-color="#f80000"/><stop offset="50.58%" stop-color="#ff3f00"/><stop offset="51.03%" stop-color="#ffda00"/><stop offset="51.26%" stop-color="#e7ff18"/><stop offset="51.49%" stop-color="#bbff44"/><stop offset="51.94%" stop-color="#86ff79"/><stop offset="52.85%" stop-color="#59ffa6"/><stop offset="54.43%" stop-color="#3fffc0"/><stop offset="61.24%" stop-color="#10ffef"/><stop offset="63.28%" stop-color="#00f6ff"/><stop offset="73.49%" stop-color="#0080ff"/><stop offset="88.46%" stop-color="#0010ff"/><stop offset="93.90%" stop-color="#0000f4"/><stop offset="99.34%" stop-color="#0000e3"/></linearGradient><linearGradient id="r125" x1="1504.6" x2="1945.5" y1="0" y2="0" gradientUnits="userSpaceOnUse"><stop offset="0.00%" stop-color="#0000c0"/><stop offset="13.61%" stop-color="#0006ff"/><stop offset="29.94%" stop-color="#006bff"/><stop offset="40.15%" stop-color="#00a8ff"/><stop offset="44.23%" stop-color="#00f2ff"/><stop offset="44.91%" stop-color="#0cfff3"/><stop offset="48.08%" stop-color="#7dff82"/><stop offset="48.54%" stop-color="#a0ff5f"/><stop offset="48.76%" stop-color="#beff41"/><stop offset="48.99%" stop-color="#eaff15"/><stop offset="49.22%" stop-color="#ffd800"/><stop offset="49.67%" stop-color="#ff3d00"/><stop offset="49.90%" stop-color="#f70000"/><stop offset="50.12%" stop-color="#cd0000"/><stop offset="50.35%" stop-color="#cb0000"/><stop offset="50.58%" stop-color="#f10000"/><stop offset="50.81%" stop-color="#ff3500"/><stop offset="51.26%" stop-color="#ffd100"/><stop offset="51.49%" stop-color="#efff10"/><stop offset="51.71%" stop-color="#c0ff3f"/><stop offset="52.17%" stop-color="#89ff76"/><stop offset="53.07%" stop-color="#5affa5"/><stop offset="54.43%" stop-color="#42ffbd"/><stop offset="61.24%" stop-color="#14ffeb"/><stop offset="63.28%" stop-color="#00faff"/><stop offset="74.17%" stop-color="#007eff"/><stop offset="87.09%" stop-color="#001cff"/><stop offset="93.90%" stop-color="#0000f9"/><stop offset="99.34%" stop-color="#0000e7"/></linearGradient><linearGradient id="r126" x1="1504.6" x2="1945.5" y1="0" y2="0" gradientUnits="userSpaceOnUse"><stop offset="0.00%" stop-color="#0000c1"/><stop offset="12.93%" stop-color="#0006ff"/><stop offset="28.58%" stop-color="#0067ff"/><stop offset="40.15%" stop-color="#00aaff"/><stop offset="43.55%" stop-color="#00e0ff"/><stop offset="44.23%" stop-color="#00f3ff"/><stop offset="45.59%" stop-color="#26ffd9"/><stop offset="47.86%" stop-color="#7eff81"/><stop offset="48.31%" stop-color="#a2ff5d"/><stop offset="48.54%" stop-color="#c1ff3e"/><stop offset="48.76%" stop-color="#eeff11"/><stop offset="48.99%" stop-color="#ffd300"/><stop offset="49.44%" stop-color="#ff3800"/><stop offset="49.67%" stop-color="#f30000"/><stop offset="49.90%" stop-color="#cc0000"/><stop offset="50.12%" stop-color="#cc0000"/><stop offset="50.35%" stop-color="#f40000"/><stop offset="50.58%" stop-color="#ff3a00"/><stop offset="51.03%" stop-color="#ffd500"/><stop offset="51.26%" stop-color="#ebff14"/><stop offset="51.49%" stop-color="#beff41"/><stop offset="51.94%" stop-color="#89ff76"/><stop offset="52.85%" stop-color="#5bffa4"/><stop offset="54.43%" stop-color="#42ffbd"/><stop offset="61.24%" stop-color="#17ffe8"/><stop offset="63.28%" stop-color="#00feff"/><stop offset="73.49%" stop-color="#0086ff"/><stop offset="86.41%" stop-color="#0024ff"/><stop offset="94.58%" stop-color="#0000fa"/><stop offset="99.34%" stop-color="#0000eb"/></linearGradient><linearGradient id="r127" x1="1504.6" x2="1945.5" y1="0" y2="0" gradientUnits="userSpaceOnUse"><stop offset="0.00%" stop-color="#0000c1"/><stop offset="12.25%" stop-color="#0006ff"/><stop offset="28.58%" stop-color="#006aff"/><stop offset="40.15%" stop-color="#00abff"/><stop offset="44.23%" stop-color="#00f3ff"/><stop offset="44.91%" stop-color="#0dfff2"/><stop offset="47.43%" stop-color="#64ff9b"/><stop offset="48.33%" stop-color="#8dff72"/><stop offset="48.79%" stop-color="#c0ff3f"/><stop offset="49.01%" stop-color="#ecff13"/><stop offset="49.24%" stop-color="#ffd500"/><stop offset="49.69%" stop-color="#ff3a00"/><stop offset="49.92%" stop-color="#f50000"/><stop offset="50.15%" stop-color="#cd0000"/><stop offset="50.37%" stop-color="#cc0000"/><stop offset="50.60%" stop-color="#f20000"/><stop offset="50.83%" stop-color="#ff3700"/><stop offset="51.28%" stop-color="#ffd300"/><stop offset="51.51%" stop-color="#edff12"/><stop offset="51.74%" stop-color="#bfff40"/><stop offset="52.19%" stop-color="#8aff75"/><stop offset="53.10%" stop-color="#5cffa3"/><stop offset="54.43%" stop-color="#44ffbb"/><stop offset="61.24%" stop-color="#1affe5"/><stop offset="63.96%" stop-color="#00f9ff"/><stop offset="74.17%" stop-color="#0084ff"/><stop offset="85.05%" stop-color="#0030ff"/><stop offset="95.26%" stop-color="#0000fc"/><stop offset="99.34%" stop-color="#0000f0"/></linearGradient><linearGradient id="r128" x1="1504.6" x2="1945.5" y1="0" y2="0" gradientUnits="userSpaceOnUse"><stop offset="0.00%" stop-color="#0000c1"/><stop offset="11.57%" stop-color="#0005ff"/><stop offset="27.22%" stop-color="#0067ff"/><stop offset="40.15%" stop-color="#00acff"/><stop offset="43.55%" stop-color="#00e1ff"/><stop offset="44.23%" stop-color="#00f3ff"/><stop offset="44.91%" stop-color="#0efff1"/><stop offset="47.88%" stop-color="#80ff7f"/><stop offset="48.33%" stop-color="#a4ff5b"/><stop offset="48.56%" stop-color="#c3ff3c"/><stop offset="48.79%" stop-color="#f0ff0f"/><stop offset="49.01%" stop-color="#ffd000"/><stop offset="49.47%" stop-color="#ff3500"/><stop offset="49.69%" stop-color="#f10000"/><stop offset="49.92%" stop-color="#cb0000"/><stop offset="50.15%" stop-color="#cd0000"/><stop offset="50.37%" stop-color="#f60000"/><stop offset="50.60%" stop-color="#ff3c00"/><stop offset="51.05%" stop-color="#ffd700"/><stop offset="51.28%" stop-color="#eaff15"/><stop offset="51.51%" stop-color="#bdff42"/><stop offset="51.96%" stop-color="#89ff76"/><stop offset="52.87%" stop-color="#5dffa2"/><stop offset="54.43%" stop-color="#45ffba"/><stop offset="61.24%" stop-color="#1effe1"/><stop offset="63.96%" stop-color="#00fdff"/><stop offset="74.17%" stop-color="#0087ff"/><stop offset="85.05%" stop-color="#0034ff"/><stop offset="96.62%" stop-color="#0000fb"/><stop offset="99.34%" stop-color="#0000f4"/></linearGradient><linearGradient id="r129" x1="1504.6" x2="1945.5" y1="0" y2="0" gradientUnits="userSpaceOnUse"><stop offset="0.00%" stop-color="#0000c2"/><stop offset="10.89%" stop-color="#0004ff"/><stop offset="27.22%" stop-color="#006aff"/><stop offset="39.46%" stop-color="#00a6ff"/><stop offset="43.55%" stop-color="#00e1ff"/><stop offset="44.23%" stop-color="#00f4ff"/><stop offset="45.59%" stop-color="#2affd5"/><stop offset="47.20%" stop-color="#61ff9e"/><stop offset="48.11%" stop-color="#7eff81"/><stop offset="48.56%" stop-color="#a1ff5e"/><stop offset="48.79%" stop-color="#beff41"/><stop offset="49.01%" stop-color="#e9ff16"/><stop offset="49.24%" stop-color="#ffd900"/><stop offset="49.69%" stop-color="#ff4000"/><stop offset="49.92%" stop-color="#f90000"/><stop offset="50.15%" stop-color="#ce0000"/><stop offset="50.37%" stop-color="#ca0000"/><stop offset="50.60%" stop-color="#ef0000"/><stop offset="50.83%" stop-color="#ff3200"/><stop offset="51.28%" stop-color="#ffce00"/><stop offset="51.51%" stop-color="#f1ff0e"/><stop offset="51.74%" stop-color="#c3ff3c"/><stop offset="52.19%" stop-color="#8cff73"/><stop offset="53.10%" stop-color="#5effa1"/><stop offset="54.43%" stop-color="#47ffb8"/><stop offset="61.24%" stop-color="#21ffde"/><stop offset="64.64%" stop-color="#00f8ff"/><stop offset="74.17%" stop-color="#008aff"/><stop offset="81.65%" stop-color="#004eff"/><stop offset="95.94%" stop-color="#0003ff"/><stop offset="99.34%" stop-color="#0000f8"/></linearGradient><linearGradient id="r130" x1="1504.6" x2="1945.5" y1="0" y2="0" gradientUnits="userSpaceOnUse"><stop offset="0.00%" stop-color="#0000c2"/><stop offset="10.89%" stop-color="#0006ff"/><stop offset="27.22%" stop-color="#006cff"/><stop offset="39.46%" stop-color="#00a7ff"/><stop offset="43.55%" stop-color="#00e1ff"/><stop offset="44.23%" stop-color="#00f4ff"/><stop offset="44.91%" stop-color="#0ffff0"/><stop offset="47.22%" stop-color="#67ff98"/><stop offset="48.13%" stop-color="#90ff6f"/><stop offset="48.58%" stop-color="#c4ff3b"/><stop offset="48.81%" stop-color="#f2ff0d"/><stop offset="49.04%" stop-color="#ffce00"/><stop offset="49.49%" stop-color="#ff3300"/><stop offset="49.67%" stop-color="#fb0000"/><stop offset="49.94%" stop-color="#cb0000"/><stop offset="50.17%" stop-color="#ce0000"/><stop offset="50.40%" stop-color="#f80000"/><stop offset="50.62%" stop-color="#ff3f00"/><stop offset="51.08%" stop-color="#ffd900"/><stop offset="51.30%" stop-color="#e9ff16"/><stop offset="51.71%" stop-color="#a4ff5b"/><stop offset="52.21%" stop-color="#7aff85"/><stop offset="53.35%" stop-color="#53ffac"/><stop offset="59.20%" stop-color="#32ffcd"/><stop offset="64.64%" stop-color="#00faff"/><stop offset="74.17%" stop-color="#008cff"/><stop offset="82.33%" stop-color="#0049ff"/><stop offset="97.30%" stop-color="#0000ff"/><stop offset="99.34%" stop-color="#0000fa"/></linearGradient><linearGradient id="r131" x1="1504.6" x2="1945.5" y1="0" y2="0" gradientUnits="userSpaceOnUse"><stop offset="0.00%" stop-color="#0000c2"/><stop offset="10.89%" stop-color="#0006ff"/><stop offset="27.22%" stop-color="#006cff"/><stop offset="39.46%" stop-color="#00a7ff"/><stop offset="43.55%" stop-color="#00e1ff"/><stop offset="44.23%" stop-color="#00f4ff"/><stop offset="45.59%" stop-color="#2affd5"/><stop offset="47.22%" stop-color="#61ff9e"/><stop offset="48.13%" stop-color="#7fff80"/><stop offset="48.58%" stop-color="#a2ff5d"/><stop offset="48.81%" stop-color="#bfff40"/><stop offset="49.04%" stop-color="#ebff14"/><stop offset="49.26%" stop-color="#ffd700"/><stop offset="49.72%" stop-color="#ff3d00"/><stop offset="49.94%" stop-color="#f70000"/><stop offset="50.17%" stop-color="#cd0000"/><stop offset="50.40%" stop-color="#cb0000"/><stop offset="50.62%" stop-color="#f10000"/><stop offset="50.85%" stop-color="#ff3400"/><stop offset="51.30%" stop-color="#ffd000"/><stop offset="51.53%" stop-color="#f0ff0f"/><stop offset="51.76%" stop-color="#c2ff3d"/><stop offset="52.21%" stop-color="#8bff74"/><stop offset="53.12%" stop-color="#5effa1"/><stop offset="55.11%" stop-color="#44ffbb"/><stop offset="61.24%" stop-color="#22ffdd"/><stop offset="64.64%" stop-color="#00faff"/><stop offset="74.17%" stop-color="#008cff"/><stop offset="82.33%" stop-color="#0049ff"/><stop offset="97.30%" stop-color="#0000ff"/><stop offset="99.34%" stop-color="#0000fa"/></linearGradient><linearGradient id="r132" x1="1504.6" x2="1945.5" y1="0" y2="0" gradientUnits="userSpaceOnUse"><stop offset="0.00%" stop-color="#0000c2"/><stop offset="10.89%" stop-color="#0006ff"/><stop offset="27.22%" stop-color="#006cff"/><stop offset="39.46%" stop-color="#00a7ff"/><stop offset="43.55%" stop-color="#00e1ff"/><stop offset="44.23%" stop-color="#00f4ff"/><stop offset="44.91%" stop-color="#0ffff0"/><stop offset="47.22%" stop-color="#67ff98"/><stop offset="48.13%" stop-color="#8fff70"/><stop offset="48.58%" stop-color="#c2ff3d"/><stop offset="48.81%" stop-color="#eeff11"/><stop offset="49.04%" stop-color="#ffd300"/><stop offset="49.67%" stop-color="#ff0000"/><stop offset="49.94%" stop-color="#cc0000"/><stop offset="50.17%" stop-color="#cc0000"/><stop offset="50.40%" stop-color="#f40000"/><stop offset="50.62%" stop-color="#ff3a00"/><stop offset="51.08%" stop-color="#ffd500"/><stop offset="51.30%" stop-color="#ecff13"/><stop offset="51.71%" stop-color="#a5ff5a"/><stop offset="52.21%" stop-color="#7bff84"/><stop offset="53.35%" stop-color="#53ffac"/><stop offset="59.20%" stop-color="#32ffcd"/><stop offset="64.64%" stop-color="#00faff"/><stop offset="74.17%" stop-color="#008cff"/><stop offset="82.33%" stop-color="#0049ff"/><stop offset="97.30%" stop-color="#0000ff"/><stop offset="99.34%" stop-color="#0000fa"/></linearGradient><linearGradient id="r133" x1="1504.6" x2="1945.5" y1="0" y2="0" gradientUnits="userSpaceOnUse"><stop offset="0.00%" stop-color="#0000c2"/><stop offset="10.89%" stop-color="#0006ff"/><stop offset="27.22%" stop-color="#006cff"/><stop offset="39.46%" stop-color="#00a7ff"/><stop offset="43.55%" stop-color="#00e1ff"/><stop offset="44.23%" stop-color="#00f4ff"/><stop offset="45.59%" stop-color="#2affd5"/><stop offset="47.24%" stop-color="#61ff9e"/><stop offset="48.15%" stop-color="#7fff80"/><stop offset="48.61%" stop-color="#a2ff5d"/><stop offset="48.99%" stop-color="#deff21"/><stop offset="49.06%" stop-color="#edff12"/><stop offset="49.29%" stop-color="#ffd500"/><stop offset="49.74%" stop-color="#ff3a00"/><stop offset="49.97%" stop-color="#f50000"/><stop offset="50.19%" stop-color="#cd0000"/><stop offset="50.42%" stop-color="#cc0000"/><stop offset="50.65%" stop-color="#f20000"/><stop offset="50.87%" stop-color="#ff3700"/><stop offset="51.33%" stop-color="#ffd200"/><stop offset="51.55%" stop-color="#eeff11"/><stop offset="51.78%" stop-color="#c0ff3f"/><stop offset="52.23%" stop-color="#8bff74"/><stop offset="53.14%" stop-color="#5effa1"/><stop offset="55.11%" stop-color="#44ffbb"/><stop offset="61.24%" stop-color="#22ffdd"/><stop offset="64.64%" stop-color="#00faff"/><stop offset="74.17%" stop-color="#008cff"/><stop offset="82.33%" stop-color="#0049ff"/><stop offset="97.30%" stop-color="#0000ff"/><stop offset="99.34%" stop-color="#0000fa"/></linearGradient><linearGradient id="r134" x1="1504.6" x2="1945.5" y1="0" y2="0" gradientUnits="userSpaceOnUse"><stop offset="0.00%" stop-color="#0000c2"/><stop offset="10.89%" stop-color="#0006ff"/><stop offset="27.22%" stop-color="#006cff"/><stop offset="39.46%" stop-color="#00a7ff"/><stop offset="43.55%" stop-color="#00e1ff"/><stop offset="44.23%" stop-color="#00f4ff"/><stop offset="44.91%" stop-color="#0ffff0"/><stop offset="47.24%" stop-color="#67ff98"/><stop offset="48.15%" stop-color="#8fff70"/><stop offset="48.61%" stop-color="#c3ff3c"/><stop offset="48.83%" stop-color="#f0ff0f"/><stop offset="49.06%" stop-color="#ffd000"/><stop offset="49.67%" stop-color="#ff0400"/><stop offset="49.97%" stop-color="#cb0000"/><stop offset="50.19%" stop-color="#cd0000"/><stop offset="50.42%" stop-color="#f60000"/><stop offset="50.65%" stop-color="#ff3c00"/><stop offset="51.10%" stop-color="#ffd700"/><stop offset="51.33%" stop-color="#eaff15"/><stop offset="51.71%" stop-color="#a7ff58"/><stop offset="52.23%" stop-color="#7aff85"/><stop offset="53.37%" stop-color="#53ffac"/><stop offset="59.20%" stop-color="#32ffcd"/><stop offset="64.64%" stop-color="#00faff"/><stop offset="74.17%" stop-color="#008cff"/><stop offset="82.33%" stop-color="#0049ff"/><stop offset="97.30%" stop-color="#0000ff"/><stop offset="99.34%" stop-color="#0000fa"/></linearGradient><linearGradient id="r135" x1="1504.6" x2="1945.5" y1="0" y2="0" gradientUnits="userSpaceOnUse"><stop offset="0.00%" stop-color="#0000c2"/><stop offset="10.89%" stop-color="#0006ff"/><stop offset="27.22%" stop-color="#006cff"/><stop offset="39.46%" stop-color="#00a7ff"/><stop offset="43.55%" stop-color="#00e1ff"/><stop offset="44.23%" stop-color="#00f4ff"/><stop offset="45.59%" stop-color="#2affd5"/><stop offset="47.24%" stop-color="#61ff9e"/><stop offset="48.31%" stop-color="#88ff77"/><stop offset="48.83%" stop-color="#beff41"/><stop offset="49.06%" stop-color="#e9ff16"/><stop offset="49.29%" stop-color="#ffd900"/><stop offset="49.74%" stop-color="#ff4000"/><stop offset="49.97%" stop-color="#f90000"/><stop offset="50.19%" stop-color="#ce0000"/><stop offset="50.42%" stop-color="#ca0000"/><stop offset="50.65%" stop-color="#ef0000"/><stop offset="50.87%" stop-color="#ff3200"/><stop offset="51.33%" stop-color="#ffce00"/><stop offset="51.55%" stop-color="#f1ff0e"/><stop offset="51.78%" stop-color="#c3ff3c"/><stop offset="52.23%" stop-color="#8cff73"/><stop offset="53.14%" stop-color="#5effa1"/><stop offset="55.11%" stop-color="#44ffbb"/><stop offset="61.24%" stop-color="#22ffdd"/><stop offset="64.64%" stop-color="#00faff"/><stop offset="74.17%" stop-color="#008cff"/><stop offset="82.33%" stop-color="#0049ff"/><stop offset="97.30%" stop-color="#0000ff"/><stop offset="99.34%" stop-color="#0000fa"/></linearGradient><linearGradient id="r136" x1="1504.6" x2="1945.5" y1="0" y2="0" gradientUnits="userSpaceOnUse"><stop offset="0.00%" stop-color="#0000c2"/><stop offset="10.89%" stop-color="#0006ff"/><stop offset="27.22%" stop-color="#006cff"/><stop offset="39.46%" stop-color="#00a7ff"/><stop offset="43.55%" stop-color="#00e1ff"/><stop offset="44.23%" stop-color="#00f4ff"/><stop offset="44.91%" stop-color="#0ffff0"/><stop offset="47.04%" stop-color="#62ff9d"/><stop offset="47.95%" stop-color="#81ff7e"/><stop offset="48.40%" stop-color="#a5ff5a"/><stop offset="48.63%" stop-color="#c4ff3b"/><stop offset="48.85%" stop-color="#f2ff0d"/><stop offset="48.99%" stop-color="#ffe900"/><stop offset="49.67%" stop-color="#ff0800"/><stop offset="49.99%" stop-color="#cb0000"/><stop offset="50.22%" stop-color="#ce0000"/><stop offset="50.44%" stop-color="#f80000"/><stop offset="50.67%" stop-color="#ff3f00"/><stop offset="51.12%" stop-color="#ffd900"/><stop offset="51.35%" stop-color="#e9ff16"/><stop offset="51.71%" stop-color="#a9ff56"/><stop offset="52.26%" stop-color="#7aff85"/><stop offset="53.39%" stop-color="#53ffac"/><stop offset="58.52%" stop-color="#35ffca"/><stop offset="62.60%" stop-color="#13ffec"/><stop offset="64.64%" stop-color="#00faff"/><stop offset="74.17%" stop-color="#008cff"/><stop offset="82.33%" stop-color="#0049ff"/><stop offset="97.30%" stop-color="#0000ff"/><stop offset="99.34%" stop-color="#0000fa"/></linearGradient><linearGradient id="r137" x1="1504.6" x2="1945.5" y1="0" y2="0" gradientUnits="userSpaceOnUse"><stop offset="0.00%" stop-color="#0000c2"/><stop offset="10.89%" stop-color="#0006ff"/><stop offset="27.22%" stop-color="#006cff"/><stop offset="39.46%" stop-color="#00a7ff"/><stop offset="43.55%" stop-color="#00e1ff"/><stop offset="44.23%" stop-color="#00f4ff"/><stop offset="45.59%" stop-color="#2affd5"/><stop offset="47.04%" stop-color="#5effa1"/><stop offset="47.95%" stop-color="#74ff8b"/><stop offset="48.63%" stop-color="#a2ff5d"/><stop offset="48.99%" stop-color="#d8ff27"/><stop offset="49.08%" stop-color="#ebff14"/><stop offset="49.31%" stop-color="#ffd700"/><stop offset="49.76%" stop-color="#ff3d00"/><stop offset="49.99%" stop-color="#f70000"/><stop offset="50.22%" stop-color="#cd0000"/><stop offset="50.44%" stop-color="#cb0000"/><stop offset="50.67%" stop-color="#f10000"/><stop offset="50.90%" stop-color="#ff3500"/><stop offset="51.35%" stop-color="#ffd000"/><stop offset="51.58%" stop-color="#f0ff0f"/><stop offset="51.80%" stop-color="#c1ff3e"/><stop offset="52.26%" stop-color="#8bff74"/><stop offset="53.16%" stop-color="#5effa1"/><stop offset="54.43%" stop-color="#48ffb7"/><stop offset="61.24%" stop-color="#22ffdd"/><stop offset="64.64%" stop-color="#00faff"/><stop offset="74.17%" stop-color="#008cff"/><stop offset="82.33%" stop-color="#0049ff"/><stop offset="97.30%" stop-color="#0000ff"/><stop offset="99.34%" stop-color="#0000fa"/></linearGradient><linearGradient id="r138" x1="1504.6" x2="1945.5" y1="0" y2="0" gradientUnits="userSpaceOnUse"><stop offset="0.00%" stop-color="#0000c2"/><stop offset="10.89%" stop-color="#0006ff"/><stop offset="27.22%" stop-color="#006cff"/><stop offset="39.46%" stop-color="#00a7ff"/><stop offset="43.55%" stop-color="#00e1ff"/><stop offset="44.23%" stop-color="#00f4ff"/><stop offset="44.91%" stop-color="#0ffff0"/><stop offset="47.04%" stop-color="#62ff9d"/><stop offset="47.95%" stop-color="#80ff7f"/><stop offset="48.40%" stop-color="#a3ff5c"/><stop offset="48.63%" stop-color="#c2ff3d"/><stop offset="48.85%" stop-color="#eeff11"/><stop offset="48.99%" stop-color="#ffed00"/><stop offset="49.67%" stop-color="#ff0d00"/><stop offset="49.76%" stop-color="#f30000"/><stop offset="49.99%" stop-color="#cc0000"/><stop offset="50.22%" stop-color="#cc0000"/><stop offset="50.44%" stop-color="#f40000"/><stop offset="50.67%" stop-color="#ff3a00"/><stop offset="51.12%" stop-color="#ffd500"/><stop offset="51.35%" stop-color="#ecff13"/><stop offset="51.71%" stop-color="#abff54"/><stop offset="52.26%" stop-color="#7bff84"/><stop offset="53.39%" stop-color="#53ffac"/><stop offset="58.52%" stop-color="#35ffca"/><stop offset="62.60%" stop-color="#13ffec"/><stop offset="64.64%" stop-color="#00faff"/><stop offset="74.17%" stop-color="#008cff"/><stop offset="82.33%" stop-color="#0049ff"/><stop offset="97.30%" stop-color="#0000ff"/><stop offset="99.34%" stop-color="#0000fa"/></linearGradient><linearGradient id="r139" x1="1504.6" x2="1945.5" y1="0" y2="0" gradientUnits="userSpaceOnUse"><stop offset="0.00%" stop-color="#0000c2"/><stop offset="10.89%" stop-color="#0006ff"/><stop offset="27.22%" stop-color="#006cff"/><stop offset="39.46%" stop-color="#00a7ff"/><stop offset="43.55%" stop-color="#00e1ff"/><stop offset="44.23%" stop-color="#00f4ff"/><stop offset="45.59%" stop-color="#2affd5"/><stop offset="47.06%" stop-color="#5effa1"/><stop offset="48.20%" stop-color="#7fff80"/><stop offset="48.65%" stop-color="#a2ff5d"/><stop offset="48.99%" stop-color="#d5ff2a"/><stop offset="49.10%" stop-color="#edff12"/><stop offset="49.33%" stop-color="#ffd500"/><stop offset="49.78%" stop-color="#ff3a00"/><stop offset="50.01%" stop-color="#f50000"/><stop offset="50.24%" stop-color="#cd0000"/><stop offset="50.46%" stop-color="#cc0000"/><stop offset="50.69%" stop-color="#f20000"/><stop offset="50.92%" stop-color="#ff3700"/><stop offset="51.37%" stop-color="#ffd200"/><stop offset="51.60%" stop-color="#eeff11"/><stop offset="51.83%" stop-color="#c0ff3f"/><stop offset="52.28%" stop-color="#8bff74"/><stop offset="53.19%" stop-color="#5effa1"/><stop offset="54.43%" stop-color="#48ffb7"/><stop offset="61.24%" stop-color="#22ffdd"/><stop offset="64.64%" stop-color="#00faff"/><stop offset="74.17%" stop-color="#008cff"/><stop offset="82.33%" stop-color="#0049ff"/><stop offset="97.30%" stop-color="#0000ff"/><stop offset="99.34%" stop-color="#0000fa"/></linearGradient><linearGradient id="r140" x1="1504.6" x2="1945.5" y1="0" y2="0" gradientUnits="userSpaceOnUse"><stop offset="0.00%" stop-color="#0000c2"/><stop offset="10.89%" stop-color="#0006ff"/><stop offset="27.22%" stop-color="#006cff"/><stop offset="39.46%" stop-color="#00a7ff"/><stop offset="43.55%" stop-color="#00e1ff"/><stop offset="44.23%" stop-color="#00f4ff"/><stop offset="44.91%" stop-color="#0ffff0"/><stop offset="47.29%" stop-color="#67ff98"/><stop offset="48.20%" stop-color="#8fff70"/><stop offset="48.65%" stop-color="#c3ff3c"/><stop offset="48.88%" stop-color="#f0ff0f"/><stop offset="48.99%" stop-color="#fff100"/><stop offset="49.67%" stop-color="#ff1100"/><stop offset="49.78%" stop-color="#f10000"/><stop offset="50.01%" stop-color="#cb0000"/><stop offset="50.24%" stop-color="#cd0000"/><stop offset="50.46%" stop-color="#f60000"/><stop offset="50.69%" stop-color="#ff3c00"/><stop offset="51.15%" stop-color="#ffd700"/><stop offset="51.37%" stop-color="#eaff15"/><stop offset="51.71%" stop-color="#adff52"/><stop offset="52.28%" stop-color="#7aff85"/><stop offset="53.41%" stop-color="#53ffac"/><stop offset="58.52%" stop-color="#35ffca"/><stop offset="62.60%" stop-color="#13ffec"/><stop offset="64.64%" stop-color="#00faff"/><stop offset="74.17%" stop-color="#008cff"/><stop offset="82.33%" stop-color="#0049ff"/><stop offset="97.30%" stop-color="#0000ff"/><stop offset="99.34%" stop-color="#0000fa"/></linearGradient><linearGradient id="r141" x1="1504.6" x2="1945.5" y1="0" y2="0" gradientUnits="userSpaceOnUse"><stop offset="0.00%" stop-color="#0000c2"/><stop offset="10.89%" stop-color="#0006ff"/><stop offset="27.22%" stop-color="#006cff"/><stop offset="39.46%" stop-color="#00a7ff"/><stop offset="43.55%" stop-color="#00e1ff"/><stop offset="44.23%" stop-color="#00f4ff"/><stop offset="45.59%" stop-color="#2affd5"/><stop offset="47.29%" stop-color="#61ff9e"/><stop offset="48.31%" stop-color="#85ff7a"/><stop offset="48.65%" stop-color="#a1ff5e"/><stop offset="48.99%" stop-color="#d2ff2d"/><stop offset="49.10%" stop-color="#e9ff16"/><stop offset="49.33%" stop-color="#ffd900"/><stop offset="49.78%" stop-color="#ff4000"/><stop offset="50.01%" stop-color="#f90000"/><stop offset="50.24%" stop-color="#ce0000"/><stop offset="50.46%" stop-color="#ca0000"/><stop offset="50.69%" stop-color="#ef0000"/><stop offset="50.92%" stop-color="#ff3200"/><stop offset="51.37%" stop-color="#ffce00"/><stop offset="51.60%" stop-color="#f1ff0e"/><stop offset="51.83%" stop-color="#c3ff3c"/><stop offset="52.28%" stop-color="#8cff73"/><stop offset="53.19%" stop-color="#5effa1"/><stop offset="54.43%" stop-color="#48ffb7"/><stop offset="61.24%" stop-color="#22ffdd"/><stop offset="64.64%" stop-color="#00faff"/><stop offset="74.17%" stop-color="#008cff"/><stop offset="82.33%" stop-color="#0049ff"/><stop offset="97.30%" stop-color="#0000ff"/><stop offset="99.34%" stop-color="#0000fa"/></linearGradient><linearGradient id="r142" x1="1504.6" x2="1945.5" y1="0" y2="0" gradientUnits="userSpaceOnUse"><stop offset="0.00%" stop-color="#0000c2"/><stop offset="10.89%" stop-color="#0006ff"/><stop offset="27.22%" stop-color="#006cff"/><stop offset="39.46%" stop-color="#00a7ff"/><stop offset="43.55%" stop-color="#00e1ff"/><stop offset="44.23%" stop-color="#00f4ff"/><stop offset="44.91%" stop-color="#0ffff0"/><stop offset="47.09%" stop-color="#62ff9d"/><stop offset="47.99%" stop-color="#81ff7e"/><stop offset="48.45%" stop-color="#a5ff5a"/><stop offset="48.67%" stop-color="#c4ff3b"/><stop offset="48.90%" stop-color="#f2ff0d"/><stop offset="48.99%" stop-color="#fff500"/><stop offset="49.67%" stop-color="#ff1600"/><stop offset="49.81%" stop-color="#ef0000"/><stop offset="50.03%" stop-color="#cb0000"/><stop offset="50.26%" stop-color="#ce0000"/><stop offset="50.49%" stop-color="#f80000"/><stop offset="50.71%" stop-color="#ff3f00"/><stop offset="51.17%" stop-color="#ffd900"/><stop offset="51.39%" stop-color="#e9ff16"/><stop offset="51.71%" stop-color="#afff50"/><stop offset="52.30%" stop-color="#7aff85"/><stop offset="53.44%" stop-color="#53ffac"/><stop offset="57.84%" stop-color="#38ffc7"/><stop offset="61.92%" stop-color="#1bffe4"/><stop offset="64.64%" stop-color="#00faff"/><stop offset="74.17%" stop-color="#008cff"/><stop offset="82.33%" stop-color="#0049ff"/><stop offset="97.30%" stop-color="#0000ff"/><stop offset="99.34%" stop-color="#0000fa"/></linearGradient><linearGradient id="r143" x1="1504.6" x2="1945.5" y1="0" y2="0" gradientUnits="userSpaceOnUse"><stop offset="0.00%" stop-color="#0000c2"/><stop offset="10.89%" stop-color="#0006ff"/><stop offset="27.22%" stop-color="#006cff"/><stop offset="39.46%" stop-color="#00a7ff"/><stop offset="43.55%" stop-color="#00e1ff"/><stop offset="44.23%" stop-color="#00f4ff"/><stop offset="45.59%" stop-color="#2affd5"/><stop offset="47.09%" stop-color="#5effa1"/><stop offset="48.22%" stop-color="#7fff80"/><stop offset="48.67%" stop-color="#a2ff5d"/><stop offset="48.99%" stop-color="#cfff30"/><stop offset="49.13%" stop-color="#ebff14"/><stop offset="49.35%" stop-color="#ffd700"/><stop offset="49.81%" stop-color="#ff3d00"/><stop offset="50.03%" stop-color="#f70000"/><stop offset="50.26%" stop-color="#cd0000"/><stop offset="50.49%" stop-color="#cb0000"/><stop offset="50.71%" stop-color="#f10000"/><stop offset="50.94%" stop-color="#ff3500"/><stop offset="51.39%" stop-color="#ffd000"/><stop offset="51.62%" stop-color="#f0ff0f"/><stop offset="51.85%" stop-color="#c1ff3e"/><stop offset="52.30%" stop-color="#8bff74"/><stop offset="53.21%" stop-color="#5effa1"/><stop offset="55.11%" stop-color="#44ffbb"/><stop offset="61.24%" stop-color="#22ffdd"/><stop offset="64.64%" stop-color="#00faff"/><stop offset="74.17%" stop-color="#008cff"/><stop offset="82.33%" stop-color="#0049ff"/><stop offset="97.30%" stop-color="#0000ff"/><stop offset="99.34%" stop-color="#0000fa"/></linearGradient><linearGradient id="r144" x1="1504.6" x2="1945.5" y1="0" y2="0" gradientUnits="userSpaceOnUse"><stop offset="0.00%" stop-color="#0000c2"/><stop offset="10.89%" stop-color="#0006ff"/><stop offset="27.22%" stop-color="#006cff"/><stop offset="39.46%" stop-color="#00a7ff"/><stop offset="43.55%" stop-color="#00e1ff"/><stop offset="44.23%" stop-color="#00f4ff"/><stop offset="44.91%" stop-color="#0ffff0"/><stop offset="47.09%" stop-color="#62ff9d"/><stop offset="47.99%" stop-color="#80ff7f"/><stop offset="48.45%" stop-color="#a3ff5c"/><stop offset="48.67%" stop-color="#c2ff3d"/><stop offset="48.99%" stop-color="#fff900"/><stop offset="49.35%" stop-color="#ff8700"/><stop offset="49.67%" stop-color="#ff1a00"/><stop offset="49.81%" stop-color="#f30000"/><stop offset="50.03%" stop-color="#cc0000"/><stop offset="50.26%" stop-color="#cc0000"/><stop offset="50.49%" stop-color="#f40000"/><stop offset="50.71%" stop-color="#ff3a00"/><stop offset="51.17%" stop-color="#ffd500"/><stop offset="51.39%" stop-color="#ecff13"/><stop offset="51.71%" stop-color="#b1ff4e"/><stop offset="52.30%" stop-color="#7bff84"/><stop offset="53.44%" stop-color="#53ffac"/><stop offset="61.24%" stop-color="#22ffdd"/><stop offset="64.64%" stop-color="#00faff"/><stop offset="74.17%" stop-color="#008cff"/><stop offset="82.33%" stop-color="#0049ff"/><stop offset="97.30%" stop-color="#0000ff"/><stop offset="99.34%" stop-color="#0000fa"/></linearGradient><linearGradient id="r145" x1="1504.6" x2="1945.5" y1="0" y2="0" gradientUnits="userSpaceOnUse"><stop offset="0.00%" stop-color="#0000c2"/><stop offset="10.89%" stop-color="#0006ff"/><stop offset="27.22%" stop-color="#006cff"/><stop offset="39.46%" stop-color="#00a7ff"/><stop offset="43.55%" stop-color="#00e1ff"/><stop offset="44.23%" stop-color="#00f4ff"/><stop offset="45.59%" stop-color="#2affd5"/><stop offset="47.11%" stop-color="#5effa1"/><stop offset="48.24%" stop-color="#7fff80"/><stop offset="48.70%" stop-color="#a2ff5d"/><stop offset="48.99%" stop-color="#ccff33"/><stop offset="49.15%" stop-color="#edff12"/><stop offset="49.38%" stop-color="#ffd500"/><stop offset="49.83%" stop-color="#ff3a00"/><stop offset="50.06%" stop-color="#f50000"/><stop offset="50.35%" stop-color="#c80000"/><stop offset="50.51%" stop-color="#cc0000"/><stop offset="50.74%" stop-color="#f20000"/><stop offset="51.03%" stop-color="#ff4e00"/><stop offset="51.42%" stop-color="#ffd200"/><stop offset="51.64%" stop-color="#eeff11"/><stop offset="51.87%" stop-color="#c0ff3f"/><stop offset="52.39%" stop-color="#85ff7a"/><stop offset="53.46%" stop-color="#57ffa8"/><stop offset="55.79%" stop-color="#41ffbe"/><stop offset="61.24%" stop-color="#22ffdd"/><stop offset="64.64%" stop-color="#00faff"/><stop offset="74.17%" stop-color="#008cff"/><stop offset="82.33%" stop-color="#0049ff"/><stop offset="97.30%" stop-color="#0000ff"/><stop offset="99.34%" stop-color="#0000fa"/></linearGradient><linearGradient id="r146" x1="1504.6" x2="1945.5" y1="0" y2="0" gradientUnits="userSpaceOnUse"><stop offset="0.00%" stop-color="#0000c2"/><stop offset="10.89%" stop-color="#0006ff"/><stop offset="27.22%" stop-color="#006cff"/><stop offset="39.46%" stop-color="#00a7ff"/><stop offset="43.55%" stop-color="#00e1ff"/><stop offset="44.23%" stop-color="#00f4ff"/><stop offset="44.91%" stop-color="#0ffff0"/><stop offset="47.11%" stop-color="#62ff9d"/><stop offset="48.02%" stop-color="#80ff7f"/><stop offset="48.47%" stop-color="#a4ff5b"/><stop offset="48.70%" stop-color="#c3ff3c"/><stop offset="48.99%" stop-color="#fffd00"/><stop offset="49.38%" stop-color="#ff8500"/><stop offset="49.67%" stop-color="#ff1f00"/><stop offset="49.83%" stop-color="#f10000"/><stop offset="50.06%" stop-color="#cb0000"/><stop offset="50.28%" stop-color="#cd0000"/><stop offset="50.51%" stop-color="#f60000"/><stop offset="50.74%" stop-color="#ff3c00"/><stop offset="51.19%" stop-color="#ffd700"/><stop offset="51.42%" stop-color="#eaff15"/><stop offset="51.71%" stop-color="#b3ff4c"/><stop offset="52.32%" stop-color="#7aff85"/><stop offset="53.46%" stop-color="#53ffac"/><stop offset="61.24%" stop-color="#22ffdd"/><stop offset="64.64%" stop-color="#00faff"/><stop offset="74.17%" stop-color="#008cff"/><stop offset="82.33%" stop-color="#0049ff"/><stop offset="97.30%" stop-color="#0000ff"/><stop offset="99.34%" stop-color="#0000fa"/></linearGradient><linearGradient id="r147" x1="1504.6" x2="1945.5" y1="0" y2="0" gradientUnits="userSpaceOnUse"><stop offset="0.00%" stop-color="#0000c2"/><stop offset="10.89%" stop-color="#0006ff"/><stop offset="27.22%" stop-color="#006cff"/><stop offset="39.46%" stop-color="#00a7ff"/><stop offset="43.55%" stop-color="#00e1ff"/><stop offset="44.23%" stop-color="#00f4ff"/><stop offset="45.59%" stop-color="#2affd5"/><stop offset="47.11%" stop-color="#5effa1"/><stop offset="48.24%" stop-color="#7eff81"/><stop offset="48.70%" stop-color="#a1ff5e"/><stop offset="48.99%" stop-color="#c9ff36"/><stop offset="49.15%" stop-color="#e9ff16"/><stop offset="49.38%" stop-color="#ffd900"/><stop offset="49.83%" stop-color="#ff4000"/><stop offset="50.06%" stop-color="#f90000"/><stop offset="50.28%" stop-color="#ce0000"/><stop offset="50.51%" stop-color="#ca0000"/><stop offset="50.74%" stop-color="#ef0000"/><stop offset="50.96%" stop-color="#ff3200"/><stop offset="51.42%" stop-color="#ffce00"/><stop offset="51.64%" stop-color="#f1ff0e"/><stop offset="51.87%" stop-color="#c3ff3c"/><stop offset="52.32%" stop-color="#8cff73"/><stop offset="53.23%" stop-color="#5effa1"/><stop offset="55.11%" stop-color="#44ffbb"/><stop offset="61.24%" stop-color="#22ffdd"/><stop offset="64.64%" stop-color="#00faff"/><stop offset="74.17%" stop-color="#008cff"/><stop offset="82.33%" stop-color="#0049ff"/><stop offset="97.30%" stop-color="#0000ff"/><stop offset="99.34%" stop-color="#0000fa"/></linearGradient><linearGradient id="r148" x1="1504.6" x2="1945.5" y1="0" y2="0" gradientUnits="userSpaceOnUse"><stop offset="0.00%" stop-color="#0000c2"/><stop offset="10.89%" stop-color="#0006ff"/><stop offset="27.22%" stop-color="#006cff"/><stop offset="39.46%" stop-color="#00a7ff"/><stop offset="43.55%" stop-color="#00e1ff"/><stop offset="44.23%" stop-color="#00f4ff"/><stop offset="44.91%" stop-color="#0ffff0"/><stop offset="47.13%" stop-color="#62ff9d"/><stop offset="48.04%" stop-color="#81ff7e"/><stop offset="48.49%" stop-color="#a5ff5a"/><stop offset="48.72%" stop-color="#c4ff3b"/><stop offset="48.99%" stop-color="#fdff02"/><stop offset="49.17%" stop-color="#ffce00"/><stop offset="49.67%" stop-color="#ff2400"/><stop offset="49.85%" stop-color="#ef0000"/><stop offset="50.08%" stop-color="#cb0000"/><stop offset="50.35%" stop-color="#d30000"/><stop offset="50.53%" stop-color="#f80000"/><stop offset="50.76%" stop-color="#ff3f00"/><stop offset="51.21%" stop-color="#ffd900"/><stop offset="51.44%" stop-color="#e9ff16"/><stop offset="51.71%" stop-color="#b6ff49"/><stop offset="52.12%" stop-color="#89ff76"/><stop offset="53.07%" stop-color="#5cffa3"/><stop offset="55.11%" stop-color="#44ffbb"/><stop offset="61.24%" stop-color="#22ffdd"/><stop offset="64.64%" stop-color="#00faff"/><stop offset="74.17%" stop-color="#008cff"/><stop offset="82.33%" stop-color="#0049ff"/><stop offset="97.30%" stop-color="#0000ff"/><stop offset="99.34%" stop-color="#0000fa"/></linearGradient><linearGradient id="r149" x1="1504.6" x2="1945.5" y1="0" y2="0" gradientUnits="userSpaceOnUse"><stop offset="0.00%" stop-color="#0000c2"/><stop offset="10.89%" stop-color="#0006ff"/><stop offset="27.22%" stop-color="#006cff"/><stop offset="39.46%" stop-color="#00a7ff"/><stop offset="43.55%" stop-color="#00e1ff"/><stop offset="44.23%" stop-color="#00f4ff"/><stop offset="45.59%" stop-color="#2affd5"/><stop offset="47.13%" stop-color="#5effa1"/><stop offset="48.26%" stop-color="#7fff80"/><stop offset="48.72%" stop-color="#a1ff5e"/><stop offset="48.99%" stop-color="#c7ff38"/><stop offset="49.17%" stop-color="#ebff14"/><stop offset="49.40%" stop-color="#ffd700"/><stop offset="49.85%" stop-color="#ff3d00"/><stop offset="50.08%" stop-color="#f70000"/><stop offset="50.35%" stop-color="#ca0000"/><stop offset="50.53%" stop-color="#cb0000"/><stop offset="50.76%" stop-color="#f10000"/><stop offset="51.03%" stop-color="#ff4400"/><stop offset="51.44%" stop-color="#ffd000"/><stop offset="51.67%" stop-color="#efff10"/><stop offset="51.89%" stop-color="#c1ff3e"/><stop offset="52.35%" stop-color="#8bff74"/><stop offset="53.25%" stop-color="#5dffa2"/><stop offset="55.11%" stop-color="#44ffbb"/><stop offset="61.24%" stop-color="#22ffdd"/><stop offset="64.64%" stop-color="#00faff"/><stop offset="74.17%" stop-color="#008cff"/><stop offset="82.33%" stop-color="#0049ff"/><stop offset="97.30%" stop-color="#0000ff"/><stop offset="99.34%" stop-color="#0000fa"/></linearGradient><linearGradient id="r150" x1="1504.6" x2="1945.5" y1="0" y2="0" gradientUnits="userSpaceOnUse"><stop offset="0.00%" stop-color="#0000c2"/><stop offset="10.89%" stop-color="#0006ff"/><stop offset="27.22%" stop-color="#006cff"/><stop offset="39.46%" stop-color="#00a7ff"/><stop offset="43.55%" stop-color="#00e1ff"/><stop offset="44.23%" stop-color="#00f4ff"/><stop offset="45.59%" stop-color="#2affd5"/><stop offset="47.13%" stop-color="#62ff9d"/><stop offset="48.04%" stop-color="#80ff7f"/><stop offset="48.49%" stop-color="#a3ff5c"/><stop offset="48.72%" stop-color="#c2ff3d"/><stop offset="48.99%" stop-color="#f9ff06"/><stop offset="49.17%" stop-color="#ffd300"/><stop offset="49.67%" stop-color="#ff2900"/><stop offset="49.85%" stop-color="#f30000"/><stop offset="50.08%" stop-color="#cc0000"/><stop offset="50.35%" stop-color="#d10000"/><stop offset="50.53%" stop-color="#f40000"/><stop offset="50.76%" stop-color="#ff3a00"/><stop offset="51.21%" stop-color="#ffd500"/><stop offset="51.44%" stop-color="#ecff13"/><stop offset="51.71%" stop-color="#b8ff47"/><stop offset="52.12%" stop-color="#8aff75"/><stop offset="53.07%" stop-color="#5dffa2"/><stop offset="54.43%" stop-color="#48ffb7"/><stop offset="61.24%" stop-color="#22ffdd"/><stop offset="64.64%" stop-color="#00faff"/><stop offset="74.17%" stop-color="#008cff"/><stop offset="82.33%" stop-color="#0049ff"/><stop offset="97.30%" stop-color="#0000ff"/><stop offset="99.34%" stop-color="#0000fa"/></linearGradient><linearGradient id="r151" x1="1504.6" x2="1945.5" y1="0" y2="0" gradientUnits="userSpaceOnUse"><stop offset="0.00%" stop-color="#0000c2"/><stop offset="10.89%" stop-color="#0006ff"/><stop offset="27.22%" stop-color="#006cff"/><stop offset="39.46%" stop-color="#00a7ff"/><stop offset="43.55%" stop-color="#00e1ff"/><stop offset="44.23%" stop-color="#00f4ff"/><stop offset="45.59%" stop-color="#2affd5"/><stop offset="47.15%" stop-color="#5effa1"/><stop offset="48.29%" stop-color="#7fff80"/><stop offset="48.74%" stop-color="#a2ff5d"/><stop offset="48.99%" stop-color="#c4ff3b"/><stop offset="49.19%" stop-color="#edff12"/><stop offset="49.42%" stop-color="#ffd500"/><stop offset="49.88%" stop-color="#ff3a00"/><stop offset="50.10%" stop-color="#f50000"/><stop offset="50.35%" stop-color="#cb0000"/><stop offset="50.56%" stop-color="#cc0000"/><stop offset="50.78%" stop-color="#f20000"/><stop offset="51.03%" stop-color="#ff3f00"/><stop offset="51.46%" stop-color="#ffd200"/><stop offset="51.71%" stop-color="#e8ff17"/><stop offset="51.92%" stop-color="#c0ff3f"/><stop offset="52.39%" stop-color="#89ff76"/><stop offset="53.28%" stop-color="#5dffa2"/><stop offset="55.11%" stop-color="#44ffbb"/><stop offset="61.24%" stop-color="#22ffdd"/><stop offset="64.64%" stop-color="#00faff"/><stop offset="74.17%" stop-color="#008cff"/><stop offset="82.33%" stop-color="#0049ff"/><stop offset="97.30%" stop-color="#0000ff"/><stop offset="99.34%" stop-color="#0000fa"/></linearGradient><linearGradient id="r152" x1="1504.6" x2="1945.5" y1="0" y2="0" gradientUnits="userSpaceOnUse"><stop offset="0.00%" stop-color="#0000c2"/><stop offset="10.89%" stop-color="#0006ff"/><stop offset="27.22%" stop-color="#006cff"/><stop offset="39.46%" stop-color="#00a7ff"/><stop offset="43.55%" stop-color="#00e1ff"/><stop offset="44.23%" stop-color="#00f4ff"/><stop offset="45.59%" stop-color="#2affd5"/><stop offset="47.15%" stop-color="#62ff9d"/><stop offset="48.06%" stop-color="#80ff7f"/><stop offset="48.51%" stop-color="#a4ff5b"/><stop offset="48.74%" stop-color="#c3ff3c"/><stop offset="48.99%" stop-color="#f6ff09"/><stop offset="49.19%" stop-color="#ffd000"/><stop offset="49.67%" stop-color="#ff2e00"/><stop offset="49.88%" stop-color="#f10000"/><stop offset="50.10%" stop-color="#cb0000"/><stop offset="50.35%" stop-color="#d00000"/><stop offset="50.56%" stop-color="#f60000"/><stop offset="50.78%" stop-color="#ff3c00"/><stop offset="51.24%" stop-color="#ffd700"/><stop offset="51.46%" stop-color="#eaff15"/><stop offset="51.71%" stop-color="#baff45"/><stop offset="52.14%" stop-color="#8aff75"/><stop offset="53.05%" stop-color="#5effa1"/><stop offset="54.43%" stop-color="#48ffb7"/><stop offset="61.24%" stop-color="#22ffdd"/><stop offset="64.64%" stop-color="#00faff"/><stop offset="74.17%" stop-color="#008cff"/><stop offset="82.33%" stop-color="#0049ff"/><stop offset="97.30%" stop-color="#0000ff"/><stop offset="99.34%" stop-color="#0000fa"/></linearGradient><linearGradient id="r153" x1="1504.6" x2="1945.5" y1="0" y2="0" gradientUnits="userSpaceOnUse"><stop offset="0.00%" stop-color="#0000c2"/><stop offset="10.89%" stop-color="#0006ff"/><stop offset="27.22%" stop-color="#006cff"/><stop offset="39.46%" stop-color="#00a7ff"/><stop offset="43.55%" stop-color="#00e1ff"/><stop offset="44.23%" stop-color="#00f4ff"/><stop offset="45.59%" stop-color="#2affd5"/><stop offset="47.15%" stop-color="#5effa1"/><stop offset="48.29%" stop-color="#7eff81"/><stop offset="48.74%" stop-color="#a1ff5e"/><stop offset="48.99%" stop-color="#c2ff3d"/><stop offset="49.19%" stop-color="#e9ff16"/><stop offset="49.42%" stop-color="#ffd900"/><stop offset="49.88%" stop-color="#ff4000"/><stop offset="50.10%" stop-color="#f90000"/><stop offset="50.35%" stop-color="#cc0000"/><stop offset="50.56%" stop-color="#ca0000"/><stop offset="50.78%" stop-color="#ef0000"/><stop offset="51.03%" stop-color="#ff3a00"/><stop offset="51.46%" stop-color="#ffce00"/><stop offset="51.71%" stop-color="#ecff13"/><stop offset="52.14%" stop-color="#a2ff5d"/><stop offset="52.82%" stop-color="#6fff90"/><stop offset="53.75%" stop-color="#52ffad"/><stop offset="59.20%" stop-color="#32ffcd"/><stop offset="64.64%" stop-color="#00faff"/><stop offset="74.17%" stop-color="#008cff"/><stop offset="82.33%" stop-color="#0049ff"/><stop offset="97.30%" stop-color="#0000ff"/><stop offset="99.34%" stop-color="#0000fa"/></linearGradient><linearGradient id="r154" x1="1504.6" x2="1945.5" y1="0" y2="0" gradientUnits="userSpaceOnUse"><stop offset="0.00%" stop-color="#0000c2"/><stop offset="10.89%" stop-color="#0006ff"/><stop offset="27.22%" stop-color="#006cff"/><stop offset="39.46%" stop-color="#00a7ff"/><stop offset="43.55%" stop-color="#00e1ff"/><stop offset="44.23%" stop-color="#00f4ff"/><stop offset="45.59%" stop-color="#2affd5"/><stop offset="47.18%" stop-color="#62ff9d"/><stop offset="48.08%" stop-color="#81ff7e"/><stop offset="48.54%" stop-color="#a5ff5a"/><stop offset="48.76%" stop-color="#c4ff3b"/><stop offset="48.99%" stop-color="#f2ff0d"/><stop offset="49.22%" stop-color="#ffce00"/><stop offset="49.67%" stop-color="#ff3300"/><stop offset="49.90%" stop-color="#ef0000"/><stop offset="50.12%" stop-color="#cb0000"/><stop offset="50.35%" stop-color="#ce0000"/><stop offset="50.58%" stop-color="#f80000"/><stop offset="50.81%" stop-color="#ff3f00"/><stop offset="51.26%" stop-color="#ffd900"/><stop offset="51.49%" stop-color="#e9ff16"/><stop offset="51.71%" stop-color="#bdff42"/><stop offset="52.17%" stop-color="#89ff76"/><stop offset="53.07%" stop-color="#5dffa2"/><stop offset="55.11%" stop-color="#44ffbb"/><stop offset="61.24%" stop-color="#22ffdd"/><stop offset="64.64%" stop-color="#00faff"/><stop offset="74.17%" stop-color="#008cff"/><stop offset="82.33%" stop-color="#0049ff"/><stop offset="97.30%" stop-color="#0000ff"/><stop offset="99.34%" stop-color="#0000fa"/></linearGradient><linearGradient id="r155" x1="1504.6" x2="1945.5" y1="0" y2="0" gradientUnits="userSpaceOnUse"><stop offset="0.00%" stop-color="#0000c2"/><stop offset="10.89%" stop-color="#0006ff"/><stop offset="27.22%" stop-color="#006cff"/><stop offset="39.46%" stop-color="#00a7ff"/><stop offset="43.55%" stop-color="#00e1ff"/><stop offset="44.23%" stop-color="#00f4ff"/><stop offset="45.59%" stop-color="#2affd5"/><stop offset="47.18%" stop-color="#5effa1"/><stop offset="48.31%" stop-color="#7fff80"/><stop offset="48.76%" stop-color="#a2ff5d"/><stop offset="48.99%" stop-color="#bfff40"/><stop offset="49.22%" stop-color="#ebff14"/><stop offset="49.44%" stop-color="#ffd700"/><stop offset="49.90%" stop-color="#ff3d00"/><stop offset="50.12%" stop-color="#f70000"/><stop offset="50.35%" stop-color="#cd0000"/><stop offset="50.58%" stop-color="#cb0000"/><stop offset="50.81%" stop-color="#f10000"/><stop offset="51.03%" stop-color="#ff3500"/><stop offset="51.49%" stop-color="#ffd000"/><stop offset="51.71%" stop-color="#efff10"/><stop offset="51.94%" stop-color="#c1ff3e"/><stop offset="52.39%" stop-color="#8bff74"/><stop offset="53.30%" stop-color="#5dffa2"/><stop offset="55.11%" stop-color="#44ffbb"/><stop offset="61.24%" stop-color="#22ffdd"/><stop offset="64.64%" stop-color="#00faff"/><stop offset="74.17%" stop-color="#008cff"/><stop offset="82.33%" stop-color="#0049ff"/><stop offset="97.30%" stop-color="#0000ff"/><stop offset="99.34%" stop-color="#0000fa"/></linearGradient><linearGradient id="cbC" x1="0" x2="1" y1="0" y2="0"><stop offset="0.000" stop-color="#000080"/><stop offset="0.062" stop-color="#0000bf"/><stop offset="0.125" stop-color="#0000ff"/><stop offset="0.188" stop-color="#0040ff"/><stop offset="0.250" stop-color="#0080ff"/><stop offset="0.312" stop-color="#00bfff"/><stop offset="0.375" stop-color="#00ffff"/><stop offset="0.438" stop-color="#40ffbf"/><stop offset="0.500" stop-color="#80ff80"/><stop offset="0.562" stop-color="#bfff40"/><stop offset="0.625" stop-color="#ffff00"/><stop offset="0.688" stop-color="#ffbf00"/><stop offset="0.750" stop-color="#ff8000"/><stop offset="0.812" stop-color="#ff4000"/><stop offset="0.875" stop-color="#ff0000"/><stop offset="0.938" stop-color="#bf0000"/><stop offset="1.000" stop-color="#800000"/></linearGradient></defs>
<rect width="2000" height="582" fill="#fff"/>
<g id="panelA"><polygon points="42.6,391.6 421.4,371.9 421.8,374.9 405.3,405.1 61.6,427.1 42.4,394.6" fill="url(#subFront)"/><polygon points="42.6,391.6 421.4,371.9 421.8,374.9 405.3,405.1 61.6,427.1 42.4,394.6" fill="url(#subFrontH)"/><polygon points="110.0,119.5 336.0,121.5 421.8,374.9 42.4,394.6" fill="url(#subTop)"/><g clip-path="url(#clipSub)"><ellipse cx="102" cy="306" rx="44" ry="26" fill="url(#glowY)"/><ellipse cx="372" cy="300" rx="42" ry="28" fill="url(#glowY)"/></g><polygon points="194.0,79.3 252.0,79.6 254.6,108.0 194.0,108.0" fill="#f6c20e"/><polygon points="194.0,108.0 254.6,108.0 254.6,134.0 194.0,134.0" fill="#e6b323" filter="url(#tex)"/><polygon points="89.4,121.1 126.0,122.0 123.0,159.0 78.3,159.2" fill="#f6c20f"/><polygon points="78.3,159.2 123.0,159.0 124.0,205.0 80.0,203.0" fill="#e3b020" filter="url(#tex)"/><polygon points="126.0,122.0 131.0,128.0 133.0,206.0 124.0,205.0 123.0,159.0" fill="#d9ad55" filter="url(#tex)"/><polygon points="318.8,124.0 321.7,123.2 327.5,158.9 329.0,205.0 320.0,204.0" fill="#d8ac5c" filter="url(#tex)"/><polygon points="166.0,186.0 283.0,186.0 283.0,201.0 166.0,201.0" fill="#7b5783"/><polygon points="125.0,143.7 155.4,143.9 168.3,133.3 281.8,134.0 296.5,144.8 330.0,145.0 330.0,161.0 296.5,161.1 281.8,150.4 168.3,150.7 155.4,161.4 125.0,161.5" fill="#c3edf3"/><polygon points="125.0,161.5 155.4,161.4 168.3,150.7 281.8,150.4 296.5,161.1 330.0,161.0 330.0,165.1 296.5,165.2 281.8,154.6 168.3,155.1 155.4,165.9 125.0,166.0" fill="#b1dfe6"/><polygon points="125.0,166.0 155.4,165.9 168.3,155.1 281.8,154.6 296.5,165.2 330.0,165.1 330.0,181.2 296.5,181.6 281.8,171.1 168.3,172.6 155.4,183.5 125.0,183.9" fill="#9dbfc6"/><polygon points="125.0,183.9 155.4,183.5 168.3,172.6 281.8,171.1 296.5,181.6 330.0,181.2 330.0,182.8 296.5,183.3 281.8,172.8 168.3,174.4 155.4,185.3 125.0,185.7" fill="#4a1a40"/><polygon points="125.0,185.7 155.4,185.3 168.3,174.4 281.8,172.8 296.5,183.3 330.0,182.8 330.0,194.1 296.5,194.7 281.8,184.3 168.3,186.6 155.4,197.6 125.0,198.2" fill="#92d0dc"/><polygon points="155.4,143.9 168.3,133.3 168.3,150.7 155.4,161.4" fill="#ffffff" fill-opacity="0.22"/><polygon points="281.8,134.0 296.5,144.8 296.5,161.1 281.8,150.4" fill="#ffffff" fill-opacity="0.22"/><polygon points="321.7,123.2 355.3,123.2 369.9,158.9 327.5,158.9" fill="#f7c30f"/><polygon points="327.5,158.9 369.9,158.9 365.6,203.0 329.0,205.0" fill="#e6b324" filter="url(#tex)"/><polygon points="340.7,185.0 342.2,184.6 353.9,233.4 353.9,277.3 345.1,277.3 340.7,270.0" fill="#d8ac5c" filter="url(#tex)"/><polygon points="110.4,210.9 147.5,210.5 161.5,200.4 296.4,199.0 312.7,208.8 351.0,208.4 351.0,225.9 312.7,226.5 296.4,216.7 161.5,218.7 147.5,228.9 110.4,229.5" fill="#c3edf3"/><polygon points="110.4,229.5 147.5,228.9 161.5,218.7 296.4,216.7 312.7,226.5 351.0,225.9 351.0,236.0 312.7,236.7 296.4,227.0 161.5,229.4 147.5,239.6 110.4,240.3" fill="#b1dfe6"/><polygon points="110.4,240.3 147.5,239.6 161.5,229.4 296.4,227.0 312.7,236.7 351.0,236.0 351.0,253.5 312.7,254.4 296.4,244.7 161.5,247.8 147.5,258.1 110.4,258.9" fill="#9dbfc6"/><polygon points="110.4,258.9 147.5,258.1 161.5,247.8 296.4,244.7 312.7,254.4 351.0,253.5 351.0,255.1 312.7,256.0 296.4,246.4 161.5,249.4 147.5,259.8 110.4,260.6" fill="#4a1a40"/><polygon points="110.4,260.6 147.5,259.8 161.5,249.4 296.4,246.4 312.7,256.0 351.0,255.1 351.0,267.2 312.7,268.2 296.4,258.7 161.5,262.2 147.5,272.5 110.4,273.5" fill="#92d0dc"/><polygon points="147.5,210.5 161.5,200.4 161.5,218.7 147.5,228.9" fill="#ffffff" fill-opacity="0.22"/><polygon points="296.4,199.0 312.7,208.8 312.7,226.5 296.4,216.7" fill="#ffffff" fill-opacity="0.22"/><polygon points="68.8,185.6 111.7,185.6 106.0,239.0 53.0,238.8" fill="#f8c612"/><polygon points="53.0,238.8 106.0,239.0 109.5,285.0 65.0,286.5" fill="#e4b02a" filter="url(#tex)"/><polygon points="111.7,185.6 114.5,189.0 116.0,283.0 109.5,285.0 106.0,239.0" fill="#d8b060" filter="url(#tex)"/><polygon points="342.2,184.6 380.2,184.6 402.1,233.4 353.9,233.4" fill="#f8c612"/><polygon points="353.9,233.4 402.1,233.4 394.8,262.0 389.0,277.3 353.9,277.3" fill="#e6b226" filter="url(#tex)"/><polygon points="206.8,116.3 245.8,116.3 262.0,266.0 209.0,266.0" fill="#c6eef1"/><polygon points="209.0,254.0 262.0,254.0 262.6,266.0 209.0,266.0" fill="#b7e0e6"/><polygon points="208.9,116.3 243.2,116.3 259.2,253.8 211.2,253.8" fill="#6e4a7a"/><polygon points="164.4,264.3 299.7,261.8 299.7,289.0 164.4,290.0" fill="#76507e"/><polygon points="164.4,290.0 299.7,289.0 299.7,293.2 164.4,298.6" fill="#5b3c62"/><polygon points="189.6,338.0 290.9,335.0 288.5,379.0 193.6,383.2" fill="#e2b024" filter="url(#tex)"/><polygon points="189.6,266.0 279.8,263.6 290.9,336.8 189.6,339.9" fill="#fccc14"/></g><g fill="none" stroke="#000" stroke-width="2.6"><circle cx="73.5" cy="90.8" r="25.2" fill="#fff"/><line x1="34.9" y1="91.3" x2="49.8" y2="91.3"/><line x1="34.9" y1="73.7" x2="34.9" y2="108.8"/><line x1="29.4" y1="78" x2="29.4" y2="104.5"/><line x1="24" y1="82.9" x2="24" y2="99.7"/><line x1="98" y1="96.6" x2="218.4" y2="127"/><line x1="230.7" y1="91" x2="421.5" y2="91"/><circle cx="446.8" cy="93.7" r="25.4" fill="#fff"/><line x1="472" y1="91" x2="527.8" y2="91"/><line x1="527.8" y1="74.7" x2="527.8" y2="109.8"/><line x1="534" y1="79.1" x2="534" y2="105.3"/><line x1="539.5" y1="85" x2="539.5" y2="100.9"/><polyline points="346.7,138.3 463,138.3 463,146"/><circle cx="464.1" cy="171.7" r="25.3" fill="#fff"/><polyline points="464,196.5 464,205 366.7,205"/><polyline points="88.5,213.2 88.5,199.5 205,199.5"/><polyline points="255,194.8 366.7,194.8 366.7,205"/><circle cx="230.5" cy="199.3" r="25.2"/><line x1="172.3" y1="280.5" x2="172.3" y2="447.5"/><circle cx="173" cy="473" r="25.3" fill="#fff"/><line x1="174.3" y1="498.5" x2="174.3" y2="516.8"/><line x1="159.2" y1="516.8" x2="190.1" y2="516.8"/><line x1="163.2" y1="522.3" x2="184.6" y2="522.3"/><line x1="169.2" y1="527.4" x2="179.8" y2="527.4"/><line x1="242.3" y1="312.3" x2="242.6" y2="480.7"/><line x1="227.4" y1="480.7" x2="258.5" y2="480.7"/><line x1="231.4" y1="486.4" x2="253.2" y2="486.4"/><line x1="237.1" y1="491.3" x2="248.2" y2="491.3"/></g><circle cx="218.4" cy="127" r="4.4" fill="#000"/><circle cx="230.7" cy="91.5" r="4.4" fill="#000"/><circle cx="346.7" cy="138.3" r="4.4" fill="#000"/><circle cx="366.7" cy="205" r="4.4" fill="#000"/><circle cx="88.5" cy="213.2" r="4.4" fill="#000"/><circle cx="172.3" cy="280.5" r="4.4" fill="#000"/><circle cx="242.3" cy="312.3" r="4.4" fill="#000"/><g style="font-family:'Liberation Sans',Arial,sans-serif" fill="#000"><text x="58.76" y="100.00" font-size="24.7" font-style="italic" textLength="15.71" lengthAdjust="spacingAndGlyphs">V</text><text x="73.93" y="104.60" font-size="17.3" textLength="14.70" lengthAdjust="spacingAndGlyphs">tg</text><text x="423.33" y="100.90" font-size="26" font-style="italic" textLength="16.01" lengthAdjust="spacingAndGlyphs">V</text><text x="438.80" y="105.70" font-size="18" textLength="31.21" lengthAdjust="spacingAndGlyphs">bias</text><text x="450.11" y="181.90" font-size="26" font-style="italic" textLength="16.11" lengthAdjust="spacingAndGlyphs">V</text><text x="465.60" y="186.50" font-size="17.8" textLength="17.38" lengthAdjust="spacingAndGlyphs">xx</text><text x="216.73" y="208.90" font-size="26" font-style="italic" textLength="16.01" lengthAdjust="spacingAndGlyphs">V</text><text x="231.91" y="213.20" font-size="17.5" textLength="16.92" lengthAdjust="spacingAndGlyphs">xy</text><text x="156.16" y="482.50" font-size="24.5" font-style="italic" textLength="15.71" lengthAdjust="spacingAndGlyphs">V</text><text x="171.17" y="487.30" font-size="16.5" textLength="19.45" lengthAdjust="spacingAndGlyphs">bg</text></g><g fill="none" stroke="#000" stroke-width="2.8" stroke-dasharray="9.5,5.5"><circle cx="611.8" cy="375" r="162"/><line x1="319" y1="256.5" x2="498" y2="260"/><line x1="317" y1="258.5" x2="450" y2="395.4"/></g><circle cx="312.9" cy="253.9" r="5.9" fill="none" stroke="#000" stroke-width="2.8"/><g stroke="#c4c4c4" stroke-width="2.7" stroke-linecap="round"><line x1="549.8" y1="280.9" x2="569.0" y2="272.7"/><line x1="549.8" y1="280.9" x2="571.4" y2="292.0"/><line x1="569.0" y1="272.7" x2="602.7" y2="271.3"/><line x1="602.7" y1="271.3" x2="613.7" y2="262.6"/><line x1="613.7" y1="262.6" x2="638.8" y2="261.6"/><line x1="638.8" y1="261.6" x2="661.9" y2="265.0"/><line x1="661.9" y1="265.0" x2="686.9" y2="264.0"/><line x1="686.9" y1="264.0" x2="714.8" y2="268.9"/><line x1="714.8" y1="268.9" x2="720.5" y2="278.5"/><line x1="720.5" y1="278.5" x2="686.9" y2="280.9"/><line x1="686.9" y1="280.9" x2="658.0" y2="273.7"/><line x1="658.0" y1="273.7" x2="661.9" y2="265.0"/><line x1="658.0" y1="273.7" x2="624.3" y2="276.1"/><line x1="624.3" y1="276.1" x2="602.7" y2="271.3"/><line x1="624.3" y1="276.1" x2="613.7" y2="288.1"/><line x1="571.4" y1="292.0" x2="613.7" y2="288.1"/><line x1="613.7" y1="288.1" x2="646.0" y2="298.7"/><line x1="646.0" y1="298.7" x2="688.3" y2="293.9"/><line x1="688.3" y1="293.9" x2="686.9" y2="280.9"/></g><circle cx="638.8" cy="261.6" r="5.8" fill="url(#gB)"/><circle cx="613.7" cy="262.6" r="6.0" fill="url(#gG)"/><circle cx="686.9" cy="264.0" r="6.0" fill="url(#gB)"/><circle cx="661.9" cy="265.0" r="6.0" fill="url(#gG)"/><circle cx="714.8" cy="268.9" r="6.3" fill="url(#gG)"/><circle cx="602.7" cy="271.3" r="7.0" fill="url(#gB)"/><circle cx="569.0" cy="272.7" r="6.5" fill="url(#gG)"/><circle cx="658.0" cy="273.7" r="7.0" fill="url(#gB)"/><circle cx="624.3" cy="276.1" r="7.5" fill="url(#gG)"/><circle cx="720.5" cy="278.5" r="8.3" fill="url(#gB)"/><circle cx="549.8" cy="280.9" r="8.5" fill="url(#gB)"/><circle cx="686.9" cy="280.9" r="7.5" fill="url(#gG)"/><circle cx="613.7" cy="288.1" r="9.5" fill="url(#gB)"/><circle cx="571.4" cy="292.0" r="10.0" fill="url(#gG)"/><circle cx="688.3" cy="293.9" r="10.5" fill="url(#gB)"/><circle cx="646.0" cy="298.7" r="10.5" fill="url(#gG)"/><g stroke="#c4c4c4" stroke-width="2.7" stroke-linecap="round"><line x1="507.8" y1="346.9" x2="527.0" y2="338.7"/><line x1="507.8" y1="346.9" x2="529.4" y2="358.0"/><line x1="527.0" y1="338.7" x2="560.7" y2="337.3"/><line x1="560.7" y1="337.3" x2="571.7" y2="328.6"/><line x1="571.7" y1="328.6" x2="596.8" y2="327.6"/><line x1="596.8" y1="327.6" x2="619.9" y2="331.0"/><line x1="619.9" y1="331.0" x2="644.9" y2="330.0"/><line x1="644.9" y1="330.0" x2="672.8" y2="334.9"/><line x1="672.8" y1="334.9" x2="678.5" y2="344.5"/><line x1="678.5" y1="344.5" x2="644.9" y2="346.9"/><line x1="644.9" y1="346.9" x2="616.0" y2="339.7"/><line x1="616.0" y1="339.7" x2="619.9" y2="331.0"/><line x1="616.0" y1="339.7" x2="582.3" y2="342.1"/><line x1="582.3" y1="342.1" x2="560.7" y2="337.3"/><line x1="582.3" y1="342.1" x2="571.7" y2="354.1"/><line x1="529.4" y1="358.0" x2="571.7" y2="354.1"/><line x1="571.7" y1="354.1" x2="604.0" y2="364.7"/><line x1="604.0" y1="364.7" x2="646.3" y2="359.9"/><line x1="646.3" y1="359.9" x2="644.9" y2="346.9"/></g><circle cx="596.8" cy="327.6" r="5.8" fill="url(#gB)"/><circle cx="571.7" cy="328.6" r="6.0" fill="url(#gG)"/><circle cx="644.9" cy="330.0" r="6.0" fill="url(#gB)"/><circle cx="619.9" cy="331.0" r="6.0" fill="url(#gG)"/><circle cx="672.8" cy="334.9" r="6.3" fill="url(#gG)"/><circle cx="560.7" cy="337.3" r="7.0" fill="url(#gB)"/><circle cx="527.0" cy="338.7" r="6.5" fill="url(#gG)"/><circle cx="616.0" cy="339.7" r="7.0" fill="url(#gB)"/><circle cx="582.3" cy="342.1" r="7.5" fill="url(#gG)"/><circle cx="678.5" cy="344.5" r="8.3" fill="url(#gB)"/><circle cx="507.8" cy="346.9" r="8.5" fill="url(#gB)"/><circle cx="644.9" cy="346.9" r="7.5" fill="url(#gG)"/><circle cx="571.7" cy="354.1" r="9.5" fill="url(#gB)"/><circle cx="529.4" cy="358.0" r="10.0" fill="url(#gG)"/><circle cx="646.3" cy="359.9" r="10.5" fill="url(#gB)"/><circle cx="604.0" cy="364.7" r="10.5" fill="url(#gG)"/><g stroke="#c4c4c4" stroke-width="2.7" stroke-linecap="round"><line x1="549.8" y1="410.9" x2="569.0" y2="402.7"/><line x1="549.8" y1="410.9" x2="571.4" y2="422.0"/><line x1="569.0" y1="402.7" x2="602.7" y2="401.3"/><line x1="602.7" y1="401.3" x2="613.7" y2="392.6"/><line x1="613.7" y1="392.6" x2="638.8" y2="391.6"/><line x1="638.8" y1="391.6" x2="661.9" y2="395.0"/><line x1="661.9" y1="395.0" x2="686.9" y2="394.0"/><line x1="686.9" y1="394.0" x2="714.8" y2="398.9"/><line x1="714.8" y1="398.9" x2="720.5" y2="408.5"/><line x1="720.5" y1="408.5" x2="686.9" y2="410.9"/><line x1="686.9" y1="410.9" x2="658.0" y2="403.7"/><line x1="658.0" y1="403.7" x2="661.9" y2="395.0"/><line x1="658.0" y1="403.7" x2="624.3" y2="406.1"/><line x1="624.3" y1="406.1" x2="602.7" y2="401.3"/><line x1="624.3" y1="406.1" x2="613.7" y2="418.1"/><line x1="571.4" y1="422.0" x2="613.7" y2="418.1"/><line x1="613.7" y1="418.1" x2="646.0" y2="428.7"/><line x1="646.0" y1="428.7" x2="688.3" y2="423.9"/><line x1="688.3" y1="423.9" x2="686.9" y2="410.9"/></g><circle cx="638.8" cy="391.6" r="5.8" fill="url(#gB)"/><circle cx="613.7" cy="392.6" r="6.0" fill="url(#gG)"/><circle cx="686.9" cy="394.0" r="6.0" fill="url(#gB)"/><circle cx="661.9" cy="395.0" r="6.0" fill="url(#gG)"/><circle cx="714.8" cy="398.9" r="6.3" fill="url(#gG)"/><circle cx="602.7" cy="401.3" r="7.0" fill="url(#gB)"/><circle cx="569.0" cy="402.7" r="6.5" fill="url(#gG)"/><circle cx="658.0" cy="403.7" r="7.0" fill="url(#gB)"/><circle cx="624.3" cy="406.1" r="7.5" fill="url(#gG)"/><circle cx="720.5" cy="408.5" r="8.3" fill="url(#gB)"/><circle cx="549.8" cy="410.9" r="8.5" fill="url(#gB)"/><circle cx="686.9" cy="410.9" r="7.5" fill="url(#gG)"/><circle cx="613.7" cy="418.1" r="9.5" fill="url(#gB)"/><circle cx="571.4" cy="422.0" r="10.0" fill="url(#gG)"/><circle cx="688.3" cy="423.9" r="10.5" fill="url(#gB)"/><circle cx="646.0" cy="428.7" r="10.5" fill="url(#gG)"/><g stroke="#c4c4c4" stroke-width="2.7" stroke-linecap="round"><line x1="504.8" y1="476.9" x2="524.0" y2="468.7"/><line x1="504.8" y1="476.9" x2="526.4" y2="488.0"/><line x1="524.0" y1="468.7" x2="557.7" y2="467.3"/><line x1="557.7" y1="467.3" x2="568.7" y2="458.6"/><line x1="568.7" y1="458.6" x2="593.8" y2="457.6"/><line x1="593.8" y1="457.6" x2="616.9" y2="461.0"/><line x1="616.9" y1="461.0" x2="641.9" y2="460.0"/><line x1="641.9" y1="460.0" x2="669.8" y2="464.9"/><line x1="669.8" y1="464.9" x2="675.5" y2="474.5"/><line x1="675.5" y1="474.5" x2="641.9" y2="476.9"/><line x1="641.9" y1="476.9" x2="613.0" y2="469.7"/><line x1="613.0" y1="469.7" x2="616.9" y2="461.0"/><line x1="613.0" y1="469.7" x2="579.3" y2="472.1"/><line x1="579.3" y1="472.1" x2="557.7" y2="467.3"/><line x1="579.3" y1="472.1" x2="568.7" y2="484.1"/><line x1="526.4" y1="488.0" x2="568.7" y2="484.1"/><line x1="568.7" y1="484.1" x2="601.0" y2="494.7"/><line x1="601.0" y1="494.7" x2="643.3" y2="489.9"/><line x1="643.3" y1="489.9" x2="641.9" y2="476.9"/></g><circle cx="593.8" cy="457.6" r="5.8" fill="url(#gB)"/><circle cx="568.7" cy="458.6" r="6.0" fill="url(#gG)"/><circle cx="641.9" cy="460.0" r="6.0" fill="url(#gB)"/><circle cx="616.9" cy="461.0" r="6.0" fill="url(#gG)"/><circle cx="669.8" cy="464.9" r="6.3" fill="url(#gG)"/><circle cx="557.7" cy="467.3" r="7.0" fill="url(#gB)"/><circle cx="524.0" cy="468.7" r="6.5" fill="url(#gG)"/><circle cx="613.0" cy="469.7" r="7.0" fill="url(#gB)"/><circle cx="579.3" cy="472.1" r="7.5" fill="url(#gG)"/><circle cx="675.5" cy="474.5" r="8.3" fill="url(#gB)"/><circle cx="504.8" cy="476.9" r="8.5" fill="url(#gB)"/><circle cx="641.9" cy="476.9" r="7.5" fill="url(#gG)"/><circle cx="568.7" cy="484.1" r="9.5" fill="url(#gB)"/><circle cx="526.4" cy="488.0" r="10.0" fill="url(#gG)"/><circle cx="643.3" cy="489.9" r="10.5" fill="url(#gB)"/><circle cx="601.0" cy="494.7" r="10.5" fill="url(#gG)"/><g stroke="#000" stroke-width="3.1" stroke-dasharray="5.6,3.4"><line x1="571.4" y1="300" x2="571.4" y2="490"/><line x1="613.7" y1="297.5" x2="613.7" y2="497"/></g><g style="font-family:'Liberation Sans',Arial,sans-serif" fill="#000"><text x="-1.76" y="49.80" font-size="45.5" textLength="23.06" lengthAdjust="spacingAndGlyphs">a</text></g><g style="font-family:'Liberation Sans',Arial,sans-serif" fill="#000"><text x="795.25" y="51.30" font-size="44.5" textLength="25.48" lengthAdjust="spacingAndGlyphs">b</text></g><g clip-path="url(#clipB)"><g stroke-width="6.2" stroke-linecap="round"><line x1="917.8" y1="49.0" x2="918.3" y2="51.5" stroke="#a61601"/><line x1="918.3" y1="51.5" x2="918.9" y2="54.8" stroke="#a61601"/><line x1="918.9" y1="54.8" x2="919.6" y2="58.8" stroke="#a61601"/><line x1="919.6" y1="58.8" x2="920.4" y2="63.2" stroke="#a61601"/><line x1="920.4" y1="63.2" x2="921.2" y2="67.7" stroke="#a61601"/><line x1="921.2" y1="67.7" x2="922.1" y2="72.2" stroke="#a61601"/><line x1="922.1" y1="72.2" x2="922.9" y2="76.4" stroke="#a61601"/><line x1="922.9" y1="76.4" x2="923.6" y2="80.0" stroke="#a61601"/><line x1="923.6" y1="80.0" x2="924.2" y2="83.1" stroke="#a61601"/><line x1="924.2" y1="83.1" x2="924.8" y2="85.9" stroke="#a61601"/><line x1="924.8" y1="85.9" x2="925.4" y2="88.5" stroke="#a61701"/><line x1="925.4" y1="88.5" x2="926.0" y2="91.0" stroke="#a71701"/><line x1="926.0" y1="91.0" x2="926.6" y2="93.4" stroke="#a71701"/><line x1="926.6" y1="93.4" x2="927.2" y2="95.8" stroke="#a71701"/><line x1="927.2" y1="95.8" x2="927.8" y2="98.3" stroke="#a71701"/><line x1="927.8" y1="98.3" x2="928.4" y2="101.0" stroke="#a71701"/><line x1="928.4" y1="101.0" x2="929.1" y2="103.8" stroke="#a81701"/><line x1="929.1" y1="103.8" x2="929.8" y2="106.6" stroke="#a81701"/><line x1="929.8" y1="106.6" x2="930.5" y2="109.5" stroke="#a81701"/><line x1="930.5" y1="109.5" x2="931.2" y2="112.4" stroke="#a81701"/><line x1="931.2" y1="112.4" x2="931.9" y2="115.4" stroke="#a81801"/><line x1="931.9" y1="115.4" x2="932.7" y2="118.3" stroke="#a91801"/><line x1="932.7" y1="118.3" x2="933.4" y2="121.2" stroke="#a91801"/><line x1="933.4" y1="121.2" x2="934.2" y2="124.0" stroke="#a91801"/><line x1="934.2" y1="124.0" x2="935.0" y2="126.9" stroke="#a91801"/><line x1="935.0" y1="126.9" x2="935.8" y2="129.8" stroke="#a91801"/><line x1="935.8" y1="129.8" x2="936.7" y2="132.7" stroke="#a91801"/><line x1="936.7" y1="132.7" x2="937.5" y2="135.6" stroke="#a91801"/><line x1="937.5" y1="135.6" x2="938.4" y2="138.4" stroke="#a91801"/><line x1="938.4" y1="138.4" x2="939.2" y2="141.1" stroke="#a91801"/><line x1="939.2" y1="141.1" x2="940.0" y2="143.6" stroke="#a91801"/><line x1="940.0" y1="143.6" x2="940.8" y2="146.0" stroke="#a91801"/><line x1="940.8" y1="146.0" x2="941.6" y2="148.2" stroke="#a91801"/><line x1="941.6" y1="148.2" x2="942.3" y2="150.2" stroke="#a81801"/><line x1="942.3" y1="150.2" x2="943.1" y2="152.0" stroke="#a81701"/><line x1="943.1" y1="152.0" x2="943.8" y2="153.8" stroke="#a71701"/><line x1="943.8" y1="153.8" x2="944.5" y2="155.4" stroke="#a71701"/><line x1="944.5" y1="155.4" x2="945.2" y2="157.0" stroke="#a61701"/><line x1="945.2" y1="157.0" x2="945.9" y2="158.5" stroke="#a61601"/><line x1="945.9" y1="158.5" x2="946.5" y2="160.0" stroke="#a61601"/><line x1="946.5" y1="160.0" x2="947.1" y2="161.4" stroke="#a61701"/><line x1="947.1" y1="161.4" x2="947.6" y2="162.8" stroke="#a71701"/><line x1="947.6" y1="162.8" x2="948.1" y2="164.0" stroke="#a81701"/><line x1="948.1" y1="164.0" x2="948.5" y2="165.2" stroke="#a91801"/><line x1="948.5" y1="165.2" x2="949.0" y2="166.4" stroke="#aa1801"/><line x1="949.0" y1="166.4" x2="949.6" y2="167.5" stroke="#ab1902"/><line x1="949.6" y1="167.5" x2="950.2" y2="168.7" stroke="#ac1902"/><line x1="950.2" y1="168.7" x2="951.0" y2="170.0" stroke="#ac1902"/><line x1="951.0" y1="170.0" x2="951.8" y2="171.3" stroke="#ac1902"/><line x1="951.8" y1="171.3" x2="952.7" y2="172.7" stroke="#ab1902"/><line x1="952.7" y1="172.7" x2="953.6" y2="174.1" stroke="#aa1801"/><line x1="953.6" y1="174.1" x2="954.7" y2="175.6" stroke="#a81701"/><line x1="954.7" y1="175.6" x2="955.8" y2="177.0" stroke="#a71701"/><line x1="955.8" y1="177.0" x2="957.0" y2="178.4" stroke="#a51601"/><line x1="957.0" y1="178.4" x2="958.4" y2="179.7" stroke="#a31501"/><line x1="958.4" y1="179.7" x2="960.0" y2="181.0" stroke="#a11401"/><line x1="960.0" y1="181.0" x2="961.8" y2="182.2" stroke="#9f1301"/><line x1="961.8" y1="182.2" x2="963.8" y2="183.4" stroke="#9d1201"/><line x1="963.8" y1="183.4" x2="966.0" y2="184.6" stroke="#9b1100"/><line x1="966.0" y1="184.6" x2="968.2" y2="185.7" stroke="#991000"/><line x1="968.2" y1="185.7" x2="970.6" y2="186.8" stroke="#970f00"/><line x1="970.6" y1="186.8" x2="973.1" y2="187.9" stroke="#940e00"/><line x1="973.1" y1="187.9" x2="975.5" y2="189.0" stroke="#920d00"/><line x1="975.5" y1="189.0" x2="978.0" y2="190.0" stroke="#900c00"/><line x1="978.0" y1="190.0" x2="980.5" y2="191.1" stroke="#8d0b00"/><line x1="980.5" y1="191.1" x2="983.2" y2="192.2" stroke="#8a0900"/><line x1="983.2" y1="192.2" x2="985.9" y2="193.4" stroke="#870700"/><line x1="985.9" y1="193.4" x2="988.7" y2="194.5" stroke="#830600"/><line x1="988.7" y1="194.5" x2="991.4" y2="195.5" stroke="#800400"/><line x1="991.4" y1="195.5" x2="994.1" y2="196.3" stroke="#7d0200"/><line x1="994.1" y1="196.3" x2="996.6" y2="197.0" stroke="#7a0100"/><line x1="996.6" y1="197.0" x2="999.0" y2="197.3" stroke="#790000"/><line x1="999.0" y1="197.3" x2="1001.2" y2="197.4" stroke="#780000"/><line x1="1001.2" y1="197.4" x2="1003.2" y2="197.3" stroke="#780000"/><line x1="1003.2" y1="197.3" x2="1005.1" y2="197.1" stroke="#780000"/><line x1="1005.1" y1="197.1" x2="1006.9" y2="196.7" stroke="#790000"/><line x1="1006.9" y1="196.7" x2="1008.6" y2="196.1" stroke="#7a0100"/><line x1="1008.6" y1="196.1" x2="1010.4" y2="195.2" stroke="#7c0200"/><line x1="1010.4" y1="195.2" x2="1012.2" y2="194.2" stroke="#7e0300"/><line x1="1012.2" y1="194.2" x2="1014.0" y2="193.0" stroke="#800400"/><line x1="1014.0" y1="193.0" x2="1015.9" y2="191.5" stroke="#810500"/><line x1="1015.9" y1="191.5" x2="1017.8" y2="189.6" stroke="#830600"/><line x1="1017.8" y1="189.6" x2="1019.6" y2="187.5" stroke="#860700"/><line x1="1019.6" y1="187.5" x2="1021.5" y2="185.2" stroke="#880800"/><line x1="1021.5" y1="185.2" x2="1023.4" y2="182.8" stroke="#8b0900"/><line x1="1023.4" y1="182.8" x2="1025.2" y2="180.4" stroke="#8d0b00"/><line x1="1025.2" y1="180.4" x2="1027.1" y2="178.1" stroke="#900c00"/><line x1="1027.1" y1="178.1" x2="1029.0" y2="176.0" stroke="#930d00"/><line x1="1029.0" y1="176.0" x2="1030.9" y2="174.0" stroke="#950f00"/><line x1="1030.9" y1="174.0" x2="1032.8" y2="171.9" stroke="#981000"/><line x1="1032.8" y1="171.9" x2="1034.6" y2="169.7" stroke="#9b1100"/><line x1="1034.6" y1="169.7" x2="1036.5" y2="167.7" stroke="#9e1301"/><line x1="1036.5" y1="167.7" x2="1038.4" y2="165.7" stroke="#a11401"/><line x1="1038.4" y1="165.7" x2="1040.2" y2="163.9" stroke="#a41601"/><line x1="1040.2" y1="163.9" x2="1042.1" y2="162.3" stroke="#a71701"/><line x1="1042.1" y1="162.3" x2="1044.0" y2="161.0" stroke="#aa1801"/><line x1="1044.0" y1="161.0" x2="1045.9" y2="159.9" stroke="#ae1a02"/><line x1="1045.9" y1="159.9" x2="1047.8" y2="159.0" stroke="#b11b02"/><line x1="1047.8" y1="159.0" x2="1049.7" y2="158.3" stroke="#b51c02"/><line x1="1049.7" y1="158.3" x2="1051.6" y2="157.7" stroke="#b91d02"/><line x1="1051.6" y1="157.7" x2="1053.4" y2="157.3" stroke="#be1e01"/><line x1="1053.4" y1="157.3" x2="1055.3" y2="157.0" stroke="#c31e01"/><line x1="1055.3" y1="157.0" x2="1057.2" y2="156.9" stroke="#c81f01"/><line x1="1057.2" y1="156.9" x2="1059.0" y2="157.0" stroke="#cd2000"/><line x1="1059.0" y1="157.0" x2="1060.8" y2="157.2" stroke="#d12200"/><line x1="1060.8" y1="157.2" x2="1062.6" y2="157.5" stroke="#d32501"/><line x1="1062.6" y1="157.5" x2="1064.4" y2="157.9" stroke="#d62801"/><line x1="1064.4" y1="157.9" x2="1066.1" y2="158.6" stroke="#d82b02"/><line x1="1066.1" y1="158.6" x2="1067.9" y2="159.4" stroke="#db2f03"/><line x1="1067.9" y1="159.4" x2="1069.6" y2="160.4" stroke="#dd3303"/><line x1="1069.6" y1="160.4" x2="1071.3" y2="161.6" stroke="#e03604"/><line x1="1071.3" y1="161.6" x2="1073.0" y2="163.0" stroke="#e33a05"/><line x1="1073.0" y1="163.0" x2="1074.7" y2="164.7" stroke="#e53f05"/><line x1="1074.7" y1="164.7" x2="1076.3" y2="166.8" stroke="#e74506"/><line x1="1076.3" y1="166.8" x2="1078.0" y2="169.1" stroke="#e94c06"/><line x1="1078.0" y1="169.1" x2="1079.6" y2="171.6" stroke="#eb5207"/><line x1="1079.6" y1="171.6" x2="1081.2" y2="174.2" stroke="#ee5907"/><line x1="1081.2" y1="174.2" x2="1082.8" y2="176.8" stroke="#f06008"/><line x1="1082.8" y1="176.8" x2="1084.4" y2="179.4" stroke="#f16509"/><line x1="1084.4" y1="179.4" x2="1086.0" y2="182.0" stroke="#f36a0a"/><line x1="1086.0" y1="182.0" x2="1087.6" y2="184.6" stroke="#f5700a"/><line x1="1087.6" y1="184.6" x2="1089.1" y2="187.3" stroke="#f7760b"/><line x1="1089.1" y1="187.3" x2="1090.7" y2="190.2" stroke="#f87b0c"/><line x1="1090.7" y1="190.2" x2="1092.2" y2="193.0" stroke="#f9800e"/><line x1="1092.2" y1="193.0" x2="1093.8" y2="195.8" stroke="#f9850f"/><line x1="1093.8" y1="195.8" x2="1095.2" y2="198.4" stroke="#f98a10"/><line x1="1095.2" y1="198.4" x2="1096.7" y2="200.8" stroke="#fa9011"/><line x1="1096.7" y1="200.8" x2="1098.0" y2="203.0" stroke="#fa9513"/><line x1="1098.0" y1="203.0" x2="1099.3" y2="205.0" stroke="#fa9b14"/><line x1="1099.3" y1="205.0" x2="1100.5" y2="206.9" stroke="#fba216"/><line x1="1100.5" y1="206.9" x2="1101.6" y2="208.7" stroke="#fbaa17"/><line x1="1101.6" y1="208.7" x2="1102.7" y2="210.3" stroke="#fbb319"/><line x1="1102.7" y1="210.3" x2="1103.8" y2="211.7" stroke="#fcbc1b"/><line x1="1103.8" y1="211.7" x2="1104.8" y2="212.8" stroke="#fcc41d"/><line x1="1104.8" y1="212.8" x2="1105.9" y2="213.6" stroke="#fdca1f"/><line x1="1105.9" y1="213.6" x2="1107.0" y2="214.0" stroke="#fdcf20"/><line x1="1107.0" y1="214.0" x2="1108.1" y2="214.1" stroke="#fdd020"/><line x1="1108.1" y1="214.1" x2="1109.2" y2="214.0" stroke="#fdcf20"/><line x1="1109.2" y1="214.0" x2="1110.2" y2="213.6" stroke="#fdcc1f"/><line x1="1110.2" y1="213.6" x2="1111.3" y2="212.9" stroke="#fdc71e"/><line x1="1111.3" y1="212.9" x2="1112.4" y2="211.9" stroke="#fcc21d"/><line x1="1112.4" y1="211.9" x2="1113.5" y2="210.4" stroke="#fcbb1b"/><line x1="1113.5" y1="210.4" x2="1114.7" y2="208.5" stroke="#fbb51a"/><line x1="1114.7" y1="208.5" x2="1116.0" y2="206.0" stroke="#fbaf19"/><line x1="1116.0" y1="206.0" x2="1117.4" y2="203.0" stroke="#fbaa17"/><line x1="1117.4" y1="203.0" x2="1118.8" y2="199.4" stroke="#fba516"/><line x1="1118.8" y1="199.4" x2="1120.3" y2="195.3" stroke="#fba015"/><line x1="1120.3" y1="195.3" x2="1121.8" y2="190.9" stroke="#fa9c14"/><line x1="1121.8" y1="190.9" x2="1123.4" y2="186.0" stroke="#fa9713"/><line x1="1123.4" y1="186.0" x2="1124.9" y2="180.9" stroke="#fa9212"/><line x1="1124.9" y1="180.9" x2="1126.5" y2="175.6" stroke="#fa8d11"/><line x1="1126.5" y1="175.6" x2="1128.0" y2="170.0" stroke="#f98810"/><line x1="1128.0" y1="170.0" x2="1129.5" y2="164.0" stroke="#f9840e"/><line x1="1129.5" y1="164.0" x2="1131.1" y2="157.3" stroke="#f87f0d"/><line x1="1131.1" y1="157.3" x2="1132.7" y2="150.1" stroke="#f87b0c"/><line x1="1132.7" y1="150.1" x2="1134.3" y2="142.8" stroke="#f7760b"/><line x1="1134.3" y1="142.8" x2="1135.9" y2="135.5" stroke="#f5700b"/><line x1="1135.9" y1="135.5" x2="1137.4" y2="128.4" stroke="#f36b0a"/><line x1="1137.4" y1="128.4" x2="1138.7" y2="121.9" stroke="#f26609"/><line x1="1138.7" y1="121.9" x2="1140.0" y2="116.0" stroke="#f16208"/><line x1="1140.0" y1="116.0" x2="1141.1" y2="110.9" stroke="#ef5d08"/><line x1="1141.1" y1="110.9" x2="1142.1" y2="106.3" stroke="#ee5907"/><line x1="1142.1" y1="106.3" x2="1143.0" y2="102.1" stroke="#ec5507"/><line x1="1143.0" y1="102.1" x2="1143.8" y2="98.2" stroke="#eb5107"/><line x1="1143.8" y1="98.2" x2="1144.6" y2="94.5" stroke="#ea4e06"/><line x1="1144.6" y1="94.5" x2="1145.3" y2="90.8" stroke="#e94b06"/><line x1="1145.3" y1="90.8" x2="1146.1" y2="87.0" stroke="#e84806"/><line x1="1146.1" y1="87.0" x2="1147.0" y2="83.0" stroke="#e74506"/><line x1="1147.0" y1="83.0" x2="1148.0" y2="78.6" stroke="#e64205"/><line x1="1148.0" y1="78.6" x2="1149.0" y2="73.8" stroke="#e53e05"/><line x1="1149.0" y1="73.8" x2="1150.1" y2="68.8" stroke="#e43c05"/><line x1="1150.1" y1="68.8" x2="1151.2" y2="63.9" stroke="#e23a05"/><line x1="1151.2" y1="63.9" x2="1152.2" y2="59.3" stroke="#e13804"/><line x1="1152.2" y1="59.3" x2="1153.1" y2="55.1" stroke="#e03604"/><line x1="1153.1" y1="55.1" x2="1153.9" y2="51.6" stroke="#df3504"/><line x1="1153.9" y1="51.6" x2="1154.5" y2="49.0" stroke="#de3404"/></g><g stroke-width="6.2" stroke-linecap="round"><line x1="913.5" y1="449.0" x2="913.6" y2="448.9" stroke="#af1b02"/><line x1="913.6" y1="448.9" x2="913.6" y2="449.0" stroke="#af1b02"/><line x1="913.6" y1="449.0" x2="913.6" y2="449.2" stroke="#af1b02"/><line x1="913.6" y1="449.2" x2="913.7" y2="449.3" stroke="#af1b02"/><line x1="913.7" y1="449.3" x2="913.8" y2="449.0" stroke="#af1b02"/><line x1="913.8" y1="449.0" x2="914.0" y2="448.3" stroke="#af1b02"/><line x1="914.0" y1="448.3" x2="914.2" y2="446.9" stroke="#af1b02"/><line x1="914.2" y1="446.9" x2="914.6" y2="444.7" stroke="#af1b02"/><line x1="914.6" y1="444.7" x2="915.1" y2="441.5" stroke="#af1b02"/><line x1="915.1" y1="441.5" x2="915.7" y2="437.4" stroke="#af1b02"/><line x1="915.7" y1="437.4" x2="916.4" y2="432.6" stroke="#af1b02"/><line x1="916.4" y1="432.6" x2="917.2" y2="427.3" stroke="#af1b02"/><line x1="917.2" y1="427.3" x2="918.0" y2="421.8" stroke="#af1b02"/><line x1="918.0" y1="421.8" x2="918.9" y2="416.3" stroke="#af1b02"/><line x1="918.9" y1="416.3" x2="919.7" y2="410.9" stroke="#af1b02"/><line x1="919.7" y1="410.9" x2="920.6" y2="406.0" stroke="#af1b02"/><line x1="920.6" y1="406.0" x2="921.4" y2="401.4" stroke="#af1b02"/><line x1="921.4" y1="401.4" x2="922.3" y2="396.8" stroke="#af1b02"/><line x1="922.3" y1="396.8" x2="923.2" y2="392.3" stroke="#af1b02"/><line x1="923.2" y1="392.3" x2="924.1" y2="387.8" stroke="#af1b02"/><line x1="924.1" y1="387.8" x2="925.0" y2="383.4" stroke="#af1b02"/><line x1="925.0" y1="383.4" x2="926.0" y2="378.9" stroke="#af1b02"/><line x1="926.0" y1="378.9" x2="927.0" y2="374.5" stroke="#af1b02"/><line x1="927.0" y1="374.5" x2="928.0" y2="370.0" stroke="#af1b02"/><line x1="928.0" y1="370.0" x2="929.1" y2="365.4" stroke="#af1b02"/><line x1="929.1" y1="365.4" x2="930.2" y2="360.7" stroke="#af1a02"/><line x1="930.2" y1="360.7" x2="931.3" y2="356.0" stroke="#ae1a02"/><line x1="931.3" y1="356.0" x2="932.5" y2="351.2" stroke="#ae1a02"/><line x1="932.5" y1="351.2" x2="933.7" y2="346.6" stroke="#ae1a02"/><line x1="933.7" y1="346.6" x2="934.8" y2="342.2" stroke="#ad1a02"/><line x1="934.8" y1="342.2" x2="935.9" y2="337.9" stroke="#ad1a02"/><line x1="935.9" y1="337.9" x2="937.0" y2="334.0" stroke="#ac1902"/><line x1="937.0" y1="334.0" x2="938.0" y2="330.3" stroke="#ac1902"/><line x1="938.0" y1="330.3" x2="939.0" y2="326.9" stroke="#ab1902"/><line x1="939.0" y1="326.9" x2="940.0" y2="323.6" stroke="#aa1801"/><line x1="940.0" y1="323.6" x2="940.9" y2="320.5" stroke="#aa1801"/><line x1="940.9" y1="320.5" x2="941.8" y2="317.5" stroke="#a91801"/><line x1="941.8" y1="317.5" x2="942.7" y2="314.8" stroke="#a81701"/><line x1="942.7" y1="314.8" x2="943.7" y2="312.3" stroke="#a71701"/><line x1="943.7" y1="312.3" x2="944.6" y2="310.0" stroke="#a61701"/><line x1="944.6" y1="310.0" x2="945.5" y2="307.9" stroke="#a61601"/><line x1="945.5" y1="307.9" x2="946.5" y2="306.1" stroke="#a51601"/><line x1="946.5" y1="306.1" x2="947.4" y2="304.5" stroke="#a41601"/><line x1="947.4" y1="304.5" x2="948.3" y2="303.0" stroke="#a31501"/><line x1="948.3" y1="303.0" x2="949.2" y2="301.8" stroke="#a31501"/><line x1="949.2" y1="301.8" x2="950.1" y2="300.6" stroke="#a21401"/><line x1="950.1" y1="300.6" x2="951.1" y2="299.6" stroke="#a11401"/><line x1="951.1" y1="299.6" x2="952.0" y2="298.6" stroke="#a01401"/><line x1="952.0" y1="298.6" x2="952.9" y2="297.7" stroke="#a01301"/><line x1="952.9" y1="297.7" x2="953.8" y2="297.0" stroke="#9f1301"/><line x1="953.8" y1="297.0" x2="954.8" y2="296.5" stroke="#9f1301"/><line x1="954.8" y1="296.5" x2="955.7" y2="296.0" stroke="#9e1301"/><line x1="955.7" y1="296.0" x2="956.6" y2="295.6" stroke="#9d1201"/><line x1="956.6" y1="295.6" x2="957.6" y2="295.4" stroke="#9d1201"/><line x1="957.6" y1="295.4" x2="958.6" y2="295.2" stroke="#9c1201"/><line x1="958.6" y1="295.2" x2="959.7" y2="295.0" stroke="#9b1100"/><line x1="959.7" y1="295.0" x2="960.9" y2="294.9" stroke="#991000"/><line x1="960.9" y1="294.9" x2="962.1" y2="295.0" stroke="#970f00"/><line x1="962.1" y1="295.0" x2="963.3" y2="295.2" stroke="#950e00"/><line x1="963.3" y1="295.2" x2="964.6" y2="295.4" stroke="#930d00"/><line x1="964.6" y1="295.4" x2="965.9" y2="295.7" stroke="#900c00"/><line x1="965.9" y1="295.7" x2="967.2" y2="296.0" stroke="#8e0b00"/><line x1="967.2" y1="296.0" x2="968.6" y2="296.2" stroke="#8c0a00"/><line x1="968.6" y1="296.2" x2="970.0" y2="296.5" stroke="#8a0900"/><line x1="970.0" y1="296.5" x2="971.4" y2="296.8" stroke="#880800"/><line x1="971.4" y1="296.8" x2="972.7" y2="297.0" stroke="#870700"/><line x1="972.7" y1="297.0" x2="974.1" y2="297.4" stroke="#850700"/><line x1="974.1" y1="297.4" x2="975.5" y2="297.7" stroke="#840600"/><line x1="975.5" y1="297.7" x2="977.0" y2="298.0" stroke="#830600"/><line x1="977.0" y1="298.0" x2="978.5" y2="298.3" stroke="#820500"/><line x1="978.5" y1="298.3" x2="980.2" y2="298.5" stroke="#820500"/><line x1="980.2" y1="298.5" x2="982.0" y2="298.6" stroke="#810400"/><line x1="982.0" y1="298.6" x2="984.0" y2="298.6" stroke="#800400"/><line x1="984.0" y1="298.6" x2="986.2" y2="298.6" stroke="#800400"/><line x1="986.2" y1="298.6" x2="988.6" y2="298.5" stroke="#7f0400"/><line x1="988.6" y1="298.5" x2="991.0" y2="298.3" stroke="#7f0300"/><line x1="991.0" y1="298.3" x2="993.4" y2="298.2" stroke="#7f0300"/><line x1="993.4" y1="298.2" x2="995.8" y2="298.1" stroke="#7e0300"/><line x1="995.8" y1="298.1" x2="998.0" y2="298.0" stroke="#7e0300"/><line x1="998.0" y1="298.0" x2="1000.0" y2="298.0" stroke="#7e0300"/><line x1="1000.0" y1="298.0" x2="1001.7" y2="298.1" stroke="#7d0300"/><line x1="1001.7" y1="298.1" x2="1003.3" y2="298.2" stroke="#7d0200"/><line x1="1003.3" y1="298.2" x2="1004.7" y2="298.3" stroke="#7c0200"/><line x1="1004.7" y1="298.3" x2="1006.0" y2="298.4" stroke="#7b0200"/><line x1="1006.0" y1="298.4" x2="1007.3" y2="298.6" stroke="#7a0100"/><line x1="1007.3" y1="298.6" x2="1008.7" y2="298.9" stroke="#790100"/><line x1="1008.7" y1="298.9" x2="1010.3" y2="299.2" stroke="#790000"/><line x1="1010.3" y1="299.2" x2="1012.0" y2="299.5" stroke="#780000"/><line x1="1012.0" y1="299.5" x2="1014.0" y2="299.9" stroke="#780000"/><line x1="1014.0" y1="299.9" x2="1016.1" y2="300.3" stroke="#780000"/><line x1="1016.1" y1="300.3" x2="1018.3" y2="300.8" stroke="#780000"/><line x1="1018.3" y1="300.8" x2="1020.6" y2="301.4" stroke="#780000"/><line x1="1020.6" y1="301.4" x2="1023.0" y2="302.0" stroke="#780000"/><line x1="1023.0" y1="302.0" x2="1025.4" y2="302.6" stroke="#780000"/><line x1="1025.4" y1="302.6" x2="1027.7" y2="303.3" stroke="#780000"/><line x1="1027.7" y1="303.3" x2="1030.0" y2="304.0" stroke="#780000"/><line x1="1030.0" y1="304.0" x2="1032.2" y2="304.8" stroke="#790000"/><line x1="1032.2" y1="304.8" x2="1034.5" y2="305.7" stroke="#7a0100"/><line x1="1034.5" y1="305.7" x2="1036.8" y2="306.6" stroke="#7d0200"/><line x1="1036.8" y1="306.6" x2="1039.0" y2="307.6" stroke="#7f0300"/><line x1="1039.0" y1="307.6" x2="1041.2" y2="308.6" stroke="#820500"/><line x1="1041.2" y1="308.6" x2="1043.5" y2="309.6" stroke="#850600"/><line x1="1043.5" y1="309.6" x2="1045.8" y2="310.6" stroke="#880800"/><line x1="1045.8" y1="310.6" x2="1048.0" y2="311.6" stroke="#8c0a00"/><line x1="1048.0" y1="311.6" x2="1050.3" y2="312.6" stroke="#910c00"/><line x1="1050.3" y1="312.6" x2="1052.6" y2="313.6" stroke="#960f00"/><line x1="1052.6" y1="313.6" x2="1054.9" y2="314.6" stroke="#9c1201"/><line x1="1054.9" y1="314.6" x2="1057.2" y2="315.6" stroke="#a31501"/><line x1="1057.2" y1="315.6" x2="1059.5" y2="316.6" stroke="#aa1801"/><line x1="1059.5" y1="316.6" x2="1061.7" y2="317.5" stroke="#b11b02"/><line x1="1061.7" y1="317.5" x2="1063.9" y2="318.3" stroke="#ba1d01"/><line x1="1063.9" y1="318.3" x2="1066.0" y2="319.0" stroke="#c31e01"/><line x1="1066.0" y1="319.0" x2="1068.0" y2="319.6" stroke="#cc1f00"/><line x1="1068.0" y1="319.6" x2="1070.0" y2="320.1" stroke="#d12200"/><line x1="1070.0" y1="320.1" x2="1071.8" y2="320.6" stroke="#d42601"/><line x1="1071.8" y1="320.6" x2="1073.7" y2="321.0" stroke="#d72a02"/><line x1="1073.7" y1="321.0" x2="1075.5" y2="321.3" stroke="#da2e03"/><line x1="1075.5" y1="321.3" x2="1077.3" y2="321.6" stroke="#dd3203"/><line x1="1077.3" y1="321.6" x2="1079.1" y2="321.8" stroke="#e03604"/><line x1="1079.1" y1="321.8" x2="1081.0" y2="322.0" stroke="#e33a05"/><line x1="1081.0" y1="322.0" x2="1082.9" y2="322.1" stroke="#e53f05"/><line x1="1082.9" y1="322.1" x2="1084.9" y2="322.1" stroke="#e74606"/><line x1="1084.9" y1="322.1" x2="1086.9" y2="322.0" stroke="#e94c06"/><line x1="1086.9" y1="322.0" x2="1088.9" y2="321.9" stroke="#ec5307"/><line x1="1088.9" y1="321.9" x2="1090.8" y2="321.8" stroke="#ee5907"/><line x1="1090.8" y1="321.8" x2="1092.7" y2="321.7" stroke="#f06008"/><line x1="1092.7" y1="321.7" x2="1094.4" y2="321.8" stroke="#f26509"/><line x1="1094.4" y1="321.8" x2="1096.0" y2="322.0" stroke="#f36a0a"/><line x1="1096.0" y1="322.0" x2="1097.4" y2="322.3" stroke="#f5700a"/><line x1="1097.4" y1="322.3" x2="1098.7" y2="322.5" stroke="#f7760b"/><line x1="1098.7" y1="322.5" x2="1099.8" y2="322.9" stroke="#f87c0c"/><line x1="1099.8" y1="322.9" x2="1100.8" y2="323.3" stroke="#f9810e"/><line x1="1100.8" y1="323.3" x2="1101.9" y2="323.8" stroke="#f9860f"/><line x1="1101.9" y1="323.8" x2="1102.9" y2="324.5" stroke="#f98b10"/><line x1="1102.9" y1="324.5" x2="1103.9" y2="325.4" stroke="#fa9012"/><line x1="1103.9" y1="325.4" x2="1105.0" y2="326.6" stroke="#fa9513"/><line x1="1105.0" y1="326.6" x2="1106.2" y2="328.0" stroke="#fa9b14"/><line x1="1106.2" y1="328.0" x2="1107.4" y2="329.6" stroke="#fba115"/><line x1="1107.4" y1="329.6" x2="1108.5" y2="331.4" stroke="#fba717"/><line x1="1108.5" y1="331.4" x2="1109.8" y2="333.4" stroke="#fbae19"/><line x1="1109.8" y1="333.4" x2="1111.0" y2="335.6" stroke="#fcb61a"/><line x1="1111.0" y1="335.6" x2="1112.1" y2="337.9" stroke="#fcbd1c"/><line x1="1112.1" y1="337.9" x2="1113.3" y2="340.4" stroke="#fcc31d"/><line x1="1113.3" y1="340.4" x2="1114.5" y2="343.0" stroke="#fdc71e"/><line x1="1114.5" y1="343.0" x2="1115.6" y2="345.8" stroke="#fdc91f"/><line x1="1115.6" y1="345.8" x2="1116.8" y2="348.8" stroke="#fdca1f"/><line x1="1116.8" y1="348.8" x2="1117.9" y2="352.0" stroke="#fdc91e"/><line x1="1117.9" y1="352.0" x2="1119.0" y2="355.3" stroke="#fcc71e"/><line x1="1119.0" y1="355.3" x2="1120.1" y2="358.8" stroke="#fcc41d"/><line x1="1120.1" y1="358.8" x2="1121.3" y2="362.4" stroke="#fcc01c"/><line x1="1121.3" y1="362.4" x2="1122.4" y2="366.1" stroke="#fcbd1c"/><line x1="1122.4" y1="366.1" x2="1123.5" y2="370.0" stroke="#fcb91b"/><line x1="1123.5" y1="370.0" x2="1124.6" y2="374.1" stroke="#fcb71a"/><line x1="1124.6" y1="374.1" x2="1125.8" y2="378.3" stroke="#fbb41a"/><line x1="1125.8" y1="378.3" x2="1126.9" y2="382.7" stroke="#fbb119"/><line x1="1126.9" y1="382.7" x2="1128.0" y2="387.3" stroke="#fbae18"/><line x1="1128.0" y1="387.3" x2="1129.1" y2="391.9" stroke="#fbab18"/><line x1="1129.1" y1="391.9" x2="1130.2" y2="396.6" stroke="#fba817"/><line x1="1130.2" y1="396.6" x2="1131.4" y2="401.3" stroke="#fba617"/><line x1="1131.4" y1="401.3" x2="1132.5" y2="406.0" stroke="#fba316"/><line x1="1132.5" y1="406.0" x2="1133.7" y2="410.9" stroke="#fba115"/><line x1="1133.7" y1="410.9" x2="1134.9" y2="416.3" stroke="#fa9e15"/><line x1="1134.9" y1="416.3" x2="1136.2" y2="421.8" stroke="#fa9b14"/><line x1="1136.2" y1="421.8" x2="1137.5" y2="427.3" stroke="#fa9813"/><line x1="1137.5" y1="427.3" x2="1138.7" y2="432.6" stroke="#fa9513"/><line x1="1138.7" y1="432.6" x2="1139.8" y2="437.4" stroke="#fa9312"/><line x1="1139.8" y1="437.4" x2="1140.8" y2="441.5" stroke="#fa9112"/><line x1="1140.8" y1="441.5" x2="1141.5" y2="444.7" stroke="#fa8f11"/><line x1="1141.5" y1="444.7" x2="1142.0" y2="446.9" stroke="#fa8e11"/><line x1="1142.0" y1="446.9" x2="1142.3" y2="448.3" stroke="#fa8d11"/><line x1="1142.3" y1="448.3" x2="1142.5" y2="449.0" stroke="#fa8d11"/><line x1="1142.5" y1="449.0" x2="1142.6" y2="449.3" stroke="#fa8d11"/><line x1="1142.6" y1="449.3" x2="1142.5" y2="449.2" stroke="#fa8d11"/><line x1="1142.5" y1="449.2" x2="1142.5" y2="449.0" stroke="#fa8d11"/><line x1="1142.5" y1="449.0" x2="1142.5" y2="448.9" stroke="#fa8e11"/><line x1="1142.5" y1="448.9" x2="1142.5" y2="449.0" stroke="#fa8e11"/></g></g><rect x="867.8" y="51.7" width="327.9" height="394.5" fill="none" stroke="#8a8a8a" stroke-width="1.5"/><g stroke="#8a8a8a" stroke-width="1.5"><line x1="867.8" y1="83.8" x2="873.5" y2="83.8"/><line x1="867.8" y1="248.5" x2="873.5" y2="248.5"/><line x1="867.8" y1="413.3" x2="873.5" y2="413.3"/><line x1="998.8" y1="446.2" x2="998.8" y2="440.5"/><line x1="1130.3" y1="446.2" x2="1130.3" y2="440.5"/></g><rect x="981.8" y="56.2" width="133.2" height="15.6" fill="url(#cbB)"/><g stroke="#c8c8c8" stroke-width="1.2"><line x1="982.2" y1="71.8" x2="982.2" y2="76"/><line x1="1101.3" y1="71.8" x2="1101.3" y2="76"/></g><rect x="1200.5" y="51.5" width="130.8" height="394.7" fill="none" stroke="#bdbdbd" stroke-width="1.2"/><polyline points="1221.8,51.6 1222.0,62.0 1221.5,66.0 1222.5,76.0 1223.2,90.0 1224.3,105.0 1226.8,123.0 1231.5,139.0 1238.8,149.0 1253.0,155.6 1303.8,159.2 1308.5,165.3 1287.5,170.0 1276.7,175.4 1264.0,184.5 1244.0,194.6 1226.0,199.0 1216.0,204.3 1211.7,211.5 1202.6,217.7 1200.8,224.0 1200.8,250.0 1200.8,274.3 1202.0,282.0 1206.3,287.0 1224.3,293.4 1330.8,297.8 1283.9,306.8 1269.5,312.2 1267.6,317.0 1276.7,322.3 1249.6,326.7 1238.8,332.0 1231.5,339.3 1226.0,348.3 1225.0,359.2 1224.3,368.2 1224.9,372.7 1222.0,377.2 1224.7,381.7 1221.7,386.2 1224.4,390.7 1221.4,395.2 1224.1,399.7 1221.1,404.2 1223.8,408.7 1220.9,413.2 1223.5,417.7 1220.6,422.2 1223.2,426.7 1220.3,431.2 1222.9,435.7 1220.0,440.2 1222.6,444.7 1219.7,446.6" fill="none" stroke="#000" stroke-width="3.6" stroke-linejoin="round"/><g style="font-family:'Liberation Sans',Arial,sans-serif" fill="#000"><text x="831.48" y="93.70" font-size="30" textLength="32.46" lengthAdjust="spacingAndGlyphs">10</text><text x="846.32" y="261.30" font-size="30.5" textLength="16.75" lengthAdjust="spacingAndGlyphs">0</text><text x="819.47" y="425.00" font-size="30">-10</text><text x="846.97" y="484.20" font-size="30">-0.2</text><text x="997.17" y="484.20" font-size="30" textLength="17.57" lengthAdjust="spacingAndGlyphs">0</text><text x="1121.63" y="484.20" font-size="30">0.2</text><text x="1192.90" y="480.40" font-size="28.5" textLength="17.10" lengthAdjust="spacingAndGlyphs">0</text><text x="1308.43" y="480.40" font-size="28.5" textLength="58.08" lengthAdjust="spacingAndGlyphs">0.16</text><text x="974.97" y="100.00" font-size="30" textLength="17.57" lengthAdjust="spacingAndGlyphs">0</text><text x="1077.48" y="100.00" font-size="30" textLength="48.55" lengthAdjust="spacingAndGlyphs">100</text><text x="994.41" y="133.60" font-size="30" font-style="italic" textLength="24.67" lengthAdjust="spacingAndGlyphs">m</text><text x="1026.92" y="133.60" font-size="30" textLength="9.04" lengthAdjust="spacingAndGlyphs">(</text><text x="1036.44" y="133.60" font-size="30" font-style="italic" textLength="16.75" lengthAdjust="spacingAndGlyphs">μ</text><text x="1052.24" y="138.20" font-size="18.5" textLength="13.53" lengthAdjust="spacingAndGlyphs">B</text><text x="1067.55" y="133.60" font-size="30" textLength="8.29" lengthAdjust="spacingAndGlyphs">)</text><text x="971.71" y="524.90" font-size="30" font-style="italic" textLength="14.75" lengthAdjust="spacingAndGlyphs">k</text><text x="985.77" y="529.70" font-size="20" textLength="10.36" lengthAdjust="spacingAndGlyphs">x</text><text x="1004.22" y="524.90" font-size="30" textLength="9.04" lengthAdjust="spacingAndGlyphs">(</text><text x="1013.92" y="524.90" font-size="30" textLength="41.34" lengthAdjust="spacingAndGlyphs">nm</text><text x="1054.95" y="514.90" font-size="20" textLength="14.97" lengthAdjust="spacingAndGlyphs">-1</text><text x="1074.14" y="524.90" font-size="30" textLength="9.04" lengthAdjust="spacingAndGlyphs">)</text><text x="1184.77" y="525.80" font-size="30" textLength="64.30" lengthAdjust="spacingAndGlyphs">DOS</text><text x="1257.04" y="525.80" font-size="30" textLength="8.92" lengthAdjust="spacingAndGlyphs">(</text><text x="1266.77" y="525.80" font-size="30" textLength="35.35" lengthAdjust="spacingAndGlyphs">eV</text><text x="1301.72" y="515.90" font-size="21" textLength="15.53" lengthAdjust="spacingAndGlyphs">-1</text><text x="1326.24" y="525.80" font-size="30" textLength="18.81" lengthAdjust="spacingAndGlyphs">A</text><text x="1344.59" y="530.20" font-size="20" textLength="22.99" lengthAdjust="spacingAndGlyphs">uc</text><text x="1366.80" y="515.90" font-size="21" textLength="13.96" lengthAdjust="spacingAndGlyphs">-1</text><text x="1385.54" y="525.80" font-size="30" textLength="9.04" lengthAdjust="spacingAndGlyphs">)</text><g transform="translate(818.2,326.5) rotate(-90)"><text x="-2.41" y="0.00" font-size="30" textLength="181.13" lengthAdjust="spacingAndGlyphs">Energy (meV)</text></g></g><g style="font-family:'Liberation Sans',Arial,sans-serif" fill="#000"><text x="1375.25" y="49.60" font-size="44" textLength="22.96" lengthAdjust="spacingAndGlyphs" style="stroke:#000;stroke-width:1px">c</text></g><g stroke="#8a8a8a" stroke-width="1.3"><line x1="1504.6" y1="438.4" x2="1509.6" y2="438.4"/><line x1="1945.5" y1="438.4" x2="1940.5" y2="438.4"/><line x1="1504.6" y1="380.2" x2="1509.6" y2="380.2"/><line x1="1945.5" y1="380.2" x2="1940.5" y2="380.2"/><line x1="1504.6" y1="322.1" x2="1509.6" y2="322.1"/><line x1="1945.5" y1="322.1" x2="1940.5" y2="322.1"/><line x1="1504.6" y1="263.9" x2="1509.6" y2="263.9"/><line x1="1945.5" y1="263.9" x2="1940.5" y2="263.9"/><line x1="1504.6" y1="205.7" x2="1509.6" y2="205.7"/><line x1="1945.5" y1="205.7" x2="1940.5" y2="205.7"/><line x1="1504.6" y1="147.6" x2="1509.6" y2="147.6"/><line x1="1945.5" y1="147.6" x2="1940.5" y2="147.6"/><line x1="1504.6" y1="89.4" x2="1509.6" y2="89.4"/><line x1="1945.5" y1="89.4" x2="1940.5" y2="89.4"/><line x1="1614.8" y1="31.3" x2="1614.8" y2="36.3"/><line x1="1614.8" y1="496.5" x2="1614.8" y2="491.5"/><line x1="1725.0" y1="31.3" x2="1725.0" y2="36.3"/><line x1="1725.0" y1="496.5" x2="1725.0" y2="491.5"/><line x1="1835.2" y1="31.3" x2="1835.2" y2="36.3"/><line x1="1835.2" y1="496.5" x2="1835.2" y2="491.5"/></g><g clip-path="url(#clipC)" shape-rendering="crispEdges"><rect x="1504" y="31" width="443" height="3" fill="url(#r0)"/><rect x="1504" y="34" width="443" height="3" fill="url(#r1)"/><rect x="1504" y="37" width="443" height="3" fill="url(#r2)"/><rect x="1504" y="40" width="443" height="3" fill="url(#r3)"/><rect x="1504" y="43" width="443" height="3" fill="url(#r4)"/><rect x="1504" y="46" width="443" height="3" fill="url(#r5)"/><rect x="1504" y="49" width="443" height="3" fill="url(#r6)"/><rect x="1504" y="52" width="443" height="3" fill="url(#r7)"/><rect x="1504" y="55" width="443" height="3" fill="url(#r8)"/><rect x="1504" y="58" width="443" height="3" fill="url(#r9)"/><rect x="1504" y="61" width="443" height="3" fill="url(#r10)"/><rect x="1504" y="64" width="443" height="3" fill="url(#r11)"/><rect x="1504" y="67" width="443" height="3" fill="url(#r12)"/><rect x="1504" y="70" width="443" height="3" fill="url(#r13)"/><rect x="1504" y="73" width="443" height="3" fill="url(#r14)"/><rect x="1504" y="76" width="443" height="3" fill="url(#r15)"/><rect x="1504" y="79" width="443" height="3" fill="url(#r16)"/><rect x="1504" y="82" width="443" height="3" fill="url(#r17)"/><rect x="1504" y="85" width="443" height="3" fill="url(#r18)"/><rect x="1504" y="88" width="443" height="3" fill="url(#r19)"/><rect x="1504" y="91" width="443" height="3" fill="url(#r20)"/><rect x="1504" y="94" width="443" height="3" fill="url(#r21)"/><rect x="1504" y="97" width="443" height="3" fill="url(#r22)"/><rect x="1504" y="100" width="443" height="3" fill="url(#r23)"/><rect x="1504" y="103" width="443" height="3" fill="url(#r24)"/><rect x="1504" y="106" width="443" height="3" fill="url(#r25)"/><rect x="1504" y="109" width="443" height="3" fill="url(#r26)"/><rect x="1504" y="112" width="443" height="3" fill="url(#r27)"/><rect x="1504" y="115" width="443" height="3" fill="url(#r28)"/><rect x="1504" y="118" width="443" height="3" fill="url(#r29)"/><rect x="1504" y="121" width="443" height="3" fill="url(#r30)"/><rect x="1504" y="124" width="443" height="3" fill="url(#r31)"/><rect x="1504" y="127" width="443" height="3" fill="url(#r32)"/><rect x="1504" y="130" width="443" height="3" fill="url(#r33)"/><rect x="1504" y="133" width="443" height="3" fill="url(#r34)"/><rect x="1504" y="136" width="443" height="3" fill="url(#r35)"/><rect x="1504" y="139" width="443" height="3" fill="url(#r36)"/><rect x="1504" y="142" width="443" height="3" fill="url(#r37)"/><rect x="1504" y="145" width="443" height="3" fill="url(#r38)"/><rect x="1504" y="148" width="443" height="3" fill="url(#r39)"/><rect x="1504" y="151" width="443" height="3" fill="url(#r40)"/><rect x="1504" y="154" width="443" height="3" fill="url(#r41)"/><rect x="1504" y="157" width="443" height="3" fill="url(#r42)"/><rect x="1504" y="160" width="443" height="3" fill="url(#r43)"/><rect x="1504" y="163" width="443" height="3" fill="url(#r44)"/><rect x="1504" y="166" width="443" height="3" fill="url(#r45)"/><rect x="1504" y="169" width="443" height="3" fill="url(#r46)"/><rect x="1504" y="172" width="443" height="3" fill="url(#r47)"/><rect x="1504" y="175" width="443" height="3" fill="url(#r48)"/><rect x="1504" y="178" width="443" height="3" fill="url(#r49)"/><rect x="1504" y="181" width="443" height="3" fill="url(#r50)"/><rect x="1504" y="184" width="443" height="3" fill="url(#r51)"/><rect x="1504" y="187" width="443" height="3" fill="url(#r52)"/><rect x="1504" y="190" width="443" height="3" fill="url(#r53)"/><rect x="1504" y="193" width="443" height="3" fill="url(#r54)"/><rect x="1504" y="196" width="443" height="3" fill="url(#r55)"/><rect x="1504" y="199" width="443" height="3" fill="url(#r56)"/><rect x="1504" y="202" width="443" height="3" fill="url(#r57)"/><rect x="1504" y="205" width="443" height="3" fill="url(#r58)"/><rect x="1504" y="208" width="443" height="3" fill="url(#r59)"/><rect x="1504" y="211" width="443" height="3" fill="url(#r60)"/><rect x="1504" y="214" width="443" height="3" fill="url(#r61)"/><rect x="1504" y="217" width="443" height="3" fill="url(#r62)"/><rect x="1504" y="220" width="443" height="3" fill="url(#r63)"/><rect x="1504" y="223" width="443" height="3" fill="url(#r64)"/><rect x="1504" y="226" width="443" height="3" fill="url(#r65)"/><rect x="1504" y="229" width="443" height="3" fill="url(#r66)"/><rect x="1504" y="232" width="443" height="3" fill="url(#r67)"/><rect x="1504" y="235" width="443" height="3" fill="url(#r68)"/><rect x="1504" y="238" width="443" height="3" fill="url(#r69)"/><rect x="1504" y="241" width="443" height="3" fill="url(#r70)"/><rect x="1504" y="244" width="443" height="3" fill="url(#r71)"/><rect x="1504" y="247" width="443" height="3" fill="url(#r72)"/><rect x="1504" y="250" width="443" height="3" fill="url(#r73)"/><rect x="1504" y="253" width="443" height="3" fill="url(#r74)"/><rect x="1504" y="256" width="443" height="3" fill="url(#r75)"/><rect x="1504" y="259" width="443" height="3" fill="url(#r76)"/><rect x="1504" y="262" width="443" height="3" fill="url(#r77)"/><rect x="1504" y="265" width="443" height="3" fill="url(#r78)"/><rect x="1504" y="268" width="443" height="3" fill="url(#r79)"/><rect x="1504" y="271" width="443" height="3" fill="url(#r80)"/><rect x="1504" y="274" width="443" height="3" fill="url(#r81)"/><rect x="1504" y="277" width="443" height="3" fill="url(#r82)"/><rect x="1504" y="280" width="443" height="3" fill="url(#r83)"/><rect x="1504" y="283" width="443" height="3" fill="url(#r84)"/><rect x="1504" y="286" width="443" height="3" fill="url(#r85)"/><rect x="1504" y="289" width="443" height="3" fill="url(#r86)"/><rect x="1504" y="292" width="443" height="3" fill="url(#r87)"/><rect x="1504" y="295" width="443" height="3" fill="url(#r88)"/><rect x="1504" y="298" width="443" height="3" fill="url(#r89)"/><rect x="1504" y="301" width="443" height="3" fill="url(#r90)"/><rect x="1504" y="304" width="443" height="3" fill="url(#r91)"/><rect x="1504" y="307" width="443" height="3" fill="url(#r92)"/><rect x="1504" y="310" width="443" height="3" fill="url(#r93)"/><rect x="1504" y="313" width="443" height="3" fill="url(#r94)"/><rect x="1504" y="316" width="443" height="3" fill="url(#r95)"/><rect x="1504" y="319" width="443" height="3" fill="url(#r96)"/><rect x="1504" y="322" width="443" height="3" fill="url(#r97)"/><rect x="1504" y="325" width="443" height="3" fill="url(#r98)"/><rect x="1504" y="328" width="443" height="3" fill="url(#r99)"/><rect x="1504" y="331" width="443" height="3" fill="url(#r100)"/><rect x="1504" y="334" width="443" height="3" fill="url(#r101)"/><rect x="1504" y="337" width="443" height="3" fill="url(#r102)"/><rect x="1504" y="340" width="443" height="3" fill="url(#r103)"/><rect x="1504" y="343" width="443" height="3" fill="url(#r104)"/><rect x="1504" y="346" width="443" height="3" fill="url(#r105)"/><rect x="1504" y="349" width="443" height="3" fill="url(#r106)"/><rect x="1504" y="352" width="443" height="3" fill="url(#r107)"/><rect x="1504" y="355" width="443" height="3" fill="url(#r108)"/><rect x="1504" y="358" width="443" height="3" fill="url(#r109)"/><rect x="1504" y="361" width="443" height="3" fill="url(#r110)"/><rect x="1504" y="364" width="443" height="3" fill="url(#r111)"/><rect x="1504" y="367" width="443" height="3" fill="url(#r112)"/><rect x="1504" y="370" width="443" height="3" fill="url(#r113)"/><rect x="1504" y="373" width="443" height="3" fill="url(#r114)"/><rect x="1504" y="376" width="443" height="3" fill="url(#r115)"/><rect x="1504" y="379" width="443" height="3" fill="url(#r116)"/><rect x="1504" y="382" width="443" height="3" fill="url(#r117)"/><rect x="1504" y="385" width="443" height="3" fill="url(#r118)"/><rect x="1504" y="388" width="443" height="3" fill="url(#r119)"/><rect x="1504" y="391" width="443" height="3" fill="url(#r120)"/><rect x="1504" y="394" width="443" height="3" fill="url(#r121)"/><rect x="1504" y="397" width="443" height="3" fill="url(#r122)"/><rect x="1504" y="400" width="443" height="3" fill="url(#r123)"/><rect x="1504" y="403" width="443" height="3" fill="url(#r124)"/><rect x="1504" y="406" width="443" height="3" fill="url(#r125)"/><rect x="1504" y="409" width="443" height="3" fill="url(#r126)"/><rect x="1504" y="412" width="443" height="3" fill="url(#r127)"/><rect x="1504" y="415" width="443" height="3" fill="url(#r128)"/><rect x="1504" y="418" width="443" height="3" fill="url(#r129)"/><rect x="1504" y="421" width="443" height="3" fill="url(#r130)"/><rect x="1504" y="424" width="443" height="3" fill="url(#r131)"/><rect x="1504" y="427" width="443" height="3" fill="url(#r132)"/><rect x="1504" y="430" width="443" height="3" fill="url(#r133)"/><rect x="1504" y="433" width="443" height="3" fill="url(#r134)"/><rect x="1504" y="436" width="443" height="3" fill="url(#r135)"/><rect x="1504" y="439" width="443" height="3" fill="url(#r136)"/><rect x="1504" y="442" width="443" height="3" fill="url(#r137)"/><rect x="1504" y="445" width="443" height="3" fill="url(#r138)"/><rect x="1504" y="448" width="443" height="3" fill="url(#r139)"/><rect x="1504" y="451" width="443" height="3" fill="url(#r140)"/><rect x="1504" y="454" width="443" height="3" fill="url(#r141)"/><rect x="1504" y="457" width="443" height="3" fill="url(#r142)"/><rect x="1504" y="460" width="443" height="3" fill="url(#r143)"/><rect x="1504" y="463" width="443" height="3" fill="url(#r144)"/><rect x="1504" y="466" width="443" height="3" fill="url(#r145)"/><rect x="1504" y="469" width="443" height="3" fill="url(#r146)"/><rect x="1504" y="472" width="443" height="3" fill="url(#r147)"/><rect x="1504" y="475" width="443" height="3" fill="url(#r148)"/><rect x="1504" y="478" width="443" height="3" fill="url(#r149)"/><rect x="1504" y="481" width="443" height="3" fill="url(#r150)"/><rect x="1504" y="484" width="443" height="3" fill="url(#r151)"/><rect x="1504" y="487" width="443" height="3" fill="url(#r152)"/><rect x="1504" y="490" width="443" height="3" fill="url(#r153)"/><rect x="1504" y="493" width="443" height="3" fill="url(#r154)"/><rect x="1504" y="496" width="443" height="3" fill="url(#r155)"/></g><g clip-path="url(#clipC)" stroke="#202030" stroke-opacity="0.55" stroke-width="1.3"><line x1="1504.6" y1="438.4" x2="1509.6" y2="438.4"/><line x1="1945.5" y1="438.4" x2="1940.5" y2="438.4"/><line x1="1504.6" y1="380.2" x2="1509.6" y2="380.2"/><line x1="1945.5" y1="380.2" x2="1940.5" y2="380.2"/><line x1="1504.6" y1="322.1" x2="1509.6" y2="322.1"/><line x1="1945.5" y1="322.1" x2="1940.5" y2="322.1"/><line x1="1504.6" y1="263.9" x2="1509.6" y2="263.9"/><line x1="1945.5" y1="263.9" x2="1940.5" y2="263.9"/><line x1="1504.6" y1="205.7" x2="1509.6" y2="205.7"/><line x1="1945.5" y1="205.7" x2="1940.5" y2="205.7"/><line x1="1504.6" y1="147.6" x2="1509.6" y2="147.6"/><line x1="1945.5" y1="147.6" x2="1940.5" y2="147.6"/><line x1="1504.6" y1="89.4" x2="1509.6" y2="89.4"/><line x1="1945.5" y1="89.4" x2="1940.5" y2="89.4"/><line x1="1614.8" y1="31.3" x2="1614.8" y2="36.3"/><line x1="1614.8" y1="496.5" x2="1614.8" y2="491.5"/><line x1="1725.0" y1="31.3" x2="1725.0" y2="36.3"/><line x1="1725.0" y1="496.5" x2="1725.0" y2="491.5"/><line x1="1835.2" y1="31.3" x2="1835.2" y2="36.3"/><line x1="1835.2" y1="496.5" x2="1835.2" y2="491.5"/></g><g stroke="#000" stroke-width="1.6" fill="none"><path d="M1729.8,84 L1741.8,96 M1729.8,96 L1741.8,84"/><path d="M1740.7,84 L1752.7,96 M1740.7,96 L1752.7,84"/><path d="M1763.2,84 L1775.2,96 M1763.2,96 L1775.2,84"/><path d="M1784.8,84 L1796.8,96 M1784.8,96 L1796.8,84"/><path d="M1807.3,84 L1819.3,96 M1807.3,96 L1819.3,84"/><path d="M1829.3,84 L1841.3,96 M1829.3,96 L1841.3,84"/></g><rect x="1504.6" y="31.3" width="440.9" height="465.2" fill="none" stroke="#8a8a8a" stroke-width="1.5"/><rect x="1515.4" y="17.1" width="114.4" height="11.7" fill="url(#cbC)" stroke="#333" stroke-width="0.6"/><g stroke="#333" stroke-width="0.8"><line x1="1539.8" y1="17.1" x2="1539.8" y2="19"/><line x1="1584.2" y1="17.1" x2="1584.2" y2="19"/></g><g stroke="#999" stroke-width="1.2"><line x1="1497.3" y1="33.0" x2="1497.3" y2="36.0"/><line x1="1497.3" y1="91.0" x2="1497.3" y2="94.0"/><line x1="1497.3" y1="149.5" x2="1497.3" y2="152.5"/><line x1="1497.3" y1="264.5" x2="1497.3" y2="267.5"/><line x1="1497.3" y1="383.0" x2="1497.3" y2="386.0"/><line x1="1497.3" y1="411.5" x2="1497.3" y2="414.5"/></g><g style="font-family:'Liberation Sans',Arial,sans-serif" fill="#000"><text x="1534.24" y="14.30" font-size="17.3" textLength="11.26" lengthAdjust="spacingAndGlyphs">4</text><text x="1578.09" y="14.30" font-size="17.3" textLength="12.17" lengthAdjust="spacingAndGlyphs">6</text><text x="1622.88" y="14.30" font-size="17.3" textLength="11.73" lengthAdjust="spacingAndGlyphs">8</text><text x="1648.25" y="23.70" font-size="29.5" textLength="22.53" lengthAdjust="spacingAndGlyphs">ln</text><text x="1679.43" y="23.70" font-size="29.5" font-style="italic" textLength="22.85" lengthAdjust="spacingAndGlyphs">R</text><text x="1449.86" y="47.50" font-size="30" textLength="40.60" lengthAdjust="spacingAndGlyphs">0.4</text><text x="1448.00" y="163.50" font-size="30" textLength="42.64" lengthAdjust="spacingAndGlyphs">0.2</text><text x="1465.39" y="278.50" font-size="30" textLength="17.22" lengthAdjust="spacingAndGlyphs">0</text><text x="1435.55" y="370.00" font-size="30" textLength="52.38" lengthAdjust="spacingAndGlyphs">-0.2</text><text x="1438.29" y="507.10" font-size="30" textLength="50.88" lengthAdjust="spacingAndGlyphs">-0.4</text><text x="1494.26" y="528.40" font-size="30" textLength="26.86" lengthAdjust="spacingAndGlyphs">-2</text><text x="1593.93" y="528.40" font-size="30" textLength="25.47" lengthAdjust="spacingAndGlyphs">-1</text><text x="1715.13" y="528.40" font-size="30" textLength="18.15" lengthAdjust="spacingAndGlyphs">0</text><text x="1822.70" y="528.40" font-size="30" textLength="12.38" lengthAdjust="spacingAndGlyphs">1</text><text x="1932.01" y="528.40" font-size="30" textLength="17.58" lengthAdjust="spacingAndGlyphs">2</text><text x="1556.65" y="566.30" font-size="30" textLength="193.40" lengthAdjust="spacingAndGlyphs">carrier density,</text><text x="1759.01" y="566.30" font-size="30" font-style="italic" textLength="16.54" lengthAdjust="spacingAndGlyphs">n</text><text x="1783.04" y="566.30" font-size="30" textLength="8.92" lengthAdjust="spacingAndGlyphs">(</text><text x="1793.85" y="566.30" font-size="30" textLength="31.35" lengthAdjust="spacingAndGlyphs">10</text><text x="1825.89" y="556.90" font-size="20" textLength="22.00" lengthAdjust="spacingAndGlyphs">12</text><text x="1852.72" y="566.30" font-size="30" textLength="40.28" lengthAdjust="spacingAndGlyphs">cm</text><text x="1892.10" y="556.90" font-size="20" textLength="18.02" lengthAdjust="spacingAndGlyphs">-2</text><text x="1911.85" y="566.30" font-size="30" textLength="8.29" lengthAdjust="spacingAndGlyphs">)</text><g transform="translate(1425.7,452.5) rotate(-90)"><text x="-1.26" y="0.00" font-size="30">displacement field,</text><text x="252.20" y="0.00" font-size="30" font-style="italic" textLength="21.14" lengthAdjust="spacingAndGlyphs">D</text><text x="280.78" y="0.00" font-size="30" textLength="11.93" lengthAdjust="spacingAndGlyphs">(</text><text x="290.06" y="0.00" font-size="30" textLength="20.77" lengthAdjust="spacingAndGlyphs">V</text><text x="318.25" y="0.00" font-size="30" textLength="40.78" lengthAdjust="spacingAndGlyphs">nm</text><text x="359.33" y="-9.70" font-size="20.6" textLength="15.42" lengthAdjust="spacingAndGlyphs">-1</text><text x="378.53" y="0.00" font-size="30" textLength="9.80" lengthAdjust="spacingAndGlyphs">)</text></g></g>
</svg></body></html>
